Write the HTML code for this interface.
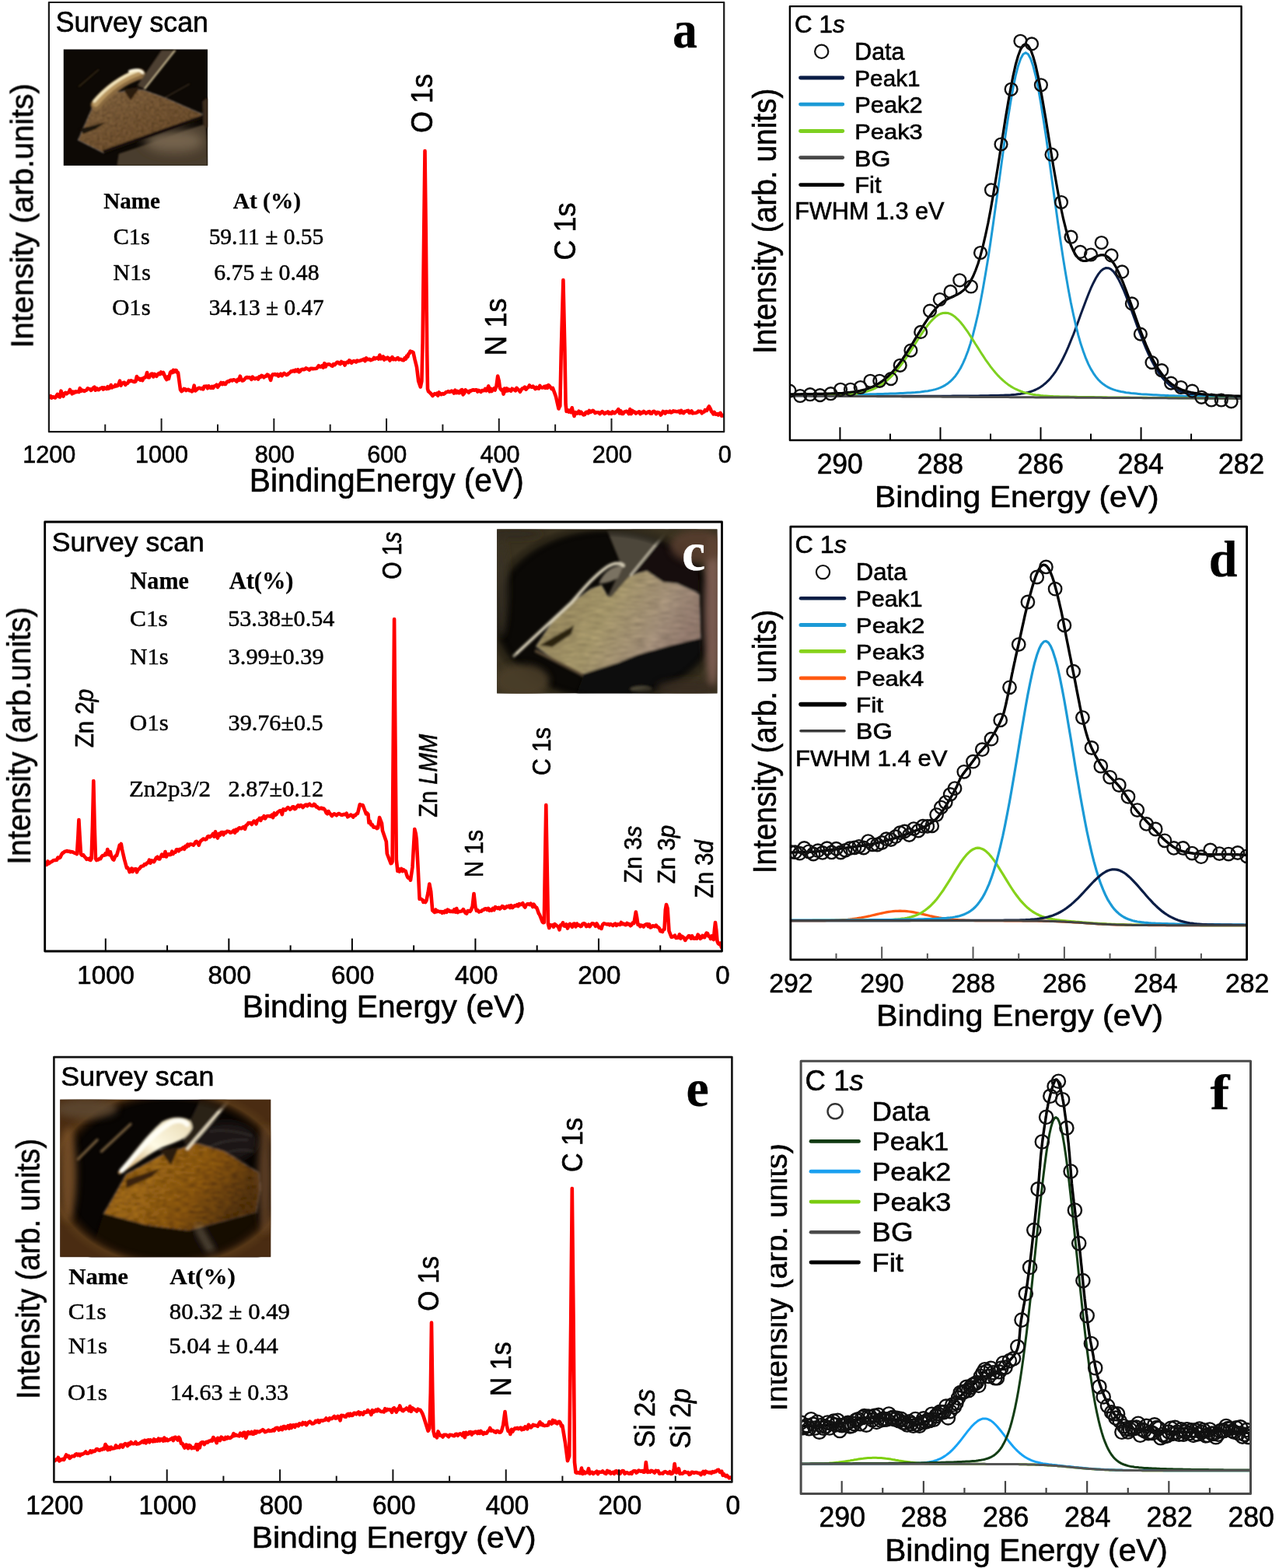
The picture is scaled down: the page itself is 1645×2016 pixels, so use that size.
<!DOCTYPE html>
<html><head><meta charset="utf-8"><title>XPS spectra</title>
<style>html,body{margin:0;padding:0;background:#fff;width:1645px;height:2016px;overflow:hidden;} svg{display:block;}</style></head>
<body><svg width="1645" height="2016" viewBox="0 0 1645 2016">
<rect width="1645" height="2016" fill="#fff"/>
<defs><clipPath id="clipf"><rect x="991.6" y="1400" width="60" height="500"/></clipPath>

<filter id="blA" x="-5%" y="-5%" width="110%" height="110%"><feGaussianBlur stdDeviation="9"/></filter>
<filter id="blA2" x="-20%" y="-20%" width="140%" height="140%"><feGaussianBlur stdDeviation="25"/></filter>
<filter id="blA3" x="-50%" y="-50%" width="200%" height="200%"><feGaussianBlur stdDeviation="60"/></filter>
<filter id="tex" x="0" y="0" width="100%" height="100%">
  <feTurbulence type="fractalNoise" baseFrequency="0.035" numOctaves="3" seed="4" result="n"/>
  <feColorMatrix in="n" type="matrix" values="1.0 0 0 0 0.3  1.0 0 0 0 0.28  1.0 0 0 0 0.25  0 0 0 0 1" result="g"/>
  <feBlend in="g" in2="SourceGraphic" mode="multiply" result="m"/>
  <feComposite in="m" in2="SourceGraphic" operator="in"/>
</filter>
<filter id="tex2" x="0" y="0" width="100%" height="100%">
  <feTurbulence type="fractalNoise" baseFrequency="0.01 0.07" numOctaves="3" seed="9" result="n"/>
  <feColorMatrix in="n" type="matrix" values="0.7 0 0 0 0.45  0.7 0 0 0 0.45  0.7 0 0 0 0.45  0 0 0 0 1" result="g"/>
  <feBlend in="g" in2="SourceGraphic" mode="multiply" result="m"/>
  <feComposite in="m" in2="SourceGraphic" operator="in"/>
</filter>
<filter id="tex3" x="0" y="0" width="100%" height="100%">
  <feTurbulence type="fractalNoise" baseFrequency="0.02 0.05" numOctaves="3" seed="5" result="n"/>
  <feColorMatrix in="n" type="matrix" values="1.1 0 0 0 0.25  1.1 0 0 0 0.2  1.1 0 0 0 0.15  0 0 0 0 1" result="g"/>
  <feBlend in="g" in2="SourceGraphic" mode="multiply" result="m"/>
  <feComposite in="m" in2="SourceGraphic" operator="in"/>
</filter>
<radialGradient id="vigC" cx="0.5" cy="0.52" r="0.56">
  <stop offset="0.84" stop-color="#000" stop-opacity="0"/>
  <stop offset="0.93" stop-color="#2c2618" stop-opacity="0.85"/>
  <stop offset="1" stop-color="#3a3220" stop-opacity="1"/>
</radialGradient>
<radialGradient id="vigE" cx="0.52" cy="0.5" r="0.6">
  <stop offset="0.80" stop-color="#1a0e04" stop-opacity="0"/>
  <stop offset="0.86" stop-color="#2a1808" stop-opacity="0.7"/>
  <stop offset="0.92" stop-color="#5a3a18" stop-opacity="0.95"/>
  <stop offset="1" stop-color="#4a2c12" stop-opacity="1"/>
</radialGradient>
<linearGradient id="sheetA" x1="0" y1="0" x2="1" y2="1">
  <stop offset="0" stop-color="#8d6e48"/><stop offset="0.5" stop-color="#7b5b37"/><stop offset="1" stop-color="#6a4c2c"/>
</linearGradient>
<linearGradient id="tubeA" x1="0" y1="0" x2="0.25" y2="1">
  <stop offset="0" stop-color="#f8e8b8"/><stop offset="0.35" stop-color="#c8a468"/><stop offset="0.7" stop-color="#8a6a40"/><stop offset="1" stop-color="#4a3520"/>
</linearGradient>
<linearGradient id="sheetC" x1="0" y1="0" x2="1" y2="0.3">
  <stop offset="0" stop-color="#98885c"/><stop offset="0.5" stop-color="#b4a474"/><stop offset="0.85" stop-color="#b09a84"/><stop offset="1" stop-color="#a08678"/>
</linearGradient>
<linearGradient id="sheetE" x1="0" y1="0" x2="1" y2="0.4">
  <stop offset="0" stop-color="#845210"/><stop offset="0.35" stop-color="#a8721a"/><stop offset="0.7" stop-color="#905c12"/><stop offset="1" stop-color="#5a380a"/>
</linearGradient>
<linearGradient id="toolE" x1="0" y1="1" x2="1" y2="0">
  <stop offset="0" stop-color="#c89850"/><stop offset="0.5" stop-color="#fffbe6"/><stop offset="1" stop-color="#e8d8b0"/>
</linearGradient>

</defs>
<svg x="81.5" y="63.3" width="185.6" height="149.6" viewBox="30 28 1590 1282" preserveAspectRatio="none" overflow="hidden">
<rect x="30" y="28" width="1590" height="1282" fill="#0d0905"/>
<g filter="url(#blA)">
<polygon points="620,1310 640,1180 1000,1060 1350,930 1600,850 1620,1310" fill="#4a3d2d"/>
<ellipse cx="1250" cy="1040" rx="330" ry="120" fill="#74644e" filter="url(#blA3)"/>
<polygon points="1560,600 1620,560 1620,900 1570,860" fill="#3a2a1c"/>
<polygon points="190,1030 360,640 600,500 900,470 1150,560 1560,740 1540,790 470,1170" fill="url(#sheetA)" filter="url(#tex)"/>
<polygon points="205,905 495,835 380,910 250,960" fill="#1a1208"/>
<polygon points="690,470 880,440 770,590" fill="#2c1c0e"/>
<line x1="470" y1="1160" x2="1560" y2="775" stroke="#130d07" stroke-width="40"/>
<path d="M390,640 C500,500 680,360 870,300" stroke="#8a6a40" stroke-width="120" fill="none" stroke-linecap="round"/>
<path d="M385,625 C500,490 670,350 860,285" stroke="#b89660" stroke-width="70" fill="none" stroke-linecap="round"/>
<path d="M370,600 C480,475 650,335 850,262" stroke="#f4e6bc" stroke-width="34" fill="none" stroke-linecap="round"/>
<path d="M760,270 C820,250 870,250 905,285" stroke="#fff8e0" stroke-width="30" fill="none" stroke-linecap="round"/>
<polygon points="1110,40 1270,40 930,470 845,425" fill="#4e4032"/>
<line x1="1262" y1="40" x2="925" y2="465" stroke="#e2d2a6" stroke-width="14"/>
<path d="M200,440 L420,250" stroke="#4a3a20" stroke-width="10" fill="none"/>
<path d="M1150,560 L1420,410" stroke="#5a4a35" stroke-width="8" fill="none"/>
</g>
</svg>
<svg x="639.2" y="680.4" width="283.3" height="211.0" viewBox="18 25 1607 1197" preserveAspectRatio="none" overflow="hidden">
<rect x="18" y="25" width="1607" height="1197" fill="#0b0906"/>
<g filter="url(#blA)">
<polygon points="1000,25 1480,25 1490,480 1000,400" fill="#15110c"/>
<polygon points="300,880 420,700 560,560 700,460 780,430 830,520 900,420 1000,360 1110,330 1230,410 1330,420 1460,480 1495,500 1505,820 1300,870 1050,940 900,1000 650,1080 500,1020" fill="url(#sheetC)" filter="url(#tex2)"/>
<polygon points="300,900 650,1080 640,1100 290,920" fill="#5a4a34"/>
<polygon points="330,870 580,725 560,790 420,885" fill="#2a2010"/>
<polygon points="650,1080 900,1000 1050,940 1300,870 1505,820 1510,1150 1200,1222 600,1222" fill="#0d0b08"/>
<ellipse cx="1070" cy="1190" rx="80" ry="22" fill="#4a4436"/>
<polygon points="820,30 1260,30 990,360 850,520 825,515 930,300" fill="#4e463a"/>
<path d="M760,420 C800,330 860,290 940,290 L900,380 C850,410 800,420 760,420 Z" fill="#7a7262"/>
<line x1="1262" y1="32" x2="990" y2="365" stroke="#d6ceb8" stroke-width="12"/>
<path d="M140,950 L560,560 C640,470 720,370 820,300 C870,270 910,265 940,290" stroke="#dcd4bc" stroke-width="22" fill="none" stroke-linecap="round"/>
</g>
<rect x="18" y="25" width="1607" height="1197" fill="url(#vigC)"/>
<g filter="url(#blA2)">
<ellipse cx="1590" cy="620" rx="60" ry="560" fill="#7e5e52" opacity="0.95"/>
<ellipse cx="1480" cy="150" rx="200" ry="120" fill="#5a4030" opacity="0.8"/>
<ellipse cx="50" cy="450" rx="50" ry="360" fill="#3a3424" opacity="0.85"/>
<ellipse cx="150" cy="60" rx="200" ry="40" fill="#2e2a1c" opacity="0.6"/>
<ellipse cx="200" cy="1130" rx="200" ry="120" fill="#4a3e28" opacity="0.9"/>
<ellipse cx="1400" cy="1180" rx="220" ry="60" fill="#3a2c20" opacity="0.8"/>
</g>
</svg>
<svg x="77.3" y="1413.7" width="270.9" height="202.4" viewBox="95 75 1485 1110" preserveAspectRatio="none" overflow="hidden">
<rect x="95" y="75" width="1485" height="1110" fill="#080503"/>
<g filter="url(#blA)">
<ellipse cx="1270" cy="370" rx="220" ry="140" fill="#1a1713" filter="url(#blA2)"/>
<path d="M1120,420 C1200,380 1300,350 1420,360 M1150,300 C1250,280 1350,300 1450,330 M1200,480 C1280,430 1380,420 1460,440" stroke="#4a4640" stroke-width="8" fill="none" opacity="0.7"/>
<polygon points="400,880 470,760 560,600 800,470 1050,380 1250,440 1500,590 1510,700 1480,870 1000,1000 700,960" fill="url(#sheetE)" filter="url(#tex3)"/>
<polygon points="560,640 800,560 740,620 560,700" fill="#3a2208"/>
<polygon points="400,880 700,960 1000,1000 1480,870 1500,1185 300,1185" fill="#120a04"/>
<path d="M1060,960 C1100,1050 1140,1100 1180,1180" stroke="#c8b898" stroke-width="46" opacity="0.45" fill="none" filter="url(#blA2)"/>
<polygon points="1080,80 1286,80 986,428 960,330" fill="#2a2016"/>
<line x1="1286" y1="82" x2="986" y2="428" stroke="#f4e8cc" stroke-width="20"/>
<path d="M502,588 C600,470 700,330 814,231 C870,195 960,190 1006,220 C1030,250 1030,280 1022,286 C990,340 950,357 951,357 C880,390 840,400 814,412 C740,450 680,494 677,494 C600,545 540,590 513,604 Z" fill="url(#toolE)"/>
<path d="M530,575 C640,450 760,300 880,235 C930,215 970,225 990,250" stroke="#fffef5" stroke-width="34" fill="none" stroke-linecap="round"/>
<polygon points="795,428 932,412 877,538" fill="#2a1a0c"/>
<path d="M220,496 L357,359 M386,441 L592,248" stroke="#7a6240" stroke-width="18" fill="none" stroke-linecap="round"/>
</g>
<rect x="95" y="75" width="1485" height="1110" fill="url(#vigE)"/>
<g filter="url(#blA2)">
<ellipse cx="150" cy="600" rx="60" ry="330" fill="#7a5228" opacity="0.9"/>
<ellipse cx="1540" cy="640" rx="50" ry="380" fill="#6e4a2a" opacity="0.8"/>
<ellipse cx="280" cy="140" rx="220" ry="70" fill="#5e4a34" opacity="0.8"/>
</g>
</svg>
<clipPath id="cpa"><rect x="63" y="3" width="868" height="552"/></clipPath>
<clipPath id="cpc"><rect x="58" y="671" width="870" height="552"/></clipPath>
<clipPath id="cpe"><rect x="69.5" y="1359" width="872" height="546"/></clipPath>
<clipPath id="cpb"><rect x="1016" y="8" width="580.5" height="558"/></clipPath>
<clipPath id="cpd"><rect x="1017" y="677" width="586.5" height="556.6"/></clipPath>
<clipPath id="cpf"><rect x="1030.5" y="1364" width="577.8" height="556.3"/></clipPath>
<path clip-path="url(#cpa)" d="M63.5,511.0 L65.0,509.1 L66.5,511.6 L68.0,510.2 L69.5,510.6 L71.0,511.4 L72.5,509.1 L74.0,506.9 L75.5,509.8 L77.0,510.5 L78.5,502.7 L80.0,508.0 L81.4,509.6 L82.8,506.0 L84.3,504.8 L85.7,506.3 L87.1,505.0 L88.5,504.6 L90.0,501.0 L91.4,503.7 L92.8,506.3 L94.2,503.7 L95.6,505.0 L97.1,503.3 L98.5,504.1 L99.9,503.3 L101.3,504.1 L102.8,499.1 L104.2,502.9 L105.6,501.5 L107.0,502.1 L108.5,502.9 L109.9,502.1 L111.3,501.6 L112.8,499.3 L114.2,500.0 L115.6,500.3 L117.1,501.9 L118.5,500.5 L120.0,498.6 L121.4,497.7 L122.8,501.6 L124.3,499.2 L125.7,501.0 L127.1,501.1 L128.6,499.6 L130.0,499.0 L131.4,498.3 L132.8,500.6 L134.2,498.5 L135.7,499.4 L137.1,500.0 L138.5,497.2 L139.9,499.5 L141.3,498.8 L142.7,495.0 L144.1,498.3 L145.5,497.2 L147.0,497.2 L148.4,495.0 L149.8,496.4 L151.2,496.0 L152.6,493.9 L154.1,489.7 L155.5,495.7 L157.0,493.1 L158.4,492.3 L159.9,491.8 L161.3,494.8 L162.8,493.0 L164.2,492.7 L165.7,489.7 L167.1,490.2 L168.6,489.4 L170.0,490.0 L171.5,490.5 L172.9,491.0 L174.4,490.6 L175.9,484.0 L177.4,487.3 L178.8,486.7 L180.3,488.6 L181.8,486.9 L183.3,489.1 L184.8,485.7 L186.2,485.5 L187.7,484.0 L189.1,479.0 L190.4,485.1 L191.8,485.3 L193.2,482.7 L194.5,480.7 L195.9,480.6 L197.3,484.5 L198.6,480.8 L200.0,482.0 L201.4,483.7 L202.9,481.2 L204.3,480.0 L205.7,481.1 L207.1,478.5 L208.6,480.2 L210.0,479.0 L211.5,482.5 L213.0,486.0 L214.3,488.0 L215.7,484.5 L217.0,487.0 L219.0,479.0 L220.3,477.6 L221.7,479.0 L223.0,475.9 L224.4,478.1 L225.7,476.0 L226.8,476.3 L227.9,478.8 L229.0,479.0 L230.5,490.0 L232.0,501.0 L233.5,503.2 L235.0,502.2 L236.5,499.9 L238.0,500.2 L239.4,502.0 L240.9,501.1 L242.4,500.9 L243.9,502.3 L245.4,502.0 L246.8,503.4 L248.3,501.7 L249.7,495.7 L251.2,502.4 L252.6,501.2 L254.1,499.9 L255.5,498.9 L256.9,498.9 L258.4,499.9 L259.8,499.2 L261.3,500.4 L262.7,496.7 L264.1,496.8 L265.6,496.5 L267.0,499.3 L268.5,496.3 L269.9,498.3 L271.4,498.8 L272.8,497.0 L274.2,498.7 L275.7,496.4 L277.1,496.1 L278.6,494.7 L280.0,497.8 L281.4,495.7 L282.9,493.9 L284.3,492.0 L285.7,494.0 L287.2,492.1 L288.6,494.0 L290.1,494.0 L291.5,491.4 L292.9,490.4 L294.4,490.7 L295.8,489.1 L297.2,488.7 L298.7,489.4 L300.1,488.3 L301.6,488.6 L303.0,489.0 L304.5,490.5 L305.9,487.9 L307.4,488.8 L308.8,483.6 L310.3,487.7 L311.7,489.5 L313.2,489.1 L314.6,487.5 L316.1,485.8 L317.5,485.0 L319.0,485.6 L320.5,485.2 L321.9,485.8 L323.4,487.9 L324.8,484.6 L326.3,486.3 L327.7,487.1 L329.2,486.3 L330.6,485.8 L332.1,487.5 L333.5,484.3 L335.0,485.0 L336.4,482.8 L337.9,483.5 L339.4,485.2 L340.8,483.9 L342.2,483.7 L343.7,481.6 L345.1,482.2 L346.6,484.7 L348.1,488.8 L349.5,483.4 L350.9,481.2 L352.4,481.6 L353.9,481.0 L355.3,482.1 L356.8,481.2 L358.2,483.6 L359.6,482.2 L361.1,480.6 L362.6,483.2 L364.0,481.0 L365.5,479.9 L367.0,481.3 L368.4,482.1 L369.9,481.5 L371.4,480.0 L372.9,479.1 L374.3,477.4 L375.8,477.5 L377.3,476.5 L378.8,477.5 L380.2,475.7 L381.7,477.1 L383.2,475.2 L384.7,478.3 L386.1,477.2 L387.6,475.2 L389.1,474.8 L390.6,475.2 L392.0,474.8 L393.5,473.3 L395.0,474.0 L396.5,474.8 L398.0,475.6 L399.5,473.8 L400.9,473.8 L402.4,474.3 L403.9,474.0 L405.4,474.0 L406.9,473.8 L408.4,472.3 L409.9,470.2 L411.3,471.4 L412.8,471.7 L414.3,470.2 L415.8,472.5 L417.3,467.1 L418.8,471.5 L420.2,468.8 L421.7,468.5 L423.2,468.2 L424.7,469.0 L426.1,470.0 L427.6,470.6 L429.0,468.2 L430.5,469.2 L431.9,467.3 L433.4,465.8 L434.8,465.7 L436.2,467.3 L437.7,468.0 L439.1,465.0 L440.6,466.7 L442.0,466.2 L443.5,469.5 L444.9,466.6 L446.3,465.6 L447.8,466.2 L449.2,463.3 L450.7,464.2 L452.1,466.7 L453.6,465.2 L455.0,464.0 L456.5,464.8 L457.9,465.5 L459.4,463.5 L460.8,464.2 L462.3,463.9 L463.7,463.6 L465.2,462.8 L466.6,462.8 L468.1,461.6 L469.5,464.2 L471.0,460.4 L472.4,462.3 L473.9,462.1 L475.3,461.9 L476.8,463.1 L478.2,462.5 L479.7,462.1 L481.1,459.9 L482.6,461.3 L484.0,460.4 L485.5,460.0 L486.9,461.6 L488.4,456.5 L489.9,461.4 L491.3,459.8 L492.8,458.4 L494.2,462.6 L495.6,460.3 L497.1,461.3 L498.6,459.6 L500.0,461.0 L501.5,463.5 L502.9,460.9 L504.4,459.1 L505.9,462.2 L507.3,461.4 L508.8,462.3 L510.3,460.8 L511.7,460.2 L513.2,462.3 L514.7,461.8 L516.1,462.1 L517.6,463.0 L519.1,463.3 L520.5,460.4 L522.0,461.5 L523.2,457.5 L524.3,458.8 L525.5,455.0 L526.5,454.4 L527.6,451.5 L528.6,452.0 L530.0,452.3 L531.5,453.0 L533.5,462.0 L536.0,472.0 L538.2,490.0 L540.8,497.5 L542.4,490.0 L543.6,440.0 L545.2,300.0 L546.5,194.0 L547.8,300.0 L549.2,450.0 L550.0,500.0 L551.0,503.2 L552.0,504.0 L553.5,505.4 L554.9,506.9 L556.4,509.0 L557.8,507.3 L559.1,506.2 L560.5,506.9 L561.9,505.8 L563.3,508.6 L564.6,504.4 L566.0,506.0 L567.5,507.1 L569.0,506.0 L570.5,506.7 L572.0,505.8 L573.5,504.3 L575.0,504.0 L576.5,503.1 L578.0,504.0 L579.5,503.8 L580.9,502.6 L582.4,503.1 L583.9,505.5 L585.3,501.7 L586.8,505.2 L588.3,503.0 L589.7,505.3 L591.2,505.1 L592.7,501.8 L594.1,501.1 L595.6,507.4 L597.1,505.6 L598.5,501.3 L600.0,503.0 L601.4,503.0 L602.9,504.8 L604.3,502.5 L605.7,502.7 L607.1,501.7 L608.6,501.2 L610.0,501.8 L611.4,501.4 L612.9,501.2 L614.3,503.6 L615.7,501.9 L617.1,502.8 L618.6,503.9 L620.0,502.0 L621.4,502.1 L622.8,502.1 L624.1,500.0 L625.5,502.3 L626.9,499.9 L628.3,496.5 L629.7,503.3 L631.1,499.7 L632.5,503.0 L633.8,501.0 L635.2,499.5 L636.6,501.5 L638.5,496.0 L640.2,483.5 L641.8,490.0 L643.0,499.0 L643.9,500.0 L644.8,501.5 L646.2,501.0 L647.6,506.6 L648.9,499.6 L650.3,503.0 L651.7,499.3 L653.1,502.3 L654.5,500.7 L655.9,501.9 L657.2,502.6 L658.6,499.7 L660.0,501.0 L661.5,500.9 L663.0,502.4 L664.5,498.9 L666.0,500.5 L667.5,501.8 L669.0,503.7 L670.5,501.0 L672.0,499.3 L673.5,499.3 L675.0,497.6 L676.5,500.7 L678.0,498.8 L679.5,498.0 L681.0,495.5 L682.5,497.2 L684.0,497.8 L685.5,496.6 L687.0,498.2 L688.5,500.0 L690.0,498.0 L691.4,499.2 L692.9,499.6 L694.3,496.0 L695.7,497.8 L697.1,498.5 L698.6,498.2 L700.0,497.0 L701.4,498.8 L702.7,496.4 L704.1,498.8 L705.4,495.1 L706.8,496.5 L708.2,498.2 L709.6,500.0 L711.0,499.0 L715.0,510.0 L718.5,525.5 L719.4,523.4 L720.3,522.0 L721.8,450.0 L724.4,360.0 L726.4,450.0 L727.6,520.0 L728.6,529.0 L730.0,527.1 L731.5,529.5 L732.9,527.6 L734.3,530.1 L735.7,524.3 L737.1,530.4 L738.6,535.0 L740.0,530.0 L741.5,531.8 L743.0,531.4 L744.5,528.7 L746.0,531.8 L747.5,529.8 L749.0,531.8 L750.5,533.4 L752.0,533.1 L753.5,530.1 L755.0,529.6 L756.5,531.3 L758.0,528.0 L759.5,529.8 L761.0,529.1 L762.5,527.8 L764.0,529.1 L765.5,531.1 L767.0,530.2 L768.5,530.2 L770.0,530.2 L771.5,532.0 L773.0,530.6 L774.4,529.1 L775.9,530.4 L777.4,532.1 L778.9,530.6 L780.4,531.0 L781.9,529.4 L783.4,531.9 L784.9,530.7 L786.4,531.9 L787.9,529.5 L789.4,531.3 L790.9,531.1 L792.4,529.3 L793.9,528.3 L795.4,526.1 L796.9,531.4 L798.4,528.4 L799.9,532.0 L801.4,531.9 L802.9,529.7 L804.4,529.3 L805.9,528.7 L807.4,530.0 L808.9,532.0 L810.3,526.2 L811.8,532.1 L813.2,527.9 L814.7,529.9 L816.2,529.6 L817.6,531.5 L819.1,530.5 L820.5,530.2 L822.0,529.3 L823.5,532.1 L824.9,530.2 L826.4,530.8 L827.9,529.0 L829.3,529.9 L830.8,531.6 L832.2,530.8 L833.7,529.5 L835.2,529.1 L836.6,531.8 L838.1,531.6 L839.5,529.5 L841.0,528.7 L842.5,529.6 L843.9,532.2 L845.4,530.0 L846.9,530.2 L848.3,531.1 L849.8,533.5 L851.2,531.9 L852.7,529.0 L854.2,529.7 L855.6,531.5 L857.1,529.0 L858.5,529.6 L860.0,530.0 L861.5,528.6 L862.9,530.4 L864.4,530.1 L865.9,528.4 L867.4,529.0 L868.8,528.9 L870.3,529.3 L871.8,529.2 L873.3,528.5 L874.7,530.7 L876.2,527.9 L877.7,530.6 L879.2,531.2 L880.6,529.0 L882.1,529.0 L883.6,528.2 L885.1,527.9 L886.5,530.6 L888.0,530.5 L889.5,528.4 L891.0,531.4 L892.4,531.0 L893.9,531.0 L895.4,530.7 L896.9,530.1 L898.3,528.6 L899.8,529.0 L901.3,528.9 L902.8,531.3 L904.2,529.8 L905.7,529.5 L906.8,527.2 L907.9,527.6 L909.0,528.0 L910.0,526.1 L911.0,524.0 L912.0,522.4 L913.0,524.5 L914.0,526.2 L915.0,529.0 L916.3,530.2 L917.5,532.4 L918.8,530.0 L920.0,532.4 L921.3,532.7 L922.5,532.2 L923.8,533.5 L925.0,532.0 L926.5,531.0 L928.0,534.5 L929.5,533.9 L931.0,535.0" fill="none" stroke="#ff0000" stroke-width="4.6" stroke-linejoin="round" stroke-linecap="round"/>
<path clip-path="url(#cpc)" d="M58.5,1110.5 L59.9,1111.9 L61.4,1107.4 L62.8,1110.3 L64.2,1109.0 L65.7,1108.2 L67.1,1107.5 L68.6,1106.3 L70.0,1106.0 L71.5,1105.9 L73.0,1105.8 L74.5,1102.5 L76.0,1103.1 L77.5,1102.4 L78.9,1099.1 L80.4,1096.9 L81.9,1096.1 L83.4,1094.7 L84.9,1094.5 L86.4,1094.0 L87.8,1094.7 L89.3,1094.6 L90.7,1095.4 L92.1,1095.1 L93.5,1095.5 L95.0,1096.3 L96.4,1097.0 L97.7,1097.1 L99.0,1098.0 L100.4,1075.0 L101.4,1054.0 L102.6,1075.0 L104.0,1098.0 L105.5,1099.7 L107.0,1099.0 L108.5,1101.1 L110.0,1102.7 L111.5,1104.8 L113.0,1104.0 L114.2,1105.0 L115.3,1103.8 L116.4,1105.9 L117.6,1104.0 L119.0,1060.0 L120.3,1004.0 L121.6,1060.0 L123.0,1104.0 L124.1,1106.0 L125.2,1105.5 L126.3,1105.5 L127.7,1104.0 L129.2,1104.1 L130.6,1101.6 L132.0,1100.0 L133.3,1099.8 L134.5,1099.5 L135.8,1097.2 L137.1,1098.7 L138.3,1092.0 L139.6,1095.5 L140.7,1099.2 L141.9,1095.3 L143.0,1100.0 L144.1,1102.6 L145.2,1104.8 L146.3,1105.5 L147.5,1102.6 L148.8,1100.3 L150.0,1100.0 L153.0,1090.0 L153.8,1086.6 L154.6,1087.2 L155.8,1085.0 L157.0,1092.0 L160.0,1105.0 L163.0,1116.0 L164.2,1115.6 L165.4,1117.6 L166.7,1121.2 L167.9,1120.4 L169.2,1116.5 L170.6,1120.7 L171.9,1117.5 L173.3,1117.5 L174.6,1117.1 L176.0,1121.4 L177.3,1118.1 L178.7,1117.4 L180.0,1116.0 L181.5,1114.0 L183.0,1113.6 L184.5,1113.3 L186.0,1111.1 L187.5,1111.5 L189.0,1109.6 L190.5,1109.3 L192.0,1105.7 L193.5,1109.5 L195.0,1106.3 L196.5,1106.9 L198.0,1108.1 L199.5,1105.5 L200.9,1102.9 L202.4,1101.8 L203.8,1104.2 L205.3,1104.5 L206.7,1101.5 L208.2,1098.6 L209.6,1100.9 L211.0,1100.9 L212.5,1095.0 L213.9,1101.5 L215.4,1098.9 L216.8,1098.0 L218.3,1099.1 L219.7,1098.8 L221.2,1094.7 L222.6,1097.9 L224.0,1096.0 L225.5,1095.8 L226.9,1092.4 L228.4,1092.3 L229.8,1094.2 L231.3,1091.9 L232.7,1092.2 L234.1,1091.2 L235.6,1089.7 L237.0,1091.8 L238.5,1087.9 L239.9,1089.0 L241.3,1085.6 L242.8,1087.4 L244.2,1085.5 L245.7,1085.4 L247.1,1085.7 L248.6,1086.7 L250.0,1085.0 L251.4,1082.6 L252.8,1081.8 L254.2,1083.6 L255.7,1086.6 L257.1,1082.8 L258.5,1080.9 L259.9,1080.0 L261.3,1078.5 L262.7,1078.7 L264.1,1079.5 L265.5,1078.9 L267.0,1075.6 L268.4,1075.0 L269.8,1076.2 L271.2,1075.1 L272.6,1074.0 L274.1,1071.9 L275.6,1075.6 L277.0,1069.3 L278.5,1074.7 L280.0,1077.5 L281.5,1071.9 L282.9,1073.8 L284.4,1070.3 L285.9,1070.0 L287.4,1073.3 L288.9,1070.2 L290.3,1070.7 L291.8,1068.9 L293.3,1068.9 L294.8,1069.2 L296.2,1070.6 L297.7,1070.2 L299.2,1069.0 L300.6,1067.8 L302.1,1070.7 L303.5,1066.6 L305.0,1068.3 L306.4,1065.6 L307.9,1064.3 L309.3,1065.1 L310.7,1065.3 L312.2,1063.7 L313.6,1063.2 L315.1,1065.9 L316.5,1061.3 L318.0,1060.4 L319.4,1058.1 L320.9,1058.0 L322.3,1058.1 L323.7,1060.0 L325.2,1057.5 L326.6,1055.6 L328.1,1056.3 L329.5,1059.3 L331.0,1054.6 L332.4,1054.0 L333.8,1052.0 L335.3,1054.9 L336.7,1051.6 L338.2,1051.8 L339.6,1049.2 L341.1,1052.4 L342.5,1049.8 L344.0,1049.2 L345.4,1049.3 L346.9,1049.4 L348.3,1049.8 L349.8,1047.6 L351.2,1051.0 L352.7,1045.4 L354.1,1047.9 L355.6,1046.8 L357.0,1044.3 L358.5,1043.3 L359.9,1042.2 L361.4,1042.4 L362.8,1047.2 L364.3,1040.4 L365.7,1040.7 L367.2,1041.7 L368.7,1039.7 L370.2,1038.1 L371.6,1039.1 L373.1,1040.8 L374.6,1039.6 L376.1,1037.5 L377.6,1037.2 L379.1,1040.2 L380.5,1039.3 L382.0,1037.0 L383.5,1035.4 L385.0,1037.0 L386.5,1035.3 L387.9,1035.6 L389.4,1038.2 L390.8,1036.7 L392.3,1035.1 L393.7,1034.5 L395.2,1036.2 L396.6,1034.5 L398.1,1033.7 L399.5,1035.3 L401.0,1035.9 L402.4,1035.9 L403.9,1034.0 L405.3,1034.8 L406.7,1037.5 L408.1,1037.4 L409.4,1038.9 L410.8,1039.9 L412.2,1039.0 L413.6,1038.7 L415.0,1040.0 L416.5,1039.6 L418.0,1041.4 L419.5,1044.9 L421.0,1046.2 L422.5,1043.1 L424.0,1045.6 L425.5,1047.3 L426.9,1049.1 L428.4,1047.2 L429.9,1046.4 L431.3,1047.1 L432.8,1048.3 L434.2,1046.9 L435.6,1046.0 L437.1,1046.6 L438.6,1047.6 L440.0,1048.0 L441.4,1047.3 L442.8,1046.9 L444.2,1047.4 L445.7,1045.8 L447.1,1050.3 L448.5,1049.5 L449.9,1048.4 L451.3,1047.6 L452.8,1048.9 L454.2,1050.6 L455.6,1048.3 L457.0,1048.5 L458.5,1046.4 L460.0,1046.0 L462.8,1034.3 L464.1,1035.1 L465.4,1035.1 L466.7,1035.3 L469.6,1043.0 L470.9,1046.5 L472.2,1045.5 L473.5,1047.0 L474.5,1058.0 L475.9,1056.0 L477.4,1060.5 L478.9,1060.4 L480.3,1063.5 L481.8,1063.8 L483.2,1063.5 L484.7,1065.2 L486.1,1064.5 L488.1,1051.0 L491.0,1058.6 L492.0,1068.0 L496.8,1082.0 L497.8,1097.5 L502.7,1110.2 L503.6,1109.8 L504.6,1108.0 L505.8,950.0 L507.1,796.0 L508.4,950.0 L509.8,1105.0 L511.4,1119.9 L512.6,1117.1 L513.8,1120.6 L515.1,1119.1 L516.3,1117.0 L517.7,1120.1 L519.0,1118.2 L520.4,1119.6 L521.7,1119.9 L523.1,1124.8 L524.3,1127.9 L525.5,1129.0 L526.8,1128.3 L528.0,1131.6 L530.5,1115.0 L531.9,1090.0 L533.3,1066.0 L534.8,1072.0 L535.8,1080.0 L537.7,1117.0 L539.6,1155.9 L540.8,1155.3 L542.0,1156.1 L543.3,1156.9 L544.5,1159.8 L545.8,1158.6 L547.1,1160.1 L548.4,1157.9 L550.5,1148.0 L552.3,1136.5 L554.2,1146.2 L556.2,1170.5 L557.6,1171.7 L559.0,1172.9 L560.4,1169.6 L561.7,1172.2 L563.1,1171.4 L564.5,1171.9 L565.9,1172.5 L567.3,1172.0 L568.7,1173.7 L570.1,1172.1 L571.5,1173.3 L573.0,1170.8 L574.4,1172.8 L575.8,1169.7 L577.2,1170.4 L578.6,1172.0 L580.0,1171.5 L581.4,1172.0 L582.9,1172.2 L584.3,1169.3 L585.8,1172.6 L587.2,1168.0 L588.7,1173.2 L590.1,1171.8 L591.6,1172.0 L593.0,1171.6 L594.4,1171.2 L595.9,1169.1 L597.3,1171.9 L598.8,1174.0 L600.2,1174.6 L601.7,1171.0 L603.1,1171.1 L604.6,1171.9 L606.0,1170.0 L606.8,1167.3 L607.6,1166.0 L609.5,1149.0 L611.4,1166.0 L613.0,1171.0 L614.5,1170.4 L616.0,1172.5 L617.5,1171.7 L619.0,1171.6 L620.5,1170.0 L622.0,1169.9 L623.5,1168.5 L625.0,1168.3 L626.5,1169.8 L628.0,1167.9 L629.5,1170.8 L631.0,1169.5 L632.5,1170.5 L634.0,1167.8 L635.5,1170.0 L637.0,1166.2 L638.5,1166.8 L640.0,1168.0 L641.5,1167.0 L642.9,1168.6 L644.4,1167.1 L645.9,1165.1 L647.3,1165.6 L648.8,1167.9 L650.3,1167.1 L651.8,1165.3 L653.2,1166.0 L654.7,1164.7 L656.2,1167.1 L657.6,1164.2 L659.1,1167.0 L660.6,1165.5 L662.0,1164.3 L663.5,1164.8 L665.0,1163.2 L666.4,1165.1 L667.9,1162.2 L669.4,1163.2 L670.8,1162.5 L672.3,1161.3 L673.8,1164.7 L675.3,1166.5 L676.7,1163.5 L678.2,1162.4 L679.7,1162.2 L681.1,1163.2 L682.6,1161.7 L683.9,1163.6 L685.2,1166.0 L686.4,1162.6 L687.7,1164.3 L689.0,1166.6 L690.2,1167.0 L691.5,1170.4 L692.8,1174.3 L694.0,1176.0 L697.5,1185.0 L698.6,1186.3 L699.8,1186.0 L701.0,1110.0 L702.3,1035.0 L703.6,1110.0 L705.0,1188.0 L706.3,1193.1 L707.7,1189.2 L709.0,1190.0 L710.5,1189.3 L712.0,1191.8 L713.5,1188.2 L715.0,1189.3 L716.5,1190.5 L718.0,1191.6 L719.5,1195.4 L721.0,1189.5 L722.5,1189.1 L724.0,1186.3 L725.5,1190.5 L727.0,1190.8 L728.5,1188.5 L730.0,1193.6 L731.5,1190.3 L733.0,1187.8 L734.5,1189.8 L736.0,1191.8 L737.5,1187.7 L739.0,1187.5 L740.5,1191.5 L742.0,1187.5 L743.5,1189.7 L745.0,1189.4 L746.5,1191.1 L748.0,1190.5 L749.5,1187.6 L751.0,1187.2 L752.5,1187.8 L754.0,1191.1 L755.5,1190.5 L757.0,1188.8 L758.5,1191.2 L760.0,1189.0 L761.5,1187.4 L763.0,1187.5 L764.5,1188.5 L766.0,1190.9 L767.5,1187.4 L769.0,1189.9 L770.5,1192.7 L772.0,1192.6 L773.5,1193.9 L775.0,1188.8 L776.5,1187.3 L778.0,1187.8 L779.5,1188.1 L781.0,1188.5 L782.5,1188.0 L784.0,1189.3 L785.5,1188.1 L787.0,1189.1 L788.4,1190.0 L789.9,1188.4 L791.4,1187.7 L792.9,1189.9 L794.4,1188.3 L795.9,1188.6 L797.4,1189.0 L798.9,1186.0 L800.4,1188.2 L801.9,1187.5 L803.4,1188.8 L804.9,1189.2 L806.4,1186.9 L807.9,1188.5 L809.4,1188.0 L810.9,1190.2 L812.4,1188.9 L813.9,1186.3 L815.4,1187.0 L816.6,1180.0 L817.8,1172.5 L819.2,1180.0 L820.5,1189.0 L822.0,1188.7 L823.4,1191.2 L824.9,1189.6 L826.3,1190.1 L827.8,1191.5 L829.3,1189.2 L830.7,1188.5 L832.2,1188.1 L833.6,1191.0 L835.1,1188.4 L836.5,1192.5 L838.0,1191.9 L839.5,1190.3 L840.9,1190.7 L842.4,1191.2 L843.8,1189.6 L845.3,1191.6 L846.6,1192.3 L848.0,1193.6 L849.3,1197.2 L850.7,1197.4 L852.0,1198.0 L853.2,1195.2 L854.5,1195.0 L855.8,1170.0 L857.0,1163.0 L858.6,1168.0 L860.5,1197.0 L863.6,1204.9 L865.1,1204.5 L866.6,1203.6 L868.0,1202.7 L869.5,1206.0 L871.0,1205.7 L872.5,1205.4 L874.0,1201.3 L875.4,1206.7 L876.9,1203.7 L878.4,1204.7 L879.9,1206.0 L881.3,1208.9 L882.8,1206.6 L884.3,1205.2 L885.8,1203.2 L887.3,1203.5 L888.7,1206.6 L890.2,1203.4 L891.7,1206.5 L893.2,1206.7 L894.6,1205.8 L896.1,1206.7 L897.6,1201.6 L899.1,1203.5 L900.6,1206.8 L902.0,1205.8 L903.5,1203.0 L905.0,1204.9 L906.2,1205.2 L907.5,1201.6 L908.8,1199.5 L910.0,1200.0 L911.3,1203.7 L912.7,1203.9 L914.0,1207.0 L915.3,1203.3 L916.5,1207.0 L917.8,1208.0 L919.0,1195.0 L920.0,1186.0 L921.2,1195.0 L922.5,1210.0 L923.8,1213.0 L925.0,1214.0 L926.5,1212.7 L928.0,1218.0" fill="none" stroke="#ff0000" stroke-width="4.6" stroke-linejoin="round" stroke-linecap="round"/>
<path clip-path="url(#cpe)" d="M70.5,1878.0 L72.0,1876.5 L73.5,1876.7 L74.9,1874.0 L76.4,1878.4 L77.9,1876.5 L79.3,1876.9 L80.8,1875.8 L82.3,1876.8 L83.8,1873.3 L85.2,1870.5 L86.7,1872.7 L88.2,1871.8 L89.7,1874.9 L91.2,1873.5 L92.6,1872.3 L94.1,1872.1 L95.6,1872.4 L97.0,1870.1 L98.5,1869.3 L100.0,1871.0 L101.5,1869.6 L103.0,1871.5 L104.4,1869.6 L105.9,1869.9 L107.4,1868.9 L108.9,1868.2 L110.3,1866.5 L111.8,1868.7 L113.3,1868.7 L114.8,1867.7 L116.3,1865.4 L117.7,1867.4 L119.2,1865.5 L120.7,1866.1 L122.2,1865.7 L123.7,1863.5 L125.1,1863.0 L126.6,1864.4 L128.1,1864.9 L129.6,1863.5 L131.0,1863.9 L132.5,1862.4 L134.0,1863.0 L135.5,1857.1 L137.0,1859.3 L138.5,1864.2 L140.0,1860.8 L141.5,1863.7 L143.0,1860.6 L144.5,1862.5 L146.0,1862.3 L147.5,1862.0 L149.0,1858.3 L150.5,1861.2 L152.0,1860.1 L153.5,1861.1 L155.0,1857.9 L156.5,1857.9 L158.0,1860.5 L159.5,1857.5 L161.0,1856.1 L162.5,1856.7 L164.0,1859.0 L165.5,1855.9 L167.0,1857.0 L168.5,1854.2 L170.0,1856.0 L171.5,1856.3 L173.0,1856.0 L174.4,1854.0 L175.9,1856.6 L177.4,1856.2 L178.9,1856.1 L180.3,1855.3 L181.8,1854.2 L183.3,1853.0 L184.8,1854.6 L186.2,1851.8 L187.7,1855.3 L189.2,1851.9 L190.7,1851.4 L192.1,1854.4 L193.6,1851.3 L195.1,1852.4 L196.6,1853.4 L198.0,1850.4 L199.5,1853.0 L201.0,1851.4 L202.5,1852.6 L203.9,1849.6 L205.4,1852.4 L206.8,1850.3 L208.3,1850.5 L209.8,1852.6 L211.2,1848.5 L212.7,1852.2 L214.2,1850.1 L215.6,1852.2 L217.1,1851.3 L218.5,1850.8 L220.0,1850.0 L221.4,1849.0 L222.8,1852.2 L224.3,1848.2 L225.7,1847.8 L227.1,1849.9 L228.6,1851.5 L230.0,1847.8 L231.4,1849.7 L233.0,1856.0 L234.5,1855.8 L236.0,1859.0 L237.5,1861.6 L239.0,1857.5 L240.5,1858.0 L242.0,1862.1 L243.5,1858.1 L245.0,1859.2 L246.5,1862.1 L248.0,1861.0 L249.5,1861.8 L250.9,1861.3 L252.4,1857.2 L253.9,1864.0 L255.3,1857.2 L256.8,1861.4 L258.3,1855.0 L259.7,1854.4 L261.2,1854.3 L262.7,1857.2 L264.1,1855.1 L265.6,1853.8 L267.1,1854.7 L268.5,1852.9 L270.0,1853.0 L271.4,1851.9 L272.9,1852.6 L274.3,1848.0 L275.8,1849.7 L277.2,1852.1 L278.7,1855.2 L280.1,1848.8 L281.6,1851.6 L283.0,1852.1 L284.5,1847.7 L285.9,1848.5 L287.3,1850.5 L288.8,1850.8 L290.2,1848.0 L291.7,1849.5 L293.1,1847.8 L294.6,1849.0 L296.0,1849.0 L297.5,1847.7 L298.9,1846.9 L300.4,1843.2 L301.8,1846.0 L303.2,1844.6 L304.7,1845.6 L306.1,1845.9 L307.6,1846.4 L309.0,1842.7 L310.5,1845.2 L311.9,1846.2 L313.3,1841.7 L314.8,1841.9 L316.2,1848.8 L317.7,1844.8 L319.1,1841.0 L320.6,1843.3 L322.0,1843.2 L323.5,1841.0 L324.9,1843.8 L326.3,1843.6 L327.8,1840.1 L329.2,1842.6 L330.7,1840.4 L332.1,1840.9 L333.6,1841.1 L335.0,1840.0 L336.5,1839.4 L337.9,1838.1 L339.4,1839.3 L340.9,1841.2 L342.4,1840.6 L343.8,1839.9 L345.3,1838.7 L346.8,1840.0 L348.3,1839.5 L349.7,1839.6 L351.2,1838.2 L352.7,1839.4 L354.2,1836.4 L355.6,1835.9 L357.1,1835.9 L358.6,1838.5 L360.1,1837.5 L361.5,1835.2 L363.0,1838.1 L364.5,1834.0 L366.0,1834.0 L367.4,1836.9 L368.9,1835.5 L370.4,1833.2 L371.9,1836.6 L373.3,1832.3 L374.8,1835.8 L376.3,1832.6 L377.8,1832.3 L379.3,1834.9 L380.7,1831.9 L382.2,1831.9 L383.7,1833.4 L385.2,1830.3 L386.7,1830.9 L388.2,1831.8 L389.6,1829.0 L391.1,1830.6 L392.6,1829.3 L394.1,1832.2 L395.6,1830.1 L397.0,1828.6 L398.5,1827.6 L400.0,1829.0 L401.5,1830.5 L403.0,1830.3 L404.5,1829.3 L406.0,1826.9 L407.5,1828.1 L409.0,1826.1 L410.5,1828.8 L412.0,1826.7 L413.5,1826.2 L415.0,1826.8 L416.5,1825.9 L418.0,1825.9 L419.5,1823.5 L421.0,1825.3 L422.5,1826.2 L424.0,1823.3 L425.5,1824.1 L427.0,1824.0 L428.5,1822.2 L430.0,1820.9 L431.5,1823.6 L433.0,1823.2 L434.5,1820.8 L436.0,1821.5 L437.5,1826.4 L439.0,1819.9 L440.4,1820.1 L441.9,1820.1 L443.4,1821.5 L444.9,1821.6 L446.3,1818.8 L447.8,1817.9 L449.3,1820.3 L450.8,1817.7 L452.3,1819.9 L453.7,1819.7 L455.2,1816.8 L456.7,1816.8 L458.2,1818.2 L459.7,1816.6 L461.1,1815.4 L462.6,1818.9 L464.1,1816.4 L465.6,1817.1 L467.0,1818.6 L468.5,1815.4 L470.0,1816.0 L471.5,1815.8 L473.0,1813.1 L474.5,1815.4 L475.9,1815.1 L477.4,1818.8 L478.9,1813.2 L480.4,1815.5 L481.9,1814.5 L483.4,1812.8 L484.9,1814.3 L486.3,1812.0 L487.8,1813.1 L489.3,1814.6 L490.8,1815.0 L492.3,1814.8 L493.8,1815.4 L495.2,1811.1 L496.7,1813.7 L498.2,1811.9 L499.7,1812.5 L501.1,1812.1 L502.6,1813.3 L504.1,1815.8 L505.5,1811.1 L506.9,1810.2 L508.4,1813.1 L509.9,1815.6 L511.3,1811.6 L512.8,1812.3 L514.2,1807.4 L515.6,1811.0 L517.1,1813.6 L518.5,1814.1 L520.0,1812.0 L521.5,1812.1 L522.9,1810.5 L524.4,1811.9 L525.9,1813.7 L527.3,1808.0 L528.8,1814.7 L530.2,1810.3 L531.7,1811.2 L533.2,1812.4 L534.6,1813.1 L536.1,1814.5 L537.6,1811.7 L539.0,1812.6 L540.5,1812.8 L542.0,1815.0 L543.5,1817.9 L545.0,1822.0 L550.6,1839.7 L551.5,1838.4 L552.5,1836.0 L553.8,1790.0 L555.0,1700.5 L556.3,1790.0 L557.4,1840.0 L559.0,1846.4 L560.5,1844.5 L562.0,1848.3 L563.5,1840.4 L565.0,1843.9 L566.5,1845.8 L568.0,1845.8 L569.5,1847.5 L571.0,1844.9 L572.5,1844.8 L574.0,1844.9 L575.5,1845.9 L577.0,1847.2 L578.5,1844.7 L580.0,1845.0 L581.5,1845.1 L583.0,1846.0 L584.4,1846.2 L585.9,1844.1 L587.4,1843.8 L588.9,1845.7 L590.4,1844.0 L591.9,1843.4 L593.3,1844.0 L594.8,1845.7 L596.3,1842.2 L597.8,1848.1 L599.3,1841.8 L600.7,1844.2 L602.2,1843.8 L603.7,1841.3 L605.2,1841.1 L606.7,1844.6 L608.1,1841.6 L609.6,1842.3 L611.1,1840.9 L612.6,1840.8 L614.1,1843.1 L615.6,1840.3 L617.0,1842.9 L618.5,1840.0 L620.0,1842.0 L621.5,1843.9 L622.9,1842.0 L624.4,1842.9 L625.9,1842.8 L627.4,1840.0 L628.8,1839.4 L630.3,1836.0 L631.8,1839.7 L633.2,1839.1 L634.7,1839.6 L636.2,1841.2 L637.6,1841.7 L639.1,1839.8 L640.6,1840.1 L642.1,1841.7 L643.5,1841.5 L645.0,1840.0 L647.2,1832.0 L649.5,1815.0 L651.6,1832.0 L653.5,1840.0 L655.0,1839.9 L656.4,1844.0 L657.9,1837.8 L659.3,1840.7 L660.8,1838.0 L662.3,1836.4 L663.7,1836.9 L665.2,1835.8 L666.6,1837.2 L668.1,1836.4 L669.6,1835.6 L671.0,1838.3 L672.5,1836.2 L673.9,1837.6 L675.4,1834.4 L676.9,1835.1 L678.3,1837.4 L679.8,1831.8 L681.2,1833.3 L682.7,1835.4 L684.2,1834.2 L685.6,1831.8 L687.1,1832.6 L688.5,1832.6 L690.0,1833.0 L691.5,1833.8 L693.0,1830.7 L694.5,1828.3 L696.0,1831.9 L697.4,1830.7 L698.9,1832.8 L700.4,1833.1 L701.9,1832.8 L703.4,1832.8 L704.9,1832.4 L706.4,1828.0 L707.9,1829.2 L709.4,1830.7 L710.9,1825.9 L712.3,1829.2 L713.8,1826.8 L715.3,1829.7 L716.8,1830.4 L718.3,1828.0 L719.5,1827.8 L720.8,1829.4 L722.0,1833.5 L723.3,1833.0 L727.0,1855.0 L730.0,1878.2 L732.2,1872.0 L734.2,1700.0 L735.8,1528.0 L737.6,1700.0 L739.0,1880.0 L740.5,1893.3 L742.0,1893.7 L743.5,1893.0 L745.0,1894.0 L746.5,1894.2 L748.0,1887.6 L749.5,1895.0 L751.0,1892.0 L752.5,1894.3 L754.0,1893.1 L755.5,1893.3 L757.0,1888.1 L758.5,1894.8 L760.0,1893.0 L761.5,1892.8 L763.0,1894.9 L764.5,1893.4 L766.0,1893.0 L767.5,1891.6 L769.0,1895.1 L770.5,1892.5 L772.0,1892.7 L773.5,1892.7 L775.0,1891.4 L776.5,1893.0 L778.0,1894.4 L779.5,1894.8 L781.0,1890.8 L782.5,1893.1 L784.0,1891.9 L785.5,1894.7 L787.0,1893.6 L788.5,1892.9 L790.0,1894.9 L791.5,1891.5 L793.0,1891.4 L794.5,1894.2 L796.0,1891.8 L797.5,1894.7 L799.0,1892.3 L800.5,1891.1 L802.0,1891.3 L803.5,1894.8 L805.0,1893.6 L806.5,1893.3 L808.0,1894.2 L809.5,1894.7 L811.0,1893.5 L812.5,1894.8 L814.0,1891.8 L815.5,1891.2 L817.0,1891.2 L818.5,1893.6 L820.0,1892.5 L821.5,1890.5 L823.0,1891.2 L824.5,1891.8 L826.0,1891.0 L827.5,1892.7 L829.0,1892.6 L830.0,1888.0 L830.8,1880.0 L831.8,1888.0 L833.0,1893.0 L834.5,1891.7 L836.0,1892.7 L837.5,1890.9 L839.0,1891.3 L840.5,1892.5 L842.0,1893.5 L843.5,1890.8 L845.0,1891.4 L846.5,1891.1 L848.0,1894.7 L849.5,1894.5 L851.0,1894.1 L852.5,1894.6 L854.0,1892.6 L855.5,1892.1 L857.0,1892.8 L858.5,1894.1 L860.0,1894.1 L861.5,1892.1 L863.0,1895.0 L864.5,1894.5 L866.0,1893.0 L866.8,1888.0 L867.6,1882.0 L868.6,1888.0 L870.0,1893.5 L871.5,1890.5 L873.0,1888.3 L874.5,1894.9 L876.0,1894.4 L877.5,1894.8 L879.0,1893.8 L880.5,1892.1 L882.0,1892.9 L883.5,1893.2 L885.0,1893.1 L886.5,1895.9 L888.0,1895.4 L889.5,1892.9 L891.0,1892.8 L892.5,1893.9 L894.0,1893.2 L895.5,1893.0 L897.0,1893.7 L898.5,1894.1 L900.0,1894.0 L901.5,1896.1 L903.0,1893.6 L904.5,1891.9 L906.0,1895.2 L907.5,1891.6 L909.0,1893.0 L910.5,1892.8 L912.0,1893.5 L913.5,1892.9 L915.0,1894.1 L916.5,1892.2 L918.0,1893.0 L919.2,1891.8 L920.4,1892.2 L921.6,1891.1 L922.8,1890.0 L924.2,1889.8 L925.6,1892.5 L927.0,1893.0 L928.3,1891.8 L929.7,1896.9 L931.0,1895.2 L932.3,1897.1 L933.7,1898.2 L935.0,1897.0 L936.5,1898.7 L938.0,1900.4 L939.5,1899.5 L941.0,1900.5" fill="none" stroke="#ff0000" stroke-width="4.6" stroke-linejoin="round" stroke-linecap="round"/>
<g clip-path="url(#cpb)" fill="none" stroke-linejoin="round">
<path d="M1015.9,508.7 L1019.1,508.7 L1022.4,508.8 L1025.6,508.8 L1028.8,508.8 L1032.0,508.8 L1035.3,508.8 L1038.5,508.8 L1041.7,508.8 L1044.9,508.9 L1048.2,508.9 L1051.4,508.9 L1054.6,508.9 L1057.8,508.9 L1061.1,508.9 L1064.3,508.9 L1067.5,509.0 L1070.7,509.0 L1074.0,509.0 L1077.2,509.0 L1080.4,509.0 L1083.6,509.0 L1086.9,509.0 L1090.1,509.0 L1093.3,509.0 L1096.6,509.1 L1099.8,509.1 L1103.0,509.1 L1106.2,509.1 L1109.5,509.1 L1112.7,509.1 L1115.9,509.1 L1119.1,509.1 L1122.4,509.1 L1125.6,509.1 L1128.8,509.2 L1132.0,509.2 L1135.3,509.2 L1138.5,509.2 L1141.7,509.2 L1144.9,509.2 L1148.2,509.2 L1151.4,509.2 L1154.6,509.2 L1157.8,509.2 L1161.1,509.2 L1164.3,509.2 L1167.5,509.2 L1170.8,509.2 L1174.0,509.2 L1177.2,509.2 L1180.4,509.2 L1183.7,509.2 L1186.9,509.2 L1190.1,509.2 L1193.3,509.2 L1196.6,509.2 L1199.8,509.2 L1203.0,509.2 L1206.2,509.2 L1209.5,509.2 L1212.7,509.2 L1215.9,509.2 L1219.1,509.2 L1222.4,509.2 L1225.6,509.1 L1228.8,509.1 L1232.0,509.1 L1235.3,509.1 L1238.5,509.1 L1241.7,509.0 L1245.0,509.0 L1248.2,509.0 L1251.4,509.0 L1254.6,508.9 L1257.9,508.9 L1261.1,508.8 L1264.3,508.8 L1267.5,508.8 L1270.8,508.7 L1274.0,508.6 L1277.2,508.6 L1280.4,508.5 L1283.7,508.4 L1286.9,508.3 L1290.1,508.2 L1293.3,508.0 L1296.6,507.9 L1299.8,507.7 L1303.0,507.4 L1306.2,507.2 L1309.5,506.8 L1312.7,506.4 L1315.9,505.8 L1319.2,505.2 L1322.4,504.4 L1325.6,503.5 L1328.8,502.4 L1332.1,501.0 L1335.3,499.4 L1338.5,497.4 L1341.7,495.2 L1345.0,492.5 L1348.2,489.4 L1351.4,485.9 L1354.6,481.8 L1357.9,477.3 L1361.1,472.1 L1364.3,466.5 L1367.5,460.2 L1370.8,453.4 L1374.0,446.1 L1377.2,438.3 L1380.5,430.2 L1383.7,421.7 L1386.9,412.9 L1390.1,404.1 L1393.4,395.3 L1396.6,386.7 L1399.8,378.5 L1403.0,370.7 L1406.3,363.7 L1409.5,357.5 L1412.7,352.4 L1415.9,348.4 L1419.2,345.8 L1422.4,344.5 L1425.6,344.7 L1428.8,346.2 L1432.1,349.2 L1435.3,353.5 L1438.5,358.9 L1441.7,365.3 L1445.0,372.5 L1448.2,380.4 L1451.4,388.8 L1454.7,397.4 L1457.9,406.3 L1461.1,415.1 L1464.3,423.9 L1467.6,432.3 L1470.8,440.5 L1474.0,448.2 L1477.2,455.4 L1480.5,462.2 L1483.7,468.3 L1486.9,473.9 L1490.1,479.0 L1493.4,483.5 L1496.6,487.5 L1499.8,491.0 L1503.0,494.0 L1506.3,496.6 L1509.5,498.9 L1512.7,500.8 L1515.9,502.4 L1519.2,503.7 L1522.4,504.9 L1525.6,505.8 L1528.9,506.6 L1532.1,507.2 L1535.3,507.8 L1538.5,508.2 L1541.8,508.6 L1545.0,508.9 L1548.2,509.2 L1551.4,509.4 L1554.7,509.6 L1557.9,509.8 L1561.1,509.9 L1564.3,510.1 L1567.6,510.2 L1570.8,510.3 L1574.0,510.4 L1577.2,510.5 L1580.5,510.6 L1583.7,510.7 L1586.9,510.8 L1590.1,510.8 L1593.4,510.9 L1596.6,511.0" stroke="#0b1d45" stroke-width="3"/>
<path d="M1015.9,507.8 L1019.1,507.7 L1022.4,507.7 L1025.6,507.7 L1028.8,507.7 L1032.0,507.7 L1035.3,507.7 L1038.5,507.7 L1041.7,507.7 L1044.9,507.7 L1048.2,507.6 L1051.4,507.6 L1054.6,507.6 L1057.8,507.6 L1061.1,507.6 L1064.3,507.5 L1067.5,507.5 L1070.7,507.5 L1074.0,507.5 L1077.2,507.4 L1080.4,507.4 L1083.6,507.4 L1086.9,507.3 L1090.1,507.3 L1093.3,507.2 L1096.6,507.2 L1099.8,507.1 L1103.0,507.1 L1106.2,507.0 L1109.5,507.0 L1112.7,506.9 L1115.9,506.9 L1119.1,506.8 L1122.4,506.7 L1125.6,506.7 L1128.8,506.6 L1132.0,506.5 L1135.3,506.4 L1138.5,506.3 L1141.7,506.2 L1144.9,506.1 L1148.2,506.0 L1151.4,505.9 L1154.6,505.7 L1157.8,505.6 L1161.1,505.5 L1164.3,505.3 L1167.5,505.1 L1170.8,504.9 L1174.0,504.7 L1177.2,504.5 L1180.4,504.2 L1183.7,503.9 L1186.9,503.5 L1190.1,503.1 L1193.3,502.7 L1196.6,502.1 L1199.8,501.4 L1203.0,500.6 L1206.2,499.6 L1209.5,498.4 L1212.7,496.9 L1215.9,495.1 L1219.1,492.9 L1222.4,490.3 L1225.6,487.1 L1228.8,483.4 L1232.0,478.8 L1235.3,473.5 L1238.5,467.1 L1241.7,459.8 L1245.0,451.2 L1248.2,441.4 L1251.4,430.3 L1254.6,417.7 L1257.9,403.6 L1261.1,388.0 L1264.3,370.8 L1267.5,352.3 L1270.8,332.4 L1274.0,311.2 L1277.2,289.0 L1280.4,266.1 L1283.7,242.6 L1286.9,219.0 L1290.1,195.6 L1293.3,172.8 L1296.6,151.1 L1299.8,131.0 L1303.0,112.9 L1306.2,97.4 L1309.5,84.7 L1312.7,75.4 L1315.9,69.7 L1319.2,67.8 L1322.4,69.7 L1325.6,75.5 L1328.8,84.8 L1332.1,97.5 L1335.3,113.1 L1338.5,131.2 L1341.7,151.4 L1345.0,173.1 L1348.2,195.9 L1351.4,219.4 L1354.6,243.0 L1357.9,266.5 L1361.1,289.5 L1364.3,311.7 L1367.5,332.9 L1370.8,352.9 L1374.0,371.5 L1377.2,388.6 L1380.5,404.3 L1383.7,418.4 L1386.9,431.1 L1390.1,442.3 L1393.4,452.1 L1396.6,460.7 L1399.8,468.1 L1403.0,474.4 L1406.3,479.8 L1409.5,484.4 L1412.7,488.2 L1415.9,491.4 L1419.2,494.1 L1422.4,496.3 L1425.6,498.1 L1428.8,499.7 L1432.1,500.9 L1435.3,501.9 L1438.5,502.8 L1441.7,503.5 L1445.0,504.1 L1448.2,504.7 L1451.4,505.1 L1454.7,505.5 L1457.9,505.8 L1461.1,506.1 L1464.3,506.4 L1467.6,506.7 L1470.8,506.9 L1474.0,507.1 L1477.2,507.3 L1480.5,507.5 L1483.7,507.7 L1486.9,507.8 L1490.1,508.0 L1493.4,508.2 L1496.6,508.3 L1499.8,508.4 L1503.0,508.6 L1506.3,508.7 L1509.5,508.8 L1512.7,508.9 L1515.9,509.0 L1519.2,509.1 L1522.4,509.3 L1525.6,509.4 L1528.9,509.4 L1532.1,509.5 L1535.3,509.6 L1538.5,509.7 L1541.8,509.8 L1545.0,509.9 L1548.2,510.0 L1551.4,510.0 L1554.7,510.1 L1557.9,510.2 L1561.1,510.3 L1564.3,510.3 L1567.6,510.4 L1570.8,510.5 L1574.0,510.5 L1577.2,510.6 L1580.5,510.6 L1583.7,510.7 L1586.9,510.8 L1590.1,510.8 L1593.4,510.9 L1596.6,510.9" stroke="#1b9ad6" stroke-width="3"/>
<path d="M1015.9,508.4 L1019.1,508.4 L1022.4,508.4 L1025.6,508.4 L1028.8,508.4 L1032.0,508.4 L1035.3,508.4 L1038.5,508.4 L1041.7,508.4 L1044.9,508.4 L1048.2,508.4 L1051.4,508.3 L1054.6,508.3 L1057.8,508.3 L1061.1,508.3 L1064.3,508.2 L1067.5,508.2 L1070.7,508.1 L1074.0,508.0 L1077.2,507.9 L1080.4,507.8 L1083.6,507.7 L1086.9,507.5 L1090.1,507.3 L1093.3,507.0 L1096.6,506.7 L1099.8,506.3 L1103.0,505.9 L1106.2,505.3 L1109.5,504.6 L1112.7,503.9 L1115.9,502.9 L1119.1,501.9 L1122.4,500.6 L1125.6,499.2 L1128.8,497.5 L1132.0,495.6 L1135.3,493.4 L1138.5,491.0 L1141.7,488.3 L1144.9,485.4 L1148.2,482.1 L1151.4,478.6 L1154.6,474.7 L1157.8,470.6 L1161.1,466.2 L1164.3,461.7 L1167.5,456.9 L1170.8,451.9 L1174.0,446.9 L1177.2,441.8 L1180.4,436.7 L1183.7,431.7 L1186.9,426.9 L1190.1,422.3 L1193.3,418.0 L1196.6,414.0 L1199.8,410.6 L1203.0,407.6 L1206.2,405.3 L1209.5,403.5 L1212.7,402.5 L1215.9,402.2 L1219.1,402.5 L1222.4,403.6 L1225.6,405.4 L1228.8,407.8 L1232.0,410.8 L1235.3,414.3 L1238.5,418.2 L1241.7,422.6 L1245.0,427.2 L1248.2,432.1 L1251.4,437.1 L1254.6,442.3 L1257.9,447.4 L1261.1,452.5 L1264.3,457.4 L1267.5,462.3 L1270.8,466.9 L1274.0,471.3 L1277.2,475.4 L1280.4,479.3 L1283.7,482.9 L1286.9,486.2 L1290.1,489.2 L1293.3,491.9 L1296.6,494.4 L1299.8,496.6 L1303.0,498.5 L1306.2,500.2 L1309.5,501.7 L1312.7,503.0 L1315.9,504.1 L1319.2,505.1 L1322.4,505.9 L1325.6,506.6 L1328.8,507.2 L1332.1,507.7 L1335.3,508.1 L1338.5,508.5 L1341.7,508.8 L1345.0,509.0 L1348.2,509.2 L1351.4,509.4 L1354.6,509.6 L1357.9,509.7 L1361.1,509.8 L1364.3,509.9 L1367.5,510.0 L1370.8,510.1 L1374.0,510.1 L1377.2,510.2 L1380.5,510.3 L1383.7,510.3 L1386.9,510.4 L1390.1,510.4 L1393.4,510.5 L1396.6,510.5 L1399.8,510.6 L1403.0,510.6 L1406.3,510.6 L1409.5,510.7 L1412.7,510.7 L1415.9,510.8 L1419.2,510.8 L1422.4,510.8 L1425.6,510.9 L1428.8,510.9 L1432.1,510.9 L1435.3,511.0 L1438.5,511.0 L1441.7,511.0 L1445.0,511.1 L1448.2,511.1 L1451.4,511.1 L1454.7,511.2 L1457.9,511.2 L1461.1,511.2 L1464.3,511.2 L1467.6,511.3 L1470.8,511.3 L1474.0,511.3 L1477.2,511.4 L1480.5,511.4 L1483.7,511.4 L1486.9,511.4 L1490.1,511.5 L1493.4,511.5 L1496.6,511.5 L1499.8,511.5 L1503.0,511.6 L1506.3,511.6 L1509.5,511.6 L1512.7,511.6 L1515.9,511.7 L1519.2,511.7 L1522.4,511.7 L1525.6,511.7 L1528.9,511.8 L1532.1,511.8 L1535.3,511.8 L1538.5,511.8 L1541.8,511.9 L1545.0,511.9 L1548.2,511.9 L1551.4,511.9 L1554.7,511.9 L1557.9,512.0 L1561.1,512.0 L1564.3,512.0 L1567.6,512.0 L1570.8,512.1 L1574.0,512.1 L1577.2,512.1 L1580.5,512.1 L1583.7,512.1 L1586.9,512.2 L1590.1,512.2 L1593.4,512.2 L1596.6,512.2" stroke="#7ed020" stroke-width="3"/>
<path d="M1015.9,509.0 L1019.1,509.0 L1022.4,509.0 L1025.6,509.1 L1028.8,509.1 L1032.0,509.1 L1035.3,509.1 L1038.5,509.1 L1041.7,509.2 L1044.9,509.2 L1048.2,509.2 L1051.4,509.2 L1054.6,509.2 L1057.8,509.2 L1061.1,509.3 L1064.3,509.3 L1067.5,509.3 L1070.7,509.3 L1074.0,509.3 L1077.2,509.4 L1080.4,509.4 L1083.6,509.4 L1086.9,509.4 L1090.1,509.4 L1093.3,509.5 L1096.6,509.5 L1099.8,509.5 L1103.0,509.5 L1106.2,509.5 L1109.5,509.5 L1112.7,509.6 L1115.9,509.6 L1119.1,509.6 L1122.4,509.6 L1125.6,509.6 L1128.8,509.7 L1132.0,509.7 L1135.3,509.7 L1138.5,509.7 L1141.7,509.7 L1144.9,509.8 L1148.2,509.8 L1151.4,509.8 L1154.6,509.8 L1157.8,509.8 L1161.1,509.9 L1164.3,509.9 L1167.5,509.9 L1170.8,509.9 L1174.0,509.9 L1177.2,509.9 L1180.4,510.0 L1183.7,510.0 L1186.9,510.0 L1190.1,510.0 L1193.3,510.0 L1196.6,510.1 L1199.8,510.1 L1203.0,510.1 L1206.2,510.1 L1209.5,510.1 L1212.7,510.2 L1215.9,510.2 L1219.1,510.2 L1222.4,510.2 L1225.6,510.2 L1228.8,510.2 L1232.0,510.3 L1235.3,510.3 L1238.5,510.3 L1241.7,510.3 L1245.0,510.3 L1248.2,510.4 L1251.4,510.4 L1254.6,510.4 L1257.9,510.4 L1261.1,510.4 L1264.3,510.5 L1267.5,510.5 L1270.8,510.5 L1274.0,510.5 L1277.2,510.5 L1280.4,510.5 L1283.7,510.6 L1286.9,510.6 L1290.1,510.6 L1293.3,510.6 L1296.6,510.6 L1299.8,510.7 L1303.0,510.7 L1306.2,510.7 L1309.5,510.7 L1312.7,510.7 L1315.9,510.8 L1319.2,510.8 L1322.4,510.8 L1325.6,510.8 L1328.8,510.8 L1332.1,510.9 L1335.3,510.9 L1338.5,510.9 L1341.7,510.9 L1345.0,510.9 L1348.2,510.9 L1351.4,511.0 L1354.6,511.0 L1357.9,511.0 L1361.1,511.0 L1364.3,511.0 L1367.5,511.1 L1370.8,511.1 L1374.0,511.1 L1377.2,511.1 L1380.5,511.1 L1383.7,511.2 L1386.9,511.2 L1390.1,511.2 L1393.4,511.2 L1396.6,511.2 L1399.8,511.2 L1403.0,511.3 L1406.3,511.3 L1409.5,511.3 L1412.7,511.3 L1415.9,511.3 L1419.2,511.4 L1422.4,511.4 L1425.6,511.4 L1428.8,511.4 L1432.1,511.4 L1435.3,511.5 L1438.5,511.5 L1441.7,511.5 L1445.0,511.5 L1448.2,511.5 L1451.4,511.6 L1454.7,511.6 L1457.9,511.6 L1461.1,511.6 L1464.3,511.6 L1467.6,511.6 L1470.8,511.7 L1474.0,511.7 L1477.2,511.7 L1480.5,511.7 L1483.7,511.7 L1486.9,511.8 L1490.1,511.8 L1493.4,511.8 L1496.6,511.8 L1499.8,511.8 L1503.0,511.9 L1506.3,511.9 L1509.5,511.9 L1512.7,511.9 L1515.9,511.9 L1519.2,511.9 L1522.4,512.0 L1525.6,512.0 L1528.9,512.0 L1532.1,512.0 L1535.3,512.0 L1538.5,512.1 L1541.8,512.1 L1545.0,512.1 L1548.2,512.1 L1551.4,512.1 L1554.7,512.2 L1557.9,512.2 L1561.1,512.2 L1564.3,512.2 L1567.6,512.2 L1570.8,512.2 L1574.0,512.3 L1577.2,512.3 L1580.5,512.3 L1583.7,512.3 L1586.9,512.3 L1590.1,512.4 L1593.4,512.4 L1596.6,512.4" stroke="#4d4d4d" stroke-width="3"/>
<path d="M1015.9,506.9 L1019.1,506.9 L1022.4,506.8 L1025.6,506.8 L1028.8,506.8 L1032.0,506.7 L1035.3,506.7 L1038.5,506.6 L1041.7,506.6 L1044.9,506.5 L1048.2,506.5 L1051.4,506.4 L1054.6,506.4 L1057.8,506.3 L1061.1,506.2 L1064.3,506.1 L1067.5,506.0 L1070.7,505.9 L1074.0,505.8 L1077.2,505.6 L1080.4,505.5 L1083.6,505.3 L1086.9,505.0 L1090.1,504.7 L1093.3,504.4 L1096.6,504.0 L1099.8,503.6 L1103.0,503.0 L1106.2,502.4 L1109.5,501.6 L1112.7,500.8 L1115.9,499.8 L1119.1,498.6 L1122.4,497.2 L1125.6,495.7 L1128.8,493.9 L1132.0,491.9 L1135.3,489.6 L1138.5,487.1 L1141.7,484.3 L1144.9,481.2 L1148.2,477.8 L1151.4,474.1 L1154.6,470.1 L1157.8,465.8 L1161.1,461.2 L1164.3,456.4 L1167.5,451.4 L1170.8,446.3 L1174.0,441.0 L1177.2,435.6 L1180.4,430.2 L1183.7,424.9 L1186.9,419.7 L1190.1,414.6 L1193.3,409.8 L1196.6,405.2 L1199.8,401.0 L1203.0,397.2 L1206.2,393.8 L1209.5,390.8 L1212.7,388.3 L1215.9,386.1 L1219.1,384.3 L1222.4,382.7 L1225.6,381.2 L1228.8,379.8 L1232.0,378.2 L1235.3,376.3 L1238.5,373.8 L1241.7,370.8 L1245.0,366.8 L1248.2,361.8 L1251.4,355.6 L1254.6,348.0 L1257.9,339.0 L1261.1,328.4 L1264.3,316.2 L1267.5,302.3 L1270.8,287.0 L1274.0,270.1 L1277.2,252.0 L1280.4,232.8 L1283.7,212.8 L1286.9,192.3 L1290.1,171.8 L1293.3,151.6 L1296.6,132.1 L1299.8,114.0 L1303.0,97.5 L1306.2,83.3 L1309.5,71.8 L1312.7,63.3 L1315.9,58.1 L1319.2,56.5 L1322.4,58.5 L1325.6,63.9 L1328.8,72.7 L1332.1,84.5 L1335.3,98.9 L1338.5,115.4 L1341.7,133.5 L1345.0,152.8 L1348.2,172.7 L1351.4,192.7 L1354.6,212.4 L1357.9,231.5 L1361.1,249.4 L1364.3,266.0 L1367.5,281.0 L1370.8,294.2 L1374.0,305.6 L1377.2,315.0 L1380.5,322.4 L1383.7,328.1 L1386.9,332.0 L1390.1,334.4 L1393.4,335.5 L1396.6,335.5 L1399.8,334.6 L1403.0,333.3 L1406.3,331.6 L1409.5,330.0 L1412.7,328.7 L1415.9,327.9 L1419.2,327.9 L1422.4,328.9 L1425.6,330.9 L1428.8,334.0 L1432.1,338.2 L1435.3,343.4 L1438.5,349.7 L1441.7,356.8 L1445.0,364.7 L1448.2,373.1 L1451.4,381.9 L1454.7,390.9 L1457.9,400.1 L1461.1,409.3 L1464.3,418.3 L1467.6,427.0 L1470.8,435.3 L1474.0,443.3 L1477.2,450.7 L1480.5,457.6 L1483.7,463.9 L1486.9,469.7 L1490.1,474.9 L1493.4,479.5 L1496.6,483.7 L1499.8,487.3 L1503.0,490.4 L1506.3,493.2 L1509.5,495.5 L1512.7,497.5 L1515.9,499.2 L1519.2,500.7 L1522.4,501.9 L1525.6,502.9 L1528.9,503.8 L1532.1,504.5 L1535.3,505.1 L1538.5,505.6 L1541.8,506.1 L1545.0,506.5 L1548.2,506.8 L1551.4,507.1 L1554.7,507.4 L1557.9,507.6 L1561.1,507.8 L1564.3,508.0 L1567.6,508.2 L1570.8,508.3 L1574.0,508.5 L1577.2,508.6 L1580.5,508.7 L1583.7,508.9 L1586.9,509.0 L1590.1,509.1 L1593.4,509.2 L1596.6,509.3" stroke="#000" stroke-width="3.2"/>
<g stroke="#111" stroke-width="2.4"><circle cx="1015.5" cy="502.6" r="7.9" /><circle cx="1029.1" cy="509.0" r="7.9" /><circle cx="1041.9" cy="507.2" r="7.9" /><circle cx="1054.7" cy="508.1" r="7.9" /><circle cx="1068.4" cy="506.2" r="7.9" /><circle cx="1081.1" cy="500.8" r="7.9" /><circle cx="1093.9" cy="500.8" r="7.9" /><circle cx="1106.7" cy="498.0" r="7.9" /><circle cx="1119.4" cy="489.8" r="7.9" /><circle cx="1131.3" cy="489.8" r="7.9" /><circle cx="1145.9" cy="487.1" r="7.9" /><circle cx="1157.7" cy="469.8" r="7.9" /><circle cx="1171.4" cy="450.6" r="7.9" /><circle cx="1184.2" cy="426.9" r="7.9" /><circle cx="1196.0" cy="399.6" r="7.9" /><circle cx="1208.8" cy="385.0" r="7.9" /><circle cx="1222.5" cy="374.9" r="7.9" /><circle cx="1234.3" cy="360.3" r="7.9" /><circle cx="1248.9" cy="368.5" r="7.9" /><circle cx="1261.0" cy="325.0" r="7.9" /><circle cx="1275.0" cy="244.3" r="7.9" /><circle cx="1287.5" cy="185.5" r="7.9" /><circle cx="1300.6" cy="114.8" r="7.9" /><circle cx="1312.4" cy="52.8" r="7.9" /><circle cx="1327.0" cy="56.4" r="7.9" /><circle cx="1338.9" cy="109.3" r="7.9" /><circle cx="1352.5" cy="198.7" r="7.9" /><circle cx="1365.0" cy="260.0" r="7.9" /><circle cx="1377.5" cy="304.7" r="7.9" /><circle cx="1389.4" cy="323.9" r="7.9" /><circle cx="1403.0" cy="327.5" r="7.9" /><circle cx="1416.7" cy="312.0" r="7.9" /><circle cx="1429.5" cy="328.4" r="7.9" /><circle cx="1443.2" cy="349.4" r="7.9" /><circle cx="1455.9" cy="390.4" r="7.9" /><circle cx="1466.9" cy="429.6" r="7.9" /><circle cx="1481.5" cy="466.1" r="7.9" /><circle cx="1494.2" cy="476.2" r="7.9" /><circle cx="1506.1" cy="492.6" r="7.9" /><circle cx="1518.9" cy="498.0" r="7.9" /><circle cx="1533.4" cy="502.6" r="7.9" /><circle cx="1545.3" cy="510.8" r="7.9" /><circle cx="1558.1" cy="514.5" r="7.9" /><circle cx="1570.8" cy="514.5" r="7.9" /><circle cx="1583.6" cy="516.3" r="7.9" /></g>
</g>
<g clip-path="url(#cpd)" fill="none" stroke-linejoin="round">
<path d="M1016.8,1183.7 L1019.7,1183.7 L1022.7,1183.7 L1025.6,1183.7 L1028.5,1183.7 L1031.5,1183.7 L1034.4,1183.7 L1037.3,1183.7 L1040.3,1183.7 L1043.2,1183.7 L1046.1,1183.7 L1049.1,1183.7 L1052.0,1183.6 L1054.9,1183.6 L1057.9,1183.6 L1060.8,1183.6 L1063.7,1183.5 L1066.7,1183.5 L1069.6,1183.4 L1072.5,1183.3 L1075.5,1183.2 L1078.4,1183.1 L1081.3,1182.9 L1084.3,1182.7 L1087.2,1182.5 L1090.1,1182.3 L1093.1,1182.0 L1096.0,1181.7 L1099.0,1181.3 L1101.9,1180.9 L1104.8,1180.4 L1107.8,1179.9 L1110.7,1179.3 L1113.6,1178.7 L1116.6,1178.1 L1119.5,1177.5 L1122.4,1176.8 L1125.4,1176.1 L1128.3,1175.4 L1131.2,1174.7 L1134.2,1174.1 L1137.1,1173.5 L1140.0,1172.9 L1143.0,1172.4 L1145.9,1172.0 L1148.8,1171.7 L1151.8,1171.4 L1154.7,1171.3 L1157.6,1171.2 L1160.6,1171.3 L1163.5,1171.4 L1166.4,1171.7 L1169.4,1172.0 L1172.3,1172.4 L1175.2,1172.9 L1178.2,1173.5 L1181.1,1174.1 L1184.0,1174.7 L1187.0,1175.4 L1189.9,1176.1 L1192.8,1176.8 L1195.8,1177.5 L1198.7,1178.1 L1201.6,1178.7 L1204.6,1179.3 L1207.5,1179.9 L1210.4,1180.4 L1213.4,1180.9 L1216.3,1181.3 L1219.2,1181.7 L1222.2,1182.0 L1225.1,1182.3 L1228.0,1182.5 L1231.0,1182.7 L1233.9,1182.9 L1236.8,1183.1 L1239.8,1183.2 L1242.7,1183.3 L1245.7,1183.4 L1248.6,1183.5 L1251.5,1183.5 L1254.5,1183.6 L1257.4,1183.6 L1260.3,1183.6 L1263.3,1183.7 L1266.2,1183.7 L1269.1,1183.7 L1272.1,1183.7 L1275.0,1183.7 L1277.9,1183.7 L1280.9,1183.7 L1283.8,1183.7 L1286.7,1183.7 L1289.7,1183.7 L1292.6,1183.8 L1295.5,1183.8 L1298.5,1183.8 L1301.4,1183.8 L1304.3,1183.8 L1307.3,1183.8 L1310.2,1183.8 L1313.1,1183.8 L1316.1,1183.9 L1319.0,1183.9 L1321.9,1183.9 L1324.9,1183.9 L1327.8,1184.0 L1330.7,1184.0 L1333.7,1184.0 L1336.6,1184.1 L1339.5,1184.1 L1342.5,1184.2 L1345.4,1184.3 L1348.3,1184.3 L1351.3,1184.4 L1354.2,1184.5 L1357.1,1184.6 L1360.1,1184.7 L1363.0,1184.8 L1365.9,1185.0 L1368.9,1185.1 L1371.8,1185.3 L1374.7,1185.4 L1377.7,1185.6 L1380.6,1185.8 L1383.5,1185.9 L1386.5,1186.1 L1389.4,1186.3 L1392.4,1186.5 L1395.3,1186.7 L1398.2,1186.9 L1401.2,1187.1 L1404.1,1187.3 L1407.0,1187.5 L1410.0,1187.7 L1412.9,1187.9 L1415.8,1188.0 L1418.8,1188.2 L1421.7,1188.3 L1424.6,1188.5 L1427.6,1188.6 L1430.5,1188.7 L1433.4,1188.8 L1436.4,1188.9 L1439.3,1189.0 L1442.2,1189.1 L1445.2,1189.1 L1448.1,1189.2 L1451.0,1189.3 L1454.0,1189.3 L1456.9,1189.4 L1459.8,1189.4 L1462.8,1189.4 L1465.7,1189.5 L1468.6,1189.5 L1471.6,1189.5 L1474.5,1189.5 L1477.4,1189.6 L1480.4,1189.6 L1483.3,1189.6 L1486.2,1189.6 L1489.2,1189.6 L1492.1,1189.6 L1495.0,1189.6 L1498.0,1189.6 L1500.9,1189.7 L1503.8,1189.7 L1506.8,1189.7 L1509.7,1189.7 L1512.6,1189.7 L1515.6,1189.7 L1518.5,1189.7 L1521.4,1189.7 L1524.4,1189.7 L1527.3,1189.7 L1530.2,1189.7 L1533.2,1189.7 L1536.1,1189.7 L1539.1,1189.7 L1542.0,1189.7 L1544.9,1189.7 L1547.9,1189.7 L1550.8,1189.7 L1553.7,1189.7 L1556.7,1189.7 L1559.6,1189.7 L1562.5,1189.7 L1565.5,1189.7 L1568.4,1189.7 L1571.3,1189.7 L1574.3,1189.7 L1577.2,1189.7 L1580.1,1189.7 L1583.1,1189.7 L1586.0,1189.7 L1588.9,1189.7 L1591.9,1189.7 L1594.8,1189.7 L1597.7,1189.7 L1600.7,1189.7 L1603.6,1189.7" stroke="#ff5a12" stroke-width="3.2"/>
<path d="M1016.8,1183.5 L1019.7,1183.5 L1022.7,1183.5 L1025.6,1183.5 L1028.5,1183.5 L1031.5,1183.5 L1034.4,1183.5 L1037.3,1183.5 L1040.3,1183.5 L1043.2,1183.5 L1046.1,1183.4 L1049.1,1183.4 L1052.0,1183.4 L1054.9,1183.4 L1057.9,1183.4 L1060.8,1183.4 L1063.7,1183.4 L1066.7,1183.4 L1069.6,1183.4 L1072.5,1183.4 L1075.5,1183.4 L1078.4,1183.3 L1081.3,1183.3 L1084.3,1183.3 L1087.2,1183.3 L1090.1,1183.3 L1093.1,1183.3 L1096.0,1183.3 L1099.0,1183.3 L1101.9,1183.2 L1104.8,1183.2 L1107.8,1183.2 L1110.7,1183.2 L1113.6,1183.2 L1116.6,1183.1 L1119.5,1183.1 L1122.4,1183.1 L1125.4,1183.0 L1128.3,1183.0 L1131.2,1182.9 L1134.2,1182.9 L1137.1,1182.8 L1140.0,1182.7 L1143.0,1182.6 L1145.9,1182.5 L1148.8,1182.3 L1151.8,1182.1 L1154.7,1181.9 L1157.6,1181.6 L1160.6,1181.2 L1163.5,1180.8 L1166.4,1180.3 L1169.4,1179.6 L1172.3,1178.8 L1175.2,1177.9 L1178.2,1176.8 L1181.1,1175.5 L1184.0,1174.1 L1187.0,1172.3 L1189.9,1170.3 L1192.8,1168.1 L1195.8,1165.6 L1198.7,1162.7 L1201.6,1159.6 L1204.6,1156.2 L1207.5,1152.4 L1210.4,1148.4 L1213.4,1144.2 L1216.3,1139.7 L1219.2,1135.1 L1222.2,1130.3 L1225.1,1125.5 L1228.0,1120.7 L1231.0,1115.9 L1233.9,1111.4 L1236.8,1107.0 L1239.8,1103.0 L1242.7,1099.4 L1245.7,1096.4 L1248.6,1093.8 L1251.5,1091.9 L1254.5,1090.7 L1257.4,1090.2 L1260.3,1090.4 L1263.3,1091.4 L1266.2,1093.0 L1269.1,1095.3 L1272.1,1098.2 L1275.0,1101.6 L1277.9,1105.4 L1280.9,1109.6 L1283.8,1114.1 L1286.7,1118.8 L1289.7,1123.6 L1292.6,1128.4 L1295.5,1133.2 L1298.5,1138.0 L1301.4,1142.5 L1304.3,1146.9 L1307.3,1151.0 L1310.2,1154.8 L1313.1,1158.4 L1316.1,1161.7 L1319.0,1164.6 L1321.9,1167.3 L1324.9,1169.7 L1327.8,1171.8 L1330.7,1173.7 L1333.7,1175.3 L1336.6,1176.7 L1339.5,1178.0 L1342.5,1179.0 L1345.4,1179.9 L1348.3,1180.7 L1351.3,1181.3 L1354.2,1181.9 L1357.1,1182.4 L1360.1,1182.8 L1363.0,1183.2 L1365.9,1183.5 L1368.9,1183.8 L1371.8,1184.1 L1374.7,1184.4 L1377.7,1184.7 L1380.6,1184.9 L1383.5,1185.2 L1386.5,1185.4 L1389.4,1185.6 L1392.4,1185.9 L1395.3,1186.1 L1398.2,1186.3 L1401.2,1186.6 L1404.1,1186.8 L1407.0,1187.0 L1410.0,1187.2 L1412.9,1187.4 L1415.8,1187.6 L1418.8,1187.7 L1421.7,1187.9 L1424.6,1188.1 L1427.6,1188.2 L1430.5,1188.3 L1433.4,1188.4 L1436.4,1188.5 L1439.3,1188.6 L1442.2,1188.7 L1445.2,1188.8 L1448.1,1188.9 L1451.0,1189.0 L1454.0,1189.0 L1456.9,1189.1 L1459.8,1189.1 L1462.8,1189.2 L1465.7,1189.2 L1468.6,1189.2 L1471.6,1189.3 L1474.5,1189.3 L1477.4,1189.3 L1480.4,1189.3 L1483.3,1189.4 L1486.2,1189.4 L1489.2,1189.4 L1492.1,1189.4 L1495.0,1189.4 L1498.0,1189.4 L1500.9,1189.5 L1503.8,1189.5 L1506.8,1189.5 L1509.7,1189.5 L1512.6,1189.5 L1515.6,1189.5 L1518.5,1189.5 L1521.4,1189.5 L1524.4,1189.5 L1527.3,1189.5 L1530.2,1189.5 L1533.2,1189.5 L1536.1,1189.5 L1539.1,1189.5 L1542.0,1189.5 L1544.9,1189.6 L1547.9,1189.6 L1550.8,1189.6 L1553.7,1189.6 L1556.7,1189.6 L1559.6,1189.6 L1562.5,1189.6 L1565.5,1189.6 L1568.4,1189.6 L1571.3,1189.6 L1574.3,1189.6 L1577.2,1189.6 L1580.1,1189.6 L1583.1,1189.6 L1586.0,1189.6 L1588.9,1189.6 L1591.9,1189.6 L1594.8,1189.6 L1597.7,1189.6 L1600.7,1189.6 L1603.6,1189.6" stroke="#86d21a" stroke-width="3.2"/>
<path d="M1016.8,1183.2 L1019.7,1183.2 L1022.7,1183.2 L1025.6,1183.2 L1028.5,1183.2 L1031.5,1183.2 L1034.4,1183.2 L1037.3,1183.2 L1040.3,1183.2 L1043.2,1183.2 L1046.1,1183.2 L1049.1,1183.1 L1052.0,1183.1 L1054.9,1183.1 L1057.9,1183.1 L1060.8,1183.1 L1063.7,1183.1 L1066.7,1183.1 L1069.6,1183.1 L1072.5,1183.0 L1075.5,1183.0 L1078.4,1183.0 L1081.3,1183.0 L1084.3,1183.0 L1087.2,1183.0 L1090.1,1182.9 L1093.1,1182.9 L1096.0,1182.9 L1099.0,1182.9 L1101.9,1182.9 L1104.8,1182.9 L1107.8,1182.8 L1110.7,1182.8 L1113.6,1182.8 L1116.6,1182.8 L1119.5,1182.7 L1122.4,1182.7 L1125.4,1182.7 L1128.3,1182.7 L1131.2,1182.6 L1134.2,1182.6 L1137.1,1182.6 L1140.0,1182.6 L1143.0,1182.5 L1145.9,1182.5 L1148.8,1182.5 L1151.8,1182.4 L1154.7,1182.4 L1157.6,1182.3 L1160.6,1182.3 L1163.5,1182.3 L1166.4,1182.2 L1169.4,1182.2 L1172.3,1182.1 L1175.2,1182.1 L1178.2,1182.0 L1181.1,1181.9 L1184.0,1181.9 L1187.0,1181.8 L1189.9,1181.7 L1192.8,1181.7 L1195.8,1181.6 L1198.7,1181.5 L1201.6,1181.4 L1204.6,1181.2 L1207.5,1181.1 L1210.4,1180.9 L1213.4,1180.7 L1216.3,1180.5 L1219.2,1180.2 L1222.2,1179.9 L1225.1,1179.5 L1228.0,1179.0 L1231.0,1178.4 L1233.9,1177.7 L1236.8,1176.8 L1239.8,1175.7 L1242.7,1174.4 L1245.7,1172.9 L1248.6,1171.0 L1251.5,1168.7 L1254.5,1166.0 L1257.4,1162.7 L1260.3,1158.9 L1263.3,1154.5 L1266.2,1149.4 L1269.1,1143.4 L1272.1,1136.6 L1275.0,1128.9 L1277.9,1120.2 L1280.9,1110.5 L1283.8,1099.7 L1286.7,1087.9 L1289.7,1075.0 L1292.6,1061.1 L1295.5,1046.2 L1298.5,1030.5 L1301.4,1014.0 L1304.3,996.9 L1307.3,979.3 L1310.2,961.6 L1313.1,943.8 L1316.1,926.3 L1319.0,909.3 L1321.9,893.1 L1324.9,878.0 L1327.8,864.3 L1330.7,852.2 L1333.7,842.0 L1336.6,834.0 L1339.5,828.3 L1342.5,825.0 L1345.4,824.3 L1348.3,826.2 L1351.3,830.6 L1354.2,837.4 L1357.1,846.4 L1360.1,857.5 L1363.0,870.4 L1365.9,884.9 L1368.9,900.7 L1371.8,917.4 L1374.7,934.8 L1377.7,952.6 L1380.6,970.6 L1383.5,988.5 L1386.5,1006.1 L1389.4,1023.2 L1392.4,1039.6 L1395.3,1055.3 L1398.2,1070.0 L1401.2,1083.7 L1404.1,1096.3 L1407.0,1107.9 L1410.0,1118.5 L1412.9,1127.9 L1415.8,1136.4 L1418.8,1143.9 L1421.7,1150.5 L1424.6,1156.3 L1427.6,1161.2 L1430.5,1165.5 L1433.4,1169.2 L1436.4,1172.3 L1439.3,1174.9 L1442.2,1177.1 L1445.2,1179.0 L1448.1,1180.5 L1451.0,1181.8 L1454.0,1182.8 L1456.9,1183.7 L1459.8,1184.4 L1462.8,1185.0 L1465.7,1185.4 L1468.6,1185.8 L1471.6,1186.2 L1474.5,1186.4 L1477.4,1186.7 L1480.4,1186.9 L1483.3,1187.0 L1486.2,1187.2 L1489.2,1187.3 L1492.1,1187.4 L1495.0,1187.5 L1498.0,1187.6 L1500.9,1187.7 L1503.8,1187.8 L1506.8,1187.9 L1509.7,1187.9 L1512.6,1188.0 L1515.6,1188.1 L1518.5,1188.1 L1521.4,1188.2 L1524.4,1188.2 L1527.3,1188.3 L1530.2,1188.3 L1533.2,1188.3 L1536.1,1188.4 L1539.1,1188.4 L1542.0,1188.5 L1544.9,1188.5 L1547.9,1188.5 L1550.8,1188.6 L1553.7,1188.6 L1556.7,1188.6 L1559.6,1188.7 L1562.5,1188.7 L1565.5,1188.7 L1568.4,1188.7 L1571.3,1188.8 L1574.3,1188.8 L1577.2,1188.8 L1580.1,1188.8 L1583.1,1188.8 L1586.0,1188.9 L1588.9,1188.9 L1591.9,1188.9 L1594.8,1188.9 L1597.7,1188.9 L1600.7,1189.0 L1603.6,1189.0" stroke="#1b9ad6" stroke-width="3.2"/>
<path d="M1016.8,1183.6 L1019.7,1183.6 L1022.7,1183.6 L1025.6,1183.6 L1028.5,1183.6 L1031.5,1183.6 L1034.4,1183.6 L1037.3,1183.6 L1040.3,1183.6 L1043.2,1183.6 L1046.1,1183.6 L1049.1,1183.6 L1052.0,1183.6 L1054.9,1183.6 L1057.9,1183.6 L1060.8,1183.6 L1063.7,1183.6 L1066.7,1183.6 L1069.6,1183.6 L1072.5,1183.6 L1075.5,1183.6 L1078.4,1183.6 L1081.3,1183.6 L1084.3,1183.6 L1087.2,1183.6 L1090.1,1183.6 L1093.1,1183.6 L1096.0,1183.6 L1099.0,1183.6 L1101.9,1183.6 L1104.8,1183.6 L1107.8,1183.6 L1110.7,1183.6 L1113.6,1183.6 L1116.6,1183.6 L1119.5,1183.6 L1122.4,1183.6 L1125.4,1183.6 L1128.3,1183.6 L1131.2,1183.6 L1134.2,1183.6 L1137.1,1183.6 L1140.0,1183.6 L1143.0,1183.6 L1145.9,1183.6 L1148.8,1183.6 L1151.8,1183.6 L1154.7,1183.6 L1157.6,1183.6 L1160.6,1183.6 L1163.5,1183.6 L1166.4,1183.6 L1169.4,1183.6 L1172.3,1183.5 L1175.2,1183.5 L1178.2,1183.5 L1181.1,1183.5 L1184.0,1183.5 L1187.0,1183.5 L1189.9,1183.5 L1192.8,1183.5 L1195.8,1183.5 L1198.7,1183.5 L1201.6,1183.5 L1204.6,1183.5 L1207.5,1183.5 L1210.4,1183.5 L1213.4,1183.5 L1216.3,1183.5 L1219.2,1183.5 L1222.2,1183.5 L1225.1,1183.5 L1228.0,1183.5 L1231.0,1183.5 L1233.9,1183.5 L1236.8,1183.4 L1239.8,1183.4 L1242.7,1183.4 L1245.7,1183.4 L1248.6,1183.4 L1251.5,1183.4 L1254.5,1183.4 L1257.4,1183.4 L1260.3,1183.4 L1263.3,1183.4 L1266.2,1183.4 L1269.1,1183.4 L1272.1,1183.3 L1275.0,1183.3 L1277.9,1183.3 L1280.9,1183.3 L1283.8,1183.3 L1286.7,1183.3 L1289.7,1183.3 L1292.6,1183.2 L1295.5,1183.2 L1298.5,1183.2 L1301.4,1183.1 L1304.3,1183.1 L1307.3,1183.0 L1310.2,1183.0 L1313.1,1182.9 L1316.1,1182.8 L1319.0,1182.7 L1321.9,1182.5 L1324.9,1182.4 L1327.8,1182.1 L1330.7,1181.9 L1333.7,1181.6 L1336.6,1181.2 L1339.5,1180.7 L1342.5,1180.2 L1345.4,1179.5 L1348.3,1178.8 L1351.3,1177.9 L1354.2,1176.9 L1357.1,1175.8 L1360.1,1174.5 L1363.0,1173.0 L1365.9,1171.3 L1368.9,1169.5 L1371.8,1167.5 L1374.7,1165.3 L1377.7,1162.9 L1380.6,1160.4 L1383.5,1157.7 L1386.5,1154.8 L1389.4,1151.8 L1392.4,1148.7 L1395.3,1145.5 L1398.2,1142.4 L1401.2,1139.2 L1404.1,1136.0 L1407.0,1133.0 L1410.0,1130.1 L1412.9,1127.4 L1415.8,1125.0 L1418.8,1122.8 L1421.7,1121.0 L1424.6,1119.5 L1427.6,1118.5 L1430.5,1117.9 L1433.4,1117.8 L1436.4,1118.1 L1439.3,1118.9 L1442.2,1120.2 L1445.2,1121.8 L1448.1,1123.8 L1451.0,1126.2 L1454.0,1128.9 L1456.9,1131.8 L1459.8,1134.9 L1462.8,1138.2 L1465.7,1141.5 L1468.6,1144.9 L1471.6,1148.3 L1474.5,1151.7 L1477.4,1155.0 L1480.4,1158.2 L1483.3,1161.3 L1486.2,1164.2 L1489.2,1167.0 L1492.1,1169.5 L1495.0,1171.9 L1498.0,1174.1 L1500.9,1176.0 L1503.8,1177.8 L1506.8,1179.4 L1509.7,1180.8 L1512.6,1182.1 L1515.6,1183.2 L1518.5,1184.1 L1521.4,1184.9 L1524.4,1185.6 L1527.3,1186.2 L1530.2,1186.8 L1533.2,1187.2 L1536.1,1187.6 L1539.1,1187.9 L1542.0,1188.1 L1544.9,1188.3 L1547.9,1188.5 L1550.8,1188.6 L1553.7,1188.8 L1556.7,1188.8 L1559.6,1188.9 L1562.5,1189.0 L1565.5,1189.1 L1568.4,1189.1 L1571.3,1189.1 L1574.3,1189.2 L1577.2,1189.2 L1580.1,1189.2 L1583.1,1189.2 L1586.0,1189.3 L1588.9,1189.3 L1591.9,1189.3 L1594.8,1189.3 L1597.7,1189.3 L1600.7,1189.3 L1603.6,1189.4" stroke="#0b1d45" stroke-width="3.2"/>
<path d="M1016.8,1183.7 L1019.7,1183.7 L1022.7,1183.7 L1025.6,1183.7 L1028.5,1183.7 L1031.5,1183.7 L1034.4,1183.7 L1037.3,1183.7 L1040.3,1183.7 L1043.2,1183.7 L1046.1,1183.7 L1049.1,1183.7 L1052.0,1183.7 L1054.9,1183.7 L1057.9,1183.7 L1060.8,1183.7 L1063.7,1183.7 L1066.7,1183.7 L1069.6,1183.7 L1072.5,1183.7 L1075.5,1183.7 L1078.4,1183.7 L1081.3,1183.7 L1084.3,1183.7 L1087.2,1183.7 L1090.1,1183.7 L1093.1,1183.7 L1096.0,1183.7 L1099.0,1183.7 L1101.9,1183.7 L1104.8,1183.7 L1107.8,1183.7 L1110.7,1183.7 L1113.6,1183.7 L1116.6,1183.7 L1119.5,1183.7 L1122.4,1183.7 L1125.4,1183.7 L1128.3,1183.7 L1131.2,1183.7 L1134.2,1183.7 L1137.1,1183.7 L1140.0,1183.7 L1143.0,1183.7 L1145.9,1183.7 L1148.8,1183.7 L1151.8,1183.7 L1154.7,1183.7 L1157.6,1183.7 L1160.6,1183.7 L1163.5,1183.7 L1166.4,1183.7 L1169.4,1183.7 L1172.3,1183.7 L1175.2,1183.7 L1178.2,1183.7 L1181.1,1183.7 L1184.0,1183.7 L1187.0,1183.7 L1189.9,1183.7 L1192.8,1183.7 L1195.8,1183.7 L1198.7,1183.7 L1201.6,1183.7 L1204.6,1183.7 L1207.5,1183.7 L1210.4,1183.7 L1213.4,1183.7 L1216.3,1183.7 L1219.2,1183.7 L1222.2,1183.7 L1225.1,1183.7 L1228.0,1183.7 L1231.0,1183.7 L1233.9,1183.7 L1236.8,1183.7 L1239.8,1183.7 L1242.7,1183.7 L1245.7,1183.7 L1248.6,1183.7 L1251.5,1183.7 L1254.5,1183.7 L1257.4,1183.7 L1260.3,1183.7 L1263.3,1183.7 L1266.2,1183.7 L1269.1,1183.7 L1272.1,1183.7 L1275.0,1183.7 L1277.9,1183.7 L1280.9,1183.7 L1283.8,1183.7 L1286.7,1183.7 L1289.7,1183.7 L1292.6,1183.8 L1295.5,1183.8 L1298.5,1183.8 L1301.4,1183.8 L1304.3,1183.8 L1307.3,1183.8 L1310.2,1183.8 L1313.1,1183.8 L1316.1,1183.9 L1319.0,1183.9 L1321.9,1183.9 L1324.9,1183.9 L1327.8,1184.0 L1330.7,1184.0 L1333.7,1184.0 L1336.6,1184.1 L1339.5,1184.1 L1342.5,1184.2 L1345.4,1184.3 L1348.3,1184.3 L1351.3,1184.4 L1354.2,1184.5 L1357.1,1184.6 L1360.1,1184.7 L1363.0,1184.8 L1365.9,1185.0 L1368.9,1185.1 L1371.8,1185.3 L1374.7,1185.4 L1377.7,1185.6 L1380.6,1185.8 L1383.5,1185.9 L1386.5,1186.1 L1389.4,1186.3 L1392.4,1186.5 L1395.3,1186.7 L1398.2,1186.9 L1401.2,1187.1 L1404.1,1187.3 L1407.0,1187.5 L1410.0,1187.7 L1412.9,1187.9 L1415.8,1188.0 L1418.8,1188.2 L1421.7,1188.3 L1424.6,1188.5 L1427.6,1188.6 L1430.5,1188.7 L1433.4,1188.8 L1436.4,1188.9 L1439.3,1189.0 L1442.2,1189.1 L1445.2,1189.1 L1448.1,1189.2 L1451.0,1189.3 L1454.0,1189.3 L1456.9,1189.4 L1459.8,1189.4 L1462.8,1189.4 L1465.7,1189.5 L1468.6,1189.5 L1471.6,1189.5 L1474.5,1189.5 L1477.4,1189.6 L1480.4,1189.6 L1483.3,1189.6 L1486.2,1189.6 L1489.2,1189.6 L1492.1,1189.6 L1495.0,1189.6 L1498.0,1189.6 L1500.9,1189.7 L1503.8,1189.7 L1506.8,1189.7 L1509.7,1189.7 L1512.6,1189.7 L1515.6,1189.7 L1518.5,1189.7 L1521.4,1189.7 L1524.4,1189.7 L1527.3,1189.7 L1530.2,1189.7 L1533.2,1189.7 L1536.1,1189.7 L1539.1,1189.7 L1542.0,1189.7 L1544.9,1189.7 L1547.9,1189.7 L1550.8,1189.7 L1553.7,1189.7 L1556.7,1189.7 L1559.6,1189.7 L1562.5,1189.7 L1565.5,1189.7 L1568.4,1189.7 L1571.3,1189.7 L1574.3,1189.7 L1577.2,1189.7 L1580.1,1189.7 L1583.1,1189.7 L1586.0,1189.7 L1588.9,1189.7 L1591.9,1189.7 L1594.8,1189.7 L1597.7,1189.7 L1600.7,1189.7 L1603.6,1189.7" stroke="#444" stroke-width="3"/>
<path d="M1016.8,1096.0 L1018.7,1096.0 L1021.1,1095.9 L1023.9,1095.9 L1027.0,1095.8 L1030.4,1095.8 L1034.0,1095.7 L1037.8,1095.5 L1041.5,1095.4 L1045.3,1095.2 L1048.9,1094.9 L1052.5,1094.6 L1056.2,1094.2 L1060.1,1093.8 L1064.0,1093.3 L1067.9,1092.8 L1071.9,1092.3 L1075.9,1091.7 L1079.9,1091.2 L1083.9,1090.6 L1087.8,1090.1 L1091.7,1089.6 L1095.6,1089.1 L1099.5,1088.6 L1103.4,1088.1 L1107.2,1087.6 L1111.1,1087.0 L1115.0,1086.4 L1118.9,1085.8 L1122.8,1085.0 L1126.7,1084.2 L1130.6,1083.3 L1134.6,1082.3 L1138.7,1081.2 L1142.7,1080.0 L1146.8,1078.8 L1150.7,1077.6 L1154.6,1076.3 L1158.4,1075.1 L1162.1,1073.8 L1165.6,1072.6 L1169.0,1071.4 L1172.3,1070.2 L1175.5,1068.9 L1178.6,1067.7 L1181.7,1066.4 L1184.6,1065.2 L1187.3,1063.9 L1190.0,1062.6 L1192.5,1061.3 L1194.8,1059.9 L1196.9,1058.6 L1198.8,1057.3 L1200.4,1056.1 L1201.9,1054.9 L1203.3,1053.6 L1204.7,1052.2 L1206.0,1050.8 L1207.4,1049.1 L1208.8,1047.3 L1210.4,1045.3 L1212.1,1043.0 L1213.9,1040.3 L1215.7,1037.4 L1217.6,1034.4 L1219.5,1031.2 L1221.3,1028.1 L1223.1,1025.0 L1224.8,1022.0 L1226.3,1019.2 L1227.7,1016.7 L1228.9,1014.4 L1230.0,1012.3 L1230.9,1010.4 L1231.7,1008.5 L1232.5,1006.7 L1233.2,1005.0 L1234.0,1003.4 L1234.7,1001.7 L1235.6,1000.1 L1236.5,998.5 L1237.5,996.9 L1238.5,995.3 L1239.6,993.9 L1240.7,992.4 L1241.8,991.0 L1242.9,989.6 L1244.1,988.2 L1245.2,986.8 L1246.3,985.3 L1247.4,983.9 L1248.5,982.4 L1249.6,980.9 L1250.7,979.5 L1251.8,978.0 L1252.9,976.5 L1254.0,975.0 L1255.1,973.5 L1256.2,972.1 L1257.3,970.7 L1258.4,969.3 L1259.5,968.0 L1260.6,966.7 L1261.7,965.6 L1262.8,964.4 L1263.9,963.2 L1264.9,962.1 L1266.0,960.9 L1267.1,959.6 L1268.2,958.3 L1269.3,956.9 L1270.4,955.4 L1271.5,953.9 L1272.6,952.3 L1273.7,950.6 L1274.8,949.0 L1275.9,947.2 L1277.0,945.5 L1278.1,943.7 L1279.2,941.9 L1280.2,940.1 L1281.2,938.3 L1282.2,936.4 L1283.3,934.6 L1284.3,932.7 L1285.2,930.8 L1286.2,928.8 L1287.1,926.8 L1288.0,924.8 L1288.9,922.6 L1289.7,920.4 L1290.5,918.1 L1291.2,915.8 L1291.8,913.5 L1292.4,911.1 L1293.0,908.7 L1293.6,906.1 L1294.2,903.5 L1294.7,900.8 L1295.4,898.0 L1296.0,895.0 L1296.7,891.9 L1297.3,888.6 L1298.0,885.3 L1298.7,881.8 L1299.4,878.2 L1300.1,874.6 L1300.8,870.9 L1301.5,867.2 L1302.3,863.6 L1303.0,860.0 L1303.8,856.5 L1304.5,853.0 L1305.3,849.6 L1306.0,846.1 L1306.8,842.6 L1307.6,839.1 L1308.4,835.4 L1309.3,831.6 L1310.2,827.7 L1311.1,823.5 L1312.1,819.1 L1313.1,814.3 L1314.2,809.4 L1315.3,804.3 L1316.5,799.1 L1317.6,793.9 L1318.8,788.7 L1320.0,783.7 L1321.1,778.9 L1322.3,774.4 L1323.5,770.0 L1324.7,765.6 L1325.9,761.2 L1327.1,756.9 L1328.3,752.7 L1329.6,748.8 L1330.8,745.1 L1331.9,741.7 L1333.1,738.6 L1334.2,736.0 L1335.3,733.8 L1336.3,731.9 L1337.3,730.2 L1338.2,728.9 L1339.2,727.9 L1340.1,727.1 L1341.1,726.6 L1342.0,726.3 L1342.9,726.3 L1343.9,726.5 L1344.9,726.9 L1345.8,727.6 L1346.8,728.5 L1347.7,729.7 L1348.7,731.2 L1349.6,732.8 L1350.6,734.8 L1351.5,736.9 L1352.5,739.3 L1353.5,742.0 L1354.5,745.0 L1355.6,748.3 L1356.6,752.0 L1357.7,756.0 L1358.8,760.1 L1359.9,764.4 L1360.9,768.8 L1362.0,773.2 L1363.0,777.6 L1364.0,781.9 L1365.0,786.2 L1365.9,790.5 L1366.8,794.9 L1367.7,799.4 L1368.5,803.9 L1369.4,808.4 L1370.3,813.0 L1371.1,817.5 L1372.0,822.0 L1372.9,826.5 L1373.8,830.9 L1374.7,835.3 L1375.5,839.7 L1376.4,844.0 L1377.3,848.4 L1378.1,852.8 L1379.0,857.2 L1379.9,861.8 L1380.8,866.4 L1381.8,871.2 L1382.8,876.2 L1383.8,881.4 L1384.8,886.8 L1385.9,892.3 L1387.0,897.9 L1388.1,903.4 L1389.1,908.7 L1390.2,913.9 L1391.3,918.8 L1392.3,923.3 L1393.3,927.5 L1394.2,931.4 L1395.1,935.1 L1396.0,938.6 L1396.9,941.9 L1397.8,945.1 L1398.8,948.3 L1399.9,951.5 L1401.1,954.7 L1402.4,958.0 L1403.9,961.4 L1405.5,964.7 L1407.2,968.1 L1408.9,971.5 L1410.8,974.8 L1412.7,978.1 L1414.6,981.3 L1416.5,984.4 L1418.5,987.3 L1420.4,990.1 L1422.3,992.7 L1424.3,995.1 L1426.3,997.3 L1428.3,999.4 L1430.3,1001.4 L1432.4,1003.4 L1434.4,1005.4 L1436.5,1007.6 L1438.5,1009.8 L1440.5,1012.2 L1442.5,1014.8 L1444.5,1017.5 L1446.5,1020.4 L1448.5,1023.3 L1450.5,1026.3 L1452.5,1029.2 L1454.5,1032.1 L1456.5,1035.0 L1458.5,1037.7 L1460.5,1040.3 L1462.5,1042.8 L1464.5,1045.1 L1466.5,1047.4 L1468.5,1049.6 L1470.5,1051.8 L1472.6,1053.9 L1474.6,1056.0 L1476.6,1058.1 L1478.6,1060.2 L1480.6,1062.3 L1482.6,1064.4 L1484.6,1066.6 L1486.6,1068.7 L1488.6,1070.9 L1490.7,1073.0 L1492.7,1075.0 L1494.7,1077.0 L1496.7,1078.9 L1498.7,1080.7 L1500.7,1082.4 L1502.7,1084.0 L1504.5,1085.4 L1506.4,1086.8 L1508.2,1088.2 L1510.1,1089.4 L1512.0,1090.6 L1514.0,1091.6 L1516.1,1092.6 L1518.3,1093.6 L1520.7,1094.4 L1523.3,1095.1 L1526.1,1095.8 L1529.0,1096.3 L1532.0,1096.8 L1535.1,1097.2 L1538.3,1097.5 L1541.5,1097.7 L1544.6,1098.0 L1547.7,1098.2 L1550.8,1098.4 L1553.8,1098.6 L1556.9,1098.6 L1560.1,1098.7 L1563.2,1098.6 L1566.3,1098.6 L1569.4,1098.5 L1572.4,1098.5 L1575.4,1098.4 L1578.2,1098.4 L1580.9,1098.4 L1583.6,1098.5 L1586.3,1098.6 L1588.9,1098.7 L1591.6,1098.8 L1594.1,1098.9 L1596.4,1099.0 L1598.6,1099.1 L1600.5,1099.2 L1602.2,1099.3 L1603.5,1099.4" stroke="#000" stroke-width="3.4"/>
<g stroke="#111" stroke-width="2.4"><circle cx="1016.8" cy="1095.3" r="8.2" /><circle cx="1028.5" cy="1097.2" r="8.2" /><circle cx="1040.3" cy="1094.8" r="8.2" /><circle cx="1052.0" cy="1093.7" r="8.2" /><circle cx="1063.7" cy="1090.7" r="8.2" /><circle cx="1075.5" cy="1091.2" r="8.2" /><circle cx="1087.2" cy="1093.3" r="8.2" /><circle cx="1099.0" cy="1089.8" r="8.2" /><circle cx="1110.7" cy="1090.0" r="8.2" /><circle cx="1122.4" cy="1085.8" r="8.2" /><circle cx="1134.2" cy="1083.5" r="8.2" /><circle cx="1145.9" cy="1079.6" r="8.2" /><circle cx="1157.6" cy="1070.7" r="8.2" /><circle cx="1169.4" cy="1073.6" r="8.2" /><circle cx="1181.1" cy="1068.1" r="8.2" /><circle cx="1192.8" cy="1062.4" r="8.2" /><circle cx="1204.6" cy="1047.6" r="8.2" /><circle cx="1216.3" cy="1031.6" r="8.2" /><circle cx="1228.0" cy="1013.6" r="8.2" /><circle cx="1239.8" cy="992.3" r="8.2" /><circle cx="1251.5" cy="979.2" r="8.2" /><circle cx="1263.3" cy="963.7" r="8.2" /><circle cx="1275.0" cy="950.2" r="8.2" /><circle cx="1286.7" cy="925.9" r="8.2" /><circle cx="1298.5" cy="883.8" r="8.2" /><circle cx="1310.2" cy="828.6" r="8.2" /><circle cx="1321.9" cy="774.0" r="8.2" /><circle cx="1333.7" cy="742.0" r="8.2" /><circle cx="1345.4" cy="728.9" r="8.2" /><circle cx="1357.1" cy="757.2" r="8.2" /><circle cx="1368.9" cy="803.9" r="8.2" /><circle cx="1380.6" cy="863.2" r="8.2" /><circle cx="1392.4" cy="922.6" r="8.2" /><circle cx="1404.1" cy="961.5" r="8.2" /><circle cx="1415.8" cy="985.0" r="8.2" /><circle cx="1427.6" cy="999.3" r="8.2" /><circle cx="1439.3" cy="1009.5" r="8.2" /><circle cx="1451.0" cy="1024.4" r="8.2" /><circle cx="1462.8" cy="1041.6" r="8.2" /><circle cx="1474.5" cy="1059.4" r="8.2" /><circle cx="1486.2" cy="1066.0" r="8.2" /><circle cx="1498.0" cy="1080.8" r="8.2" /><circle cx="1509.7" cy="1090.4" r="8.2" /><circle cx="1521.4" cy="1090.4" r="8.2" /><circle cx="1533.2" cy="1097.1" r="8.2" /><circle cx="1544.9" cy="1101.7" r="8.2" /><circle cx="1556.7" cy="1093.0" r="8.2" /><circle cx="1568.4" cy="1097.6" r="8.2" /><circle cx="1580.1" cy="1098.1" r="8.2" /><circle cx="1591.9" cy="1096.5" r="8.2" /><circle cx="1603.6" cy="1100.8" r="8.2" /><circle cx="1022.7" cy="1095.7" r="8.2" /><circle cx="1034.4" cy="1090.5" r="8.2" /><circle cx="1046.1" cy="1098.0" r="8.2" /><circle cx="1057.9" cy="1096.4" r="8.2" /><circle cx="1069.6" cy="1095.9" r="8.2" /><circle cx="1081.3" cy="1096.0" r="8.2" /><circle cx="1093.1" cy="1090.7" r="8.2" /><circle cx="1104.8" cy="1088.3" r="8.2" /><circle cx="1116.6" cy="1081.6" r="8.2" /><circle cx="1128.3" cy="1086.0" r="8.2" /><circle cx="1140.0" cy="1078.7" r="8.2" /><circle cx="1151.8" cy="1075.7" r="8.2" /><circle cx="1163.5" cy="1068.9" r="8.2" /><circle cx="1175.2" cy="1065.6" r="8.2" /><circle cx="1187.0" cy="1062.2" r="8.2" /><circle cx="1198.7" cy="1061.9" r="8.2" /><circle cx="1210.4" cy="1038.1" r="8.2" /><circle cx="1222.2" cy="1021.4" r="8.2" /></g>
</g>
<g clip-path="url(#cpf)" fill="none" stroke-linejoin="round">
<path d="M1030.1,1882.3 L1032.2,1882.3 L1034.3,1882.2 L1036.4,1882.2 L1038.5,1882.2 L1040.6,1882.2 L1042.7,1882.2 L1044.8,1882.1 L1046.9,1882.1 L1049.0,1882.0 L1051.1,1882.0 L1053.2,1881.9 L1055.3,1881.8 L1057.4,1881.8 L1059.5,1881.7 L1061.6,1881.5 L1063.8,1881.4 L1065.9,1881.3 L1068.0,1881.1 L1070.1,1880.9 L1072.2,1880.7 L1074.3,1880.5 L1076.4,1880.3 L1078.5,1880.1 L1080.6,1879.8 L1082.7,1879.5 L1084.8,1879.2 L1086.9,1878.9 L1089.0,1878.6 L1091.1,1878.2 L1093.2,1877.9 L1095.3,1877.5 L1097.4,1877.2 L1099.5,1876.8 L1101.6,1876.5 L1103.7,1876.1 L1105.8,1875.8 L1107.9,1875.5 L1110.0,1875.3 L1112.1,1875.0 L1114.2,1874.8 L1116.3,1874.6 L1118.4,1874.5 L1120.5,1874.4 L1122.6,1874.3 L1124.7,1874.3 L1126.9,1874.3 L1129.0,1874.4 L1131.1,1874.5 L1133.2,1874.6 L1135.3,1874.8 L1137.4,1875.0 L1139.5,1875.3 L1141.6,1875.5 L1143.7,1875.8 L1145.8,1876.1 L1147.9,1876.5 L1150.0,1876.8 L1152.1,1877.2 L1154.2,1877.5 L1156.3,1877.9 L1158.4,1878.2 L1160.5,1878.6 L1162.6,1878.9 L1164.7,1879.2 L1166.8,1879.5 L1168.9,1879.8 L1171.0,1880.1 L1173.1,1880.3 L1175.2,1880.5 L1177.3,1880.7 L1179.4,1880.9 L1181.5,1881.1 L1183.6,1881.3 L1185.7,1881.4 L1187.8,1881.5 L1189.9,1881.7 L1192.1,1881.8 L1194.2,1881.8 L1196.3,1881.9 L1198.4,1882.0 L1200.5,1882.0 L1202.6,1882.1 L1204.7,1882.1 L1206.8,1882.2 L1208.9,1882.2 L1211.0,1882.2 L1213.1,1882.2 L1215.2,1882.2 L1217.3,1882.3 L1219.4,1882.3 L1221.5,1882.3 L1223.6,1882.3 L1225.7,1882.3 L1227.8,1882.3 L1229.9,1882.3 L1232.0,1882.3 L1234.1,1882.3 L1236.2,1882.3 L1238.3,1882.3 L1240.4,1882.3 L1242.5,1882.3 L1244.6,1882.3 L1246.7,1882.3 L1248.8,1882.3 L1250.9,1882.3 L1253.0,1882.3 L1255.2,1882.3 L1257.3,1882.3 L1259.4,1882.3 L1261.5,1882.3 L1263.6,1882.3 L1265.7,1882.3 L1267.8,1882.4 L1269.9,1882.4 L1272.0,1882.4 L1274.1,1882.4 L1276.2,1882.4 L1278.3,1882.4 L1280.4,1882.4 L1282.5,1882.4 L1284.6,1882.4 L1286.7,1882.4 L1288.8,1882.4 L1290.9,1882.4 L1293.0,1882.5 L1295.1,1882.5 L1297.2,1882.5 L1299.3,1882.5 L1301.4,1882.5 L1303.5,1882.6 L1305.6,1882.6 L1307.7,1882.6 L1309.8,1882.6 L1311.9,1882.7 L1314.0,1882.7 L1316.1,1882.7 L1318.2,1882.8 L1320.4,1882.8 L1322.5,1882.9 L1324.6,1882.9 L1326.7,1883.0 L1328.8,1883.1 L1330.9,1883.1 L1333.0,1883.2 L1335.1,1883.3 L1337.2,1883.4 L1339.3,1883.5 L1341.4,1883.6 L1343.5,1883.7 L1345.6,1883.8 L1347.7,1883.9 L1349.8,1884.0 L1351.9,1884.2 L1354.0,1884.3 L1356.1,1884.4 L1358.2,1884.6 L1360.3,1884.8 L1362.4,1884.9 L1364.5,1885.1 L1366.6,1885.3 L1368.7,1885.5 L1370.8,1885.7 L1372.9,1885.9 L1375.0,1886.1 L1377.1,1886.3 L1379.2,1886.5 L1381.3,1886.7 L1383.4,1886.9 L1385.6,1887.1 L1387.7,1887.3 L1389.8,1887.5 L1391.9,1887.7 L1394.0,1887.9 L1396.1,1888.0 L1398.2,1888.2 L1400.3,1888.4 L1402.4,1888.5 L1404.5,1888.7 L1406.6,1888.8 L1408.7,1889.0 L1410.8,1889.1 L1412.9,1889.2 L1415.0,1889.4 L1417.1,1889.5 L1419.2,1889.6 L1421.3,1889.7 L1423.4,1889.8 L1425.5,1889.8 L1427.6,1889.9 L1429.7,1890.0 L1431.8,1890.1 L1433.9,1890.1 L1436.0,1890.2 L1438.1,1890.2 L1440.2,1890.3 L1442.3,1890.3 L1444.4,1890.4 L1446.5,1890.4 L1448.7,1890.4 L1450.8,1890.5 L1452.9,1890.5 L1455.0,1890.5 L1457.1,1890.6 L1459.2,1890.6 L1461.3,1890.6 L1463.4,1890.6 L1465.5,1890.6 L1467.6,1890.6 L1469.7,1890.7 L1471.8,1890.7 L1473.9,1890.7 L1476.0,1890.7 L1478.1,1890.7 L1480.2,1890.7 L1482.3,1890.7 L1484.4,1890.7 L1486.5,1890.7 L1488.6,1890.7 L1490.7,1890.7 L1492.8,1890.7 L1494.9,1890.8 L1497.0,1890.8 L1499.1,1890.8 L1501.2,1890.8 L1503.3,1890.8 L1505.4,1890.8 L1507.5,1890.8 L1509.6,1890.8 L1511.7,1890.8 L1513.9,1890.8 L1516.0,1890.8 L1518.1,1890.8 L1520.2,1890.8 L1522.3,1890.8 L1524.4,1890.8 L1526.5,1890.8 L1528.6,1890.8 L1530.7,1890.8 L1532.8,1890.8 L1534.9,1890.8 L1537.0,1890.8 L1539.1,1890.8 L1541.2,1890.8 L1543.3,1890.8 L1545.4,1890.8 L1547.5,1890.8 L1549.6,1890.8 L1551.7,1890.8 L1553.8,1890.8 L1555.9,1890.8 L1558.0,1890.8 L1560.1,1890.8 L1562.2,1890.8 L1564.3,1890.8 L1566.4,1890.8 L1568.5,1890.8 L1570.6,1890.8 L1572.7,1890.8 L1574.8,1890.8 L1577.0,1890.8 L1579.1,1890.8 L1581.2,1890.8 L1583.3,1890.8 L1585.4,1890.8 L1587.5,1890.8 L1589.6,1890.8 L1591.7,1890.8 L1593.8,1890.8 L1595.9,1890.8 L1598.0,1890.8 L1600.1,1890.8 L1602.2,1890.8 L1604.3,1890.8 L1606.4,1890.8 L1608.5,1890.8" stroke="#7fd010" stroke-width="3"/>
<path d="M1030.1,1882.2 L1032.2,1882.2 L1034.3,1882.2 L1036.4,1882.2 L1038.5,1882.2 L1040.6,1882.2 L1042.7,1882.2 L1044.8,1882.2 L1046.9,1882.2 L1049.0,1882.2 L1051.1,1882.2 L1053.2,1882.2 L1055.3,1882.2 L1057.4,1882.2 L1059.5,1882.2 L1061.6,1882.2 L1063.8,1882.2 L1065.9,1882.2 L1068.0,1882.2 L1070.1,1882.2 L1072.2,1882.1 L1074.3,1882.1 L1076.4,1882.1 L1078.5,1882.1 L1080.6,1882.1 L1082.7,1882.1 L1084.8,1882.1 L1086.9,1882.1 L1089.0,1882.1 L1091.1,1882.1 L1093.2,1882.1 L1095.3,1882.1 L1097.4,1882.1 L1099.5,1882.1 L1101.6,1882.1 L1103.7,1882.1 L1105.8,1882.1 L1107.9,1882.1 L1110.0,1882.1 L1112.1,1882.1 L1114.2,1882.1 L1116.3,1882.1 L1118.4,1882.0 L1120.5,1882.0 L1122.6,1882.0 L1124.7,1882.0 L1126.9,1882.0 L1129.0,1882.0 L1131.1,1882.0 L1133.2,1882.0 L1135.3,1882.0 L1137.4,1882.0 L1139.5,1882.0 L1141.6,1881.9 L1143.7,1881.9 L1145.8,1881.9 L1147.9,1881.9 L1150.0,1881.9 L1152.1,1881.9 L1154.2,1881.9 L1156.3,1881.8 L1158.4,1881.8 L1160.5,1881.8 L1162.6,1881.8 L1164.7,1881.7 L1166.8,1881.7 L1168.9,1881.7 L1171.0,1881.6 L1173.1,1881.6 L1175.2,1881.5 L1177.3,1881.4 L1179.4,1881.3 L1181.5,1881.2 L1183.6,1881.1 L1185.7,1880.9 L1187.8,1880.8 L1189.9,1880.5 L1192.1,1880.3 L1194.2,1879.9 L1196.3,1879.6 L1198.4,1879.1 L1200.5,1878.6 L1202.6,1878.0 L1204.7,1877.3 L1206.8,1876.5 L1208.9,1875.6 L1211.0,1874.6 L1213.1,1873.4 L1215.2,1872.1 L1217.3,1870.6 L1219.4,1869.0 L1221.5,1867.3 L1223.6,1865.3 L1225.7,1863.3 L1227.8,1861.1 L1229.9,1858.7 L1232.0,1856.3 L1234.1,1853.7 L1236.2,1851.1 L1238.3,1848.4 L1240.4,1845.6 L1242.5,1842.9 L1244.6,1840.2 L1246.7,1837.6 L1248.8,1835.1 L1250.9,1832.8 L1253.0,1830.7 L1255.2,1828.8 L1257.3,1827.1 L1259.4,1825.8 L1261.5,1824.8 L1263.6,1824.1 L1265.7,1823.9 L1267.8,1824.0 L1269.9,1824.4 L1272.0,1825.3 L1274.1,1826.4 L1276.2,1827.9 L1278.3,1829.7 L1280.4,1831.8 L1282.5,1834.0 L1284.6,1836.5 L1286.7,1839.0 L1288.8,1841.7 L1290.9,1844.4 L1293.0,1847.2 L1295.1,1849.9 L1297.2,1852.6 L1299.3,1855.2 L1301.4,1857.7 L1303.5,1860.2 L1305.6,1862.5 L1307.7,1864.6 L1309.8,1866.7 L1311.9,1868.5 L1314.0,1870.2 L1316.1,1871.8 L1318.2,1873.2 L1320.4,1874.5 L1322.5,1875.7 L1324.6,1876.7 L1326.7,1877.6 L1328.8,1878.4 L1330.9,1879.1 L1333.0,1879.8 L1335.1,1880.3 L1337.2,1880.8 L1339.3,1881.3 L1341.4,1881.7 L1343.5,1882.0 L1345.6,1882.3 L1347.7,1882.6 L1349.8,1882.9 L1351.9,1883.1 L1354.0,1883.4 L1356.1,1883.6 L1358.2,1883.8 L1360.3,1884.1 L1362.4,1884.3 L1364.5,1884.5 L1366.6,1884.7 L1368.7,1884.9 L1370.8,1885.2 L1372.9,1885.4 L1375.0,1885.6 L1377.1,1885.8 L1379.2,1886.0 L1381.3,1886.3 L1383.4,1886.5 L1385.6,1886.7 L1387.7,1886.9 L1389.8,1887.1 L1391.9,1887.3 L1394.0,1887.5 L1396.1,1887.7 L1398.2,1887.9 L1400.3,1888.1 L1402.4,1888.2 L1404.5,1888.4 L1406.6,1888.6 L1408.7,1888.7 L1410.8,1888.9 L1412.9,1889.0 L1415.0,1889.1 L1417.1,1889.2 L1419.2,1889.3 L1421.3,1889.4 L1423.4,1889.5 L1425.5,1889.6 L1427.6,1889.7 L1429.7,1889.8 L1431.8,1889.9 L1433.9,1889.9 L1436.0,1890.0 L1438.1,1890.0 L1440.2,1890.1 L1442.3,1890.1 L1444.4,1890.2 L1446.5,1890.2 L1448.7,1890.3 L1450.8,1890.3 L1452.9,1890.3 L1455.0,1890.4 L1457.1,1890.4 L1459.2,1890.4 L1461.3,1890.4 L1463.4,1890.5 L1465.5,1890.5 L1467.6,1890.5 L1469.7,1890.5 L1471.8,1890.5 L1473.9,1890.6 L1476.0,1890.6 L1478.1,1890.6 L1480.2,1890.6 L1482.3,1890.6 L1484.4,1890.6 L1486.5,1890.6 L1488.6,1890.6 L1490.7,1890.6 L1492.8,1890.6 L1494.9,1890.6 L1497.0,1890.7 L1499.1,1890.7 L1501.2,1890.7 L1503.3,1890.7 L1505.4,1890.7 L1507.5,1890.7 L1509.6,1890.7 L1511.7,1890.7 L1513.9,1890.7 L1516.0,1890.7 L1518.1,1890.7 L1520.2,1890.7 L1522.3,1890.7 L1524.4,1890.7 L1526.5,1890.7 L1528.6,1890.7 L1530.7,1890.7 L1532.8,1890.7 L1534.9,1890.7 L1537.0,1890.7 L1539.1,1890.7 L1541.2,1890.7 L1543.3,1890.7 L1545.4,1890.7 L1547.5,1890.7 L1549.6,1890.7 L1551.7,1890.7 L1553.8,1890.7 L1555.9,1890.7 L1558.0,1890.7 L1560.1,1890.7 L1562.2,1890.7 L1564.3,1890.7 L1566.4,1890.7 L1568.5,1890.7 L1570.6,1890.7 L1572.7,1890.7 L1574.8,1890.7 L1577.0,1890.7 L1579.1,1890.7 L1581.2,1890.7 L1583.3,1890.7 L1585.4,1890.7 L1587.5,1890.7 L1589.6,1890.7 L1591.7,1890.7 L1593.8,1890.7 L1595.9,1890.7 L1598.0,1890.7 L1600.1,1890.7 L1602.2,1890.7 L1604.3,1890.7 L1606.4,1890.7 L1608.5,1890.8" stroke="#18a3f5" stroke-width="3"/>
<path d="M1030.1,1881.9 L1032.2,1881.9 L1034.3,1881.9 L1036.4,1881.9 L1038.5,1881.9 L1040.6,1881.9 L1042.7,1881.8 L1044.8,1881.8 L1046.9,1881.8 L1049.0,1881.8 L1051.1,1881.8 L1053.2,1881.8 L1055.3,1881.8 L1057.4,1881.8 L1059.5,1881.8 L1061.6,1881.8 L1063.8,1881.8 L1065.9,1881.8 L1068.0,1881.8 L1070.1,1881.8 L1072.2,1881.8 L1074.3,1881.7 L1076.4,1881.7 L1078.5,1881.7 L1080.6,1881.7 L1082.7,1881.7 L1084.8,1881.7 L1086.9,1881.7 L1089.0,1881.7 L1091.1,1881.7 L1093.2,1881.7 L1095.3,1881.7 L1097.4,1881.6 L1099.5,1881.6 L1101.6,1881.6 L1103.7,1881.6 L1105.8,1881.6 L1107.9,1881.6 L1110.0,1881.6 L1112.1,1881.6 L1114.2,1881.6 L1116.3,1881.5 L1118.4,1881.5 L1120.5,1881.5 L1122.6,1881.5 L1124.7,1881.5 L1126.9,1881.5 L1129.0,1881.5 L1131.1,1881.4 L1133.2,1881.4 L1135.3,1881.4 L1137.4,1881.4 L1139.5,1881.4 L1141.6,1881.4 L1143.7,1881.3 L1145.8,1881.3 L1147.9,1881.3 L1150.0,1881.3 L1152.1,1881.3 L1154.2,1881.2 L1156.3,1881.2 L1158.4,1881.2 L1160.5,1881.2 L1162.6,1881.1 L1164.7,1881.1 L1166.8,1881.1 L1168.9,1881.1 L1171.0,1881.0 L1173.1,1881.0 L1175.2,1881.0 L1177.3,1881.0 L1179.4,1880.9 L1181.5,1880.9 L1183.6,1880.9 L1185.7,1880.8 L1187.8,1880.8 L1189.9,1880.8 L1192.1,1880.7 L1194.2,1880.7 L1196.3,1880.6 L1198.4,1880.6 L1200.5,1880.6 L1202.6,1880.5 L1204.7,1880.5 L1206.8,1880.4 L1208.9,1880.4 L1211.0,1880.3 L1213.1,1880.3 L1215.2,1880.2 L1217.3,1880.1 L1219.4,1880.1 L1221.5,1880.0 L1223.6,1879.9 L1225.7,1879.9 L1227.8,1879.8 L1229.9,1879.7 L1232.0,1879.6 L1234.1,1879.5 L1236.2,1879.4 L1238.3,1879.3 L1240.4,1879.2 L1242.5,1879.1 L1244.6,1879.0 L1246.7,1878.9 L1248.8,1878.7 L1250.9,1878.5 L1253.0,1878.4 L1255.2,1878.2 L1257.3,1877.9 L1259.4,1877.6 L1261.5,1877.3 L1263.6,1876.9 L1265.7,1876.5 L1267.8,1875.9 L1269.9,1875.3 L1272.0,1874.5 L1274.1,1873.6 L1276.2,1872.5 L1278.3,1871.2 L1280.4,1869.6 L1282.5,1867.7 L1284.6,1865.5 L1286.7,1862.9 L1288.8,1859.8 L1290.9,1856.1 L1293.0,1851.9 L1295.1,1847.0 L1297.2,1841.4 L1299.3,1834.9 L1301.4,1827.5 L1303.5,1819.2 L1305.6,1809.9 L1307.7,1799.5 L1309.8,1787.9 L1311.9,1775.3 L1314.0,1761.4 L1316.1,1746.4 L1318.2,1730.4 L1320.4,1713.2 L1322.5,1695.1 L1324.6,1676.2 L1326.7,1656.5 L1328.8,1636.3 L1330.9,1615.7 L1333.0,1595.1 L1335.1,1574.5 L1337.2,1554.4 L1339.3,1534.9 L1341.4,1516.4 L1343.5,1499.2 L1345.6,1483.5 L1347.7,1469.7 L1349.8,1458.0 L1351.9,1448.7 L1354.0,1441.9 L1356.1,1437.9 L1358.2,1436.6 L1360.3,1438.2 L1362.4,1442.6 L1364.5,1449.7 L1366.6,1459.3 L1368.7,1471.3 L1370.8,1485.4 L1372.9,1501.4 L1375.0,1518.9 L1377.1,1537.7 L1379.2,1557.5 L1381.3,1577.9 L1383.4,1598.8 L1385.6,1619.7 L1387.7,1640.5 L1389.8,1661.0 L1391.9,1680.9 L1394.0,1700.1 L1396.1,1718.4 L1398.2,1735.8 L1400.3,1752.1 L1402.4,1767.3 L1404.5,1781.3 L1406.6,1794.1 L1408.7,1805.9 L1410.8,1816.4 L1412.9,1825.9 L1415.0,1834.4 L1417.1,1841.9 L1419.2,1848.5 L1421.3,1854.2 L1423.4,1859.2 L1425.5,1863.6 L1427.6,1867.3 L1429.7,1870.5 L1431.8,1873.2 L1433.9,1875.5 L1436.0,1877.4 L1438.1,1879.0 L1440.2,1880.4 L1442.3,1881.6 L1444.4,1882.5 L1446.5,1883.3 L1448.7,1884.0 L1450.8,1884.6 L1452.9,1885.1 L1455.0,1885.5 L1457.1,1885.8 L1459.2,1886.2 L1461.3,1886.4 L1463.4,1886.6 L1465.5,1886.9 L1467.6,1887.0 L1469.7,1887.2 L1471.8,1887.4 L1473.9,1887.5 L1476.0,1887.6 L1478.1,1887.7 L1480.2,1887.8 L1482.3,1887.9 L1484.4,1888.0 L1486.5,1888.1 L1488.6,1888.2 L1490.7,1888.3 L1492.8,1888.4 L1494.9,1888.5 L1497.0,1888.5 L1499.1,1888.6 L1501.2,1888.7 L1503.3,1888.7 L1505.4,1888.8 L1507.5,1888.8 L1509.6,1888.9 L1511.7,1888.9 L1513.9,1889.0 L1516.0,1889.0 L1518.1,1889.1 L1520.2,1889.1 L1522.3,1889.2 L1524.4,1889.2 L1526.5,1889.2 L1528.6,1889.3 L1530.7,1889.3 L1532.8,1889.4 L1534.9,1889.4 L1537.0,1889.4 L1539.1,1889.4 L1541.2,1889.5 L1543.3,1889.5 L1545.4,1889.5 L1547.5,1889.6 L1549.6,1889.6 L1551.7,1889.6 L1553.8,1889.6 L1555.9,1889.7 L1558.0,1889.7 L1560.1,1889.7 L1562.2,1889.7 L1564.3,1889.8 L1566.4,1889.8 L1568.5,1889.8 L1570.6,1889.8 L1572.7,1889.8 L1574.8,1889.9 L1577.0,1889.9 L1579.1,1889.9 L1581.2,1889.9 L1583.3,1889.9 L1585.4,1889.9 L1587.5,1890.0 L1589.6,1890.0 L1591.7,1890.0 L1593.8,1890.0 L1595.9,1890.0 L1598.0,1890.0 L1600.1,1890.0 L1602.2,1890.1 L1604.3,1890.1 L1606.4,1890.1 L1608.5,1890.1" stroke="#123d14" stroke-width="3"/>
<path d="M1030.1,1882.3 L1032.7,1882.3 L1035.4,1882.3 L1038.0,1882.3 L1040.6,1882.3 L1043.2,1882.3 L1045.9,1882.3 L1048.5,1882.3 L1051.1,1882.3 L1053.8,1882.3 L1056.4,1882.3 L1059.0,1882.3 L1061.6,1882.3 L1064.3,1882.3 L1066.9,1882.3 L1069.5,1882.3 L1072.2,1882.3 L1074.8,1882.3 L1077.4,1882.3 L1080.1,1882.3 L1082.7,1882.3 L1085.3,1882.3 L1087.9,1882.3 L1090.6,1882.3 L1093.2,1882.3 L1095.8,1882.3 L1098.5,1882.3 L1101.1,1882.3 L1103.7,1882.3 L1106.3,1882.3 L1109.0,1882.3 L1111.6,1882.3 L1114.2,1882.3 L1116.9,1882.3 L1119.5,1882.3 L1122.1,1882.3 L1124.7,1882.3 L1127.4,1882.3 L1130.0,1882.3 L1132.6,1882.3 L1135.3,1882.3 L1137.9,1882.3 L1140.5,1882.3 L1143.2,1882.3 L1145.8,1882.3 L1148.4,1882.3 L1151.0,1882.3 L1153.7,1882.3 L1156.3,1882.3 L1158.9,1882.3 L1161.6,1882.3 L1164.2,1882.3 L1166.8,1882.3 L1169.4,1882.3 L1172.1,1882.3 L1174.7,1882.3 L1177.3,1882.3 L1180.0,1882.3 L1182.6,1882.3 L1185.2,1882.3 L1187.8,1882.3 L1190.5,1882.3 L1193.1,1882.3 L1195.7,1882.3 L1198.4,1882.3 L1201.0,1882.3 L1203.6,1882.3 L1206.2,1882.3 L1208.9,1882.3 L1211.5,1882.3 L1214.1,1882.3 L1216.8,1882.3 L1219.4,1882.3 L1222.0,1882.3 L1224.7,1882.3 L1227.3,1882.3 L1229.9,1882.3 L1232.5,1882.3 L1235.2,1882.3 L1237.8,1882.3 L1240.4,1882.3 L1243.1,1882.3 L1245.7,1882.3 L1248.3,1882.3 L1250.9,1882.3 L1253.6,1882.3 L1256.2,1882.3 L1258.8,1882.3 L1261.5,1882.3 L1264.1,1882.3 L1266.7,1882.3 L1269.3,1882.4 L1272.0,1882.4 L1274.6,1882.4 L1277.2,1882.4 L1279.9,1882.4 L1282.5,1882.4 L1285.1,1882.4 L1287.8,1882.4 L1290.4,1882.4 L1293.0,1882.5 L1295.6,1882.5 L1298.3,1882.5 L1300.9,1882.5 L1303.5,1882.6 L1306.2,1882.6 L1308.8,1882.6 L1311.4,1882.7 L1314.0,1882.7 L1316.7,1882.8 L1319.3,1882.8 L1321.9,1882.9 L1324.6,1882.9 L1327.2,1883.0 L1329.8,1883.1 L1332.4,1883.2 L1335.1,1883.3 L1337.7,1883.4 L1340.3,1883.5 L1343.0,1883.6 L1345.6,1883.8 L1348.2,1883.9 L1350.8,1884.1 L1353.5,1884.3 L1356.1,1884.4 L1358.7,1884.6 L1361.4,1884.9 L1364.0,1885.1 L1366.6,1885.3 L1369.3,1885.5 L1371.9,1885.8 L1374.5,1886.0 L1377.1,1886.3 L1379.8,1886.5 L1382.4,1886.8 L1385.0,1887.0 L1387.7,1887.3 L1390.3,1887.5 L1392.9,1887.8 L1395.5,1888.0 L1398.2,1888.2 L1400.8,1888.4 L1403.4,1888.6 L1406.1,1888.8 L1408.7,1889.0 L1411.3,1889.2 L1413.9,1889.3 L1416.6,1889.4 L1419.2,1889.6 L1421.8,1889.7 L1424.5,1889.8 L1427.1,1889.9 L1429.7,1890.0 L1432.4,1890.1 L1435.0,1890.2 L1437.6,1890.2 L1440.2,1890.3 L1442.9,1890.3 L1445.5,1890.4 L1448.1,1890.4 L1450.8,1890.5 L1453.4,1890.5 L1456.0,1890.5 L1458.6,1890.6 L1461.3,1890.6 L1463.9,1890.6 L1466.5,1890.6 L1469.2,1890.7 L1471.8,1890.7 L1474.4,1890.7 L1477.0,1890.7 L1479.7,1890.7 L1482.3,1890.7 L1484.9,1890.7 L1487.6,1890.7 L1490.2,1890.7 L1492.8,1890.7 L1495.4,1890.8 L1498.1,1890.8 L1500.7,1890.8 L1503.3,1890.8 L1506.0,1890.8 L1508.6,1890.8 L1511.2,1890.8 L1513.9,1890.8 L1516.5,1890.8 L1519.1,1890.8 L1521.7,1890.8 L1524.4,1890.8 L1527.0,1890.8 L1529.6,1890.8 L1532.3,1890.8 L1534.9,1890.8 L1537.5,1890.8 L1540.1,1890.8 L1542.8,1890.8 L1545.4,1890.8 L1548.0,1890.8 L1550.7,1890.8 L1553.3,1890.8 L1555.9,1890.8 L1558.5,1890.8 L1561.2,1890.8 L1563.8,1890.8 L1566.4,1890.8 L1569.1,1890.8 L1571.7,1890.8 L1574.3,1890.8 L1577.0,1890.8 L1579.6,1890.8 L1582.2,1890.8 L1584.8,1890.8 L1587.5,1890.8 L1590.1,1890.8 L1592.7,1890.8 L1595.4,1890.8 L1598.0,1890.8 L1600.6,1890.8 L1603.2,1890.8 L1605.9,1890.8 L1608.5,1890.8" stroke="#555" stroke-width="3"/>
<path d="M1030.5,1833.5 L1032.5,1833.4 L1035.1,1833.4 L1038.2,1833.3 L1041.7,1833.2 L1045.4,1833.1 L1049.2,1833.0 L1053.1,1832.9 L1057.0,1832.7 L1060.6,1832.5 L1063.9,1832.3 L1067.0,1832.0 L1070.2,1831.7 L1073.3,1831.4 L1076.4,1831.0 L1079.4,1830.6 L1082.3,1830.2 L1085.2,1829.8 L1088.0,1829.3 L1090.6,1828.9 L1093.1,1828.4 L1095.4,1827.9 L1097.5,1827.3 L1099.3,1826.7 L1101.1,1826.0 L1102.8,1825.4 L1104.5,1824.7 L1106.3,1824.2 L1108.1,1823.7 L1110.2,1823.3 L1112.5,1823.0 L1115.1,1822.9 L1117.9,1822.9 L1120.8,1822.9 L1123.9,1823.1 L1127.1,1823.3 L1130.2,1823.5 L1133.3,1823.8 L1136.3,1824.1 L1139.1,1824.3 L1141.7,1824.5 L1144.0,1824.7 L1146.2,1824.8 L1148.3,1825.0 L1150.2,1825.1 L1152.1,1825.3 L1153.9,1825.5 L1155.7,1825.7 L1157.5,1825.9 L1159.3,1826.2 L1161.2,1826.5 L1163.1,1826.9 L1165.1,1827.4 L1167.0,1828.1 L1169.0,1828.7 L1170.9,1829.4 L1172.8,1830.0 L1174.8,1830.5 L1176.7,1830.9 L1178.7,1831.1 L1180.6,1831.0 L1182.5,1830.7 L1184.5,1830.2 L1186.4,1829.5 L1188.4,1828.7 L1190.3,1827.8 L1192.3,1826.8 L1194.2,1825.8 L1196.2,1824.7 L1198.1,1823.6 L1200.1,1822.6 L1202.1,1821.6 L1204.0,1820.6 L1206.0,1819.6 L1207.9,1818.5 L1209.9,1817.4 L1211.8,1816.3 L1213.8,1815.1 L1215.7,1813.8 L1217.7,1812.4 L1219.6,1810.9 L1221.5,1809.3 L1223.5,1807.5 L1225.4,1805.6 L1227.4,1803.6 L1229.3,1801.5 L1231.2,1799.4 L1233.2,1797.3 L1235.1,1795.3 L1237.1,1793.3 L1239.0,1791.4 L1241.0,1789.5 L1243.1,1787.7 L1245.3,1785.8 L1247.5,1783.9 L1249.6,1782.1 L1251.7,1780.3 L1253.7,1778.5 L1255.5,1776.9 L1257.1,1775.3 L1258.5,1773.9 L1259.6,1772.5 L1260.5,1771.2 L1261.1,1769.9 L1261.6,1768.7 L1262.0,1767.6 L1262.4,1766.6 L1262.7,1765.7 L1263.1,1765.0 L1263.6,1764.4 L1264.3,1764.0 L1265.1,1763.9 L1266.0,1764.0 L1266.9,1764.4 L1267.9,1765.0 L1268.9,1765.6 L1269.9,1766.3 L1271.0,1766.9 L1272.0,1767.5 L1273.0,1767.9 L1274.0,1768.0 L1275.0,1768.0 L1275.9,1767.9 L1276.8,1767.7 L1277.7,1767.5 L1278.6,1767.2 L1279.5,1766.8 L1280.5,1766.3 L1281.5,1765.7 L1282.6,1765.0 L1283.7,1764.2 L1284.9,1763.3 L1286.2,1762.2 L1287.6,1761.0 L1289.0,1759.7 L1290.4,1758.3 L1291.9,1756.8 L1293.3,1755.3 L1294.7,1753.7 L1296.1,1752.2 L1297.4,1750.6 L1298.7,1749.1 L1300.0,1747.6 L1301.3,1746.1 L1302.6,1744.6 L1303.8,1743.0 L1305.0,1741.3 L1306.1,1739.5 L1307.2,1737.6 L1308.2,1735.4 L1309.0,1733.0 L1309.7,1730.3 L1310.3,1727.4 L1310.7,1724.3 L1311.0,1721.0 L1311.3,1717.6 L1311.6,1714.1 L1311.9,1710.5 L1312.2,1707.0 L1312.5,1703.4 L1313.0,1700.0 L1313.5,1696.6 L1314.1,1693.2 L1314.7,1689.8 L1315.3,1686.3 L1316.0,1682.9 L1316.6,1679.4 L1317.3,1675.9 L1317.9,1672.3 L1318.5,1668.7 L1319.1,1665.1 L1319.7,1661.5 L1320.2,1657.9 L1320.7,1654.3 L1321.2,1650.7 L1321.7,1647.1 L1322.2,1643.3 L1322.7,1639.5 L1323.2,1635.5 L1323.8,1631.3 L1324.3,1626.9 L1324.9,1622.3 L1325.5,1617.4 L1326.1,1612.3 L1326.7,1607.1 L1327.3,1601.8 L1327.9,1596.4 L1328.5,1590.9 L1329.1,1585.5 L1329.7,1580.2 L1330.3,1574.9 L1330.9,1569.6 L1331.4,1564.3 L1332.0,1558.9 L1332.6,1553.5 L1333.1,1548.1 L1333.7,1542.8 L1334.2,1537.5 L1334.7,1532.4 L1335.2,1527.5 L1335.6,1522.8 L1336.0,1518.3 L1336.4,1513.9 L1336.7,1509.7 L1337.0,1505.7 L1337.4,1501.7 L1337.7,1497.8 L1338.0,1494.0 L1338.3,1490.3 L1338.6,1486.5 L1339.0,1482.8 L1339.4,1479.1 L1339.8,1475.5 L1340.2,1472.0 L1340.6,1468.5 L1341.0,1465.1 L1341.5,1461.7 L1341.9,1458.3 L1342.4,1455.0 L1342.9,1451.5 L1343.4,1448.1 L1343.9,1444.6 L1344.5,1441.0 L1345.0,1437.4 L1345.6,1433.8 L1346.1,1430.2 L1346.7,1426.6 L1347.4,1423.1 L1348.0,1419.7 L1348.7,1416.5 L1349.4,1413.4 L1350.2,1410.3 L1351.0,1407.1 L1351.9,1403.8 L1352.8,1400.5 L1353.7,1397.5 L1354.6,1394.7 L1355.5,1392.2 L1356.4,1390.2 L1357.3,1388.8 L1358.1,1388.0 L1358.9,1387.9 L1359.6,1388.4 L1360.4,1389.5 L1361.1,1390.9 L1361.8,1392.8 L1362.5,1394.9 L1363.2,1397.3 L1363.8,1399.8 L1364.5,1402.2 L1365.1,1404.7 L1365.7,1407.2 L1366.3,1409.9 L1366.8,1412.8 L1367.4,1415.8 L1367.9,1419.0 L1368.4,1422.3 L1368.9,1425.6 L1369.3,1429.1 L1369.8,1432.5 L1370.3,1436.0 L1370.8,1439.5 L1371.2,1443.0 L1371.7,1446.5 L1372.1,1450.1 L1372.5,1453.8 L1372.9,1457.6 L1373.3,1461.5 L1373.7,1465.6 L1374.2,1469.8 L1374.6,1474.2 L1375.0,1478.9 L1375.5,1483.9 L1375.9,1489.1 L1376.3,1494.5 L1376.7,1499.9 L1377.2,1505.4 L1377.6,1510.9 L1378.1,1516.2 L1378.5,1521.4 L1379.0,1526.3 L1379.5,1531.0 L1380.0,1535.5 L1380.5,1540.0 L1381.0,1544.3 L1381.6,1548.5 L1382.1,1552.8 L1382.6,1557.0 L1383.1,1561.2 L1383.7,1565.4 L1384.2,1569.7 L1384.7,1574.0 L1385.2,1578.2 L1385.8,1582.4 L1386.3,1586.6 L1386.8,1590.9 L1387.3,1595.1 L1387.8,1599.4 L1388.4,1603.9 L1388.9,1608.4 L1389.4,1613.1 L1389.9,1618.0 L1390.4,1623.1 L1391.0,1628.3 L1391.5,1633.7 L1392.0,1639.1 L1392.5,1644.5 L1393.0,1649.9 L1393.5,1655.1 L1394.1,1660.2 L1394.6,1665.1 L1395.1,1669.9 L1395.7,1674.6 L1396.2,1679.2 L1396.8,1683.8 L1397.3,1688.3 L1397.9,1692.7 L1398.4,1696.9 L1398.9,1701.0 L1399.5,1704.9 L1400.0,1708.6 L1400.5,1712.0 L1401.0,1715.2 L1401.5,1718.2 L1402.0,1720.9 L1402.4,1723.6 L1402.9,1726.2 L1403.4,1728.8 L1403.9,1731.4 L1404.4,1734.2 L1405.0,1737.1 L1405.6,1740.2 L1406.2,1743.3 L1406.7,1746.5 L1407.4,1749.8 L1408.0,1753.0 L1408.6,1756.3 L1409.3,1759.5 L1410.0,1762.6 L1410.7,1765.7 L1411.4,1768.6 L1412.2,1771.4 L1412.9,1774.2 L1413.7,1776.9 L1414.5,1779.5 L1415.4,1782.1 L1416.3,1784.6 L1417.1,1787.1 L1418.1,1789.5 L1419.0,1791.9 L1420.0,1794.3 L1421.0,1796.6 L1422.1,1799.0 L1423.2,1801.3 L1424.3,1803.5 L1425.4,1805.7 L1426.6,1807.9 L1427.8,1809.9 L1429.0,1811.9 L1430.2,1813.9 L1431.4,1815.7 L1432.6,1817.4 L1433.9,1819.1 L1435.1,1820.7 L1436.4,1822.3 L1437.7,1823.7 L1439.0,1825.1 L1440.3,1826.5 L1441.6,1827.7 L1442.9,1828.9 L1444.3,1830.0 L1445.6,1831.0 L1446.7,1831.9 L1447.8,1832.8 L1448.9,1833.6 L1450.0,1834.3 L1451.3,1834.9 L1452.7,1835.5 L1454.3,1836.1 L1456.3,1836.6 L1458.6,1837.1 L1461.3,1837.6 L1464.3,1838.0 L1467.5,1838.3 L1471.0,1838.6 L1474.7,1838.9 L1478.5,1839.1 L1482.4,1839.4 L1486.4,1839.6 L1490.3,1839.8 L1494.3,1840.0 L1498.3,1840.2 L1502.4,1840.4 L1506.6,1840.6 L1510.9,1840.8 L1515.2,1841.0 L1519.6,1841.1 L1524.0,1841.2 L1528.4,1841.3 L1532.8,1841.4 L1537.1,1841.4 L1541.5,1841.4 L1545.9,1841.2 L1550.4,1841.1 L1554.9,1840.8 L1559.4,1840.6 L1563.9,1840.4 L1568.2,1840.2 L1572.3,1840.0 L1576.3,1840.0 L1580.0,1840.0 L1583.6,1840.1 L1587.1,1840.4 L1590.5,1840.6 L1593.8,1841.0 L1597.0,1841.4 L1599.9,1841.7 L1602.6,1842.1 L1604.9,1842.4 L1607.0,1842.7 L1608.6,1842.9" stroke="#000" stroke-width="3.4"/>
<g stroke="#111" stroke-width="2.4"><circle cx="1030.1" cy="1829.1" r="8.6" /><circle cx="1035.4" cy="1834.7" r="8.6" /><circle cx="1040.6" cy="1836.8" r="8.6" /><circle cx="1045.9" cy="1831.3" r="8.6" /><circle cx="1051.1" cy="1828.2" r="8.6" /><circle cx="1056.4" cy="1832.5" r="8.6" /><circle cx="1061.6" cy="1834.2" r="8.6" /><circle cx="1066.9" cy="1836.0" r="8.6" /><circle cx="1072.2" cy="1827.1" r="8.6" /><circle cx="1077.4" cy="1826.2" r="8.6" /><circle cx="1082.7" cy="1832.7" r="8.6" /><circle cx="1087.9" cy="1831.0" r="8.6" /><circle cx="1093.2" cy="1833.9" r="8.6" /><circle cx="1098.5" cy="1830.5" r="8.6" /><circle cx="1103.7" cy="1824.7" r="8.6" /><circle cx="1109.0" cy="1822.5" r="8.6" /><circle cx="1114.2" cy="1832.2" r="8.6" /><circle cx="1119.5" cy="1821.8" r="8.6" /><circle cx="1124.7" cy="1820.3" r="8.6" /><circle cx="1130.0" cy="1819.4" r="8.6" /><circle cx="1135.3" cy="1824.3" r="8.6" /><circle cx="1140.5" cy="1824.9" r="8.6" /><circle cx="1145.8" cy="1823.6" r="8.6" /><circle cx="1151.0" cy="1825.0" r="8.6" /><circle cx="1156.3" cy="1826.8" r="8.6" /><circle cx="1161.6" cy="1829.1" r="8.6" /><circle cx="1166.8" cy="1832.0" r="8.6" /><circle cx="1172.1" cy="1830.5" r="8.6" /><circle cx="1177.3" cy="1824.5" r="8.6" /><circle cx="1182.6" cy="1833.2" r="8.6" /><circle cx="1187.8" cy="1823.8" r="8.6" /><circle cx="1193.1" cy="1825.8" r="8.6" /><circle cx="1198.4" cy="1818.2" r="8.6" /><circle cx="1203.6" cy="1820.8" r="8.6" /><circle cx="1208.9" cy="1815.2" r="8.6" /><circle cx="1214.1" cy="1815.6" r="8.6" /><circle cx="1219.4" cy="1822.9" r="8.6" /><circle cx="1224.7" cy="1806.2" r="8.6" /><circle cx="1229.9" cy="1803.9" r="8.6" /><circle cx="1235.2" cy="1790.5" r="8.6" /><circle cx="1240.4" cy="1789.0" r="8.6" /><circle cx="1245.7" cy="1787.8" r="8.6" /><circle cx="1250.9" cy="1780.6" r="8.6" /><circle cx="1256.2" cy="1777.5" r="8.6" /><circle cx="1261.5" cy="1769.5" r="8.6" /><circle cx="1266.7" cy="1760.7" r="8.6" /><circle cx="1272.0" cy="1769.5" r="8.6" /><circle cx="1277.2" cy="1764.7" r="8.6" /><circle cx="1282.5" cy="1771.8" r="8.6" /><circle cx="1287.8" cy="1759.0" r="8.6" /><circle cx="1293.0" cy="1758.1" r="8.6" /><circle cx="1298.3" cy="1749.6" r="8.6" /><circle cx="1303.5" cy="1746.8" r="8.6" /><circle cx="1308.8" cy="1731.5" r="8.6" /><circle cx="1314.0" cy="1697.1" r="8.6" /><circle cx="1319.3" cy="1663.3" r="8.6" /><circle cx="1324.6" cy="1629.4" r="8.6" /><circle cx="1329.8" cy="1581.6" r="8.6" /><circle cx="1335.1" cy="1528.8" r="8.6" /><circle cx="1340.3" cy="1468.0" r="8.6" /><circle cx="1345.6" cy="1436.3" r="8.6" /><circle cx="1350.8" cy="1409.3" r="8.6" /><circle cx="1356.1" cy="1396.8" r="8.6" /><circle cx="1361.4" cy="1390.2" r="8.6" /><circle cx="1366.6" cy="1413.7" r="8.6" /><circle cx="1371.9" cy="1450.3" r="8.6" /><circle cx="1377.1" cy="1506.0" r="8.6" /><circle cx="1382.4" cy="1556.0" r="8.6" /><circle cx="1387.7" cy="1598.6" r="8.6" /><circle cx="1392.9" cy="1646.6" r="8.6" /><circle cx="1398.2" cy="1691.5" r="8.6" /><circle cx="1403.4" cy="1727.5" r="8.6" /><circle cx="1408.7" cy="1758.8" r="8.6" /><circle cx="1413.9" cy="1783.0" r="8.6" /><circle cx="1419.2" cy="1795.9" r="8.6" /><circle cx="1424.5" cy="1807.6" r="8.6" /><circle cx="1429.7" cy="1815.9" r="8.6" /><circle cx="1435.0" cy="1823.1" r="8.6" /><circle cx="1440.2" cy="1827.1" r="8.6" /><circle cx="1445.5" cy="1833.7" r="8.6" /><circle cx="1450.8" cy="1841.0" r="8.6" /><circle cx="1456.0" cy="1835.3" r="8.6" /><circle cx="1461.3" cy="1835.1" r="8.6" /><circle cx="1466.5" cy="1845.3" r="8.6" /><circle cx="1471.8" cy="1839.6" r="8.6" /><circle cx="1477.0" cy="1842.6" r="8.6" /><circle cx="1482.3" cy="1842.5" r="8.6" /><circle cx="1487.6" cy="1835.6" r="8.6" /><circle cx="1492.8" cy="1848.7" r="8.6" /><circle cx="1498.1" cy="1846.6" r="8.6" /><circle cx="1503.3" cy="1841.1" r="8.6" /><circle cx="1508.6" cy="1843.4" r="8.6" /><circle cx="1513.9" cy="1841.4" r="8.6" /><circle cx="1519.1" cy="1837.9" r="8.6" /><circle cx="1524.4" cy="1840.8" r="8.6" /><circle cx="1529.6" cy="1842.7" r="8.6" /><circle cx="1534.9" cy="1845.4" r="8.6" /><circle cx="1540.1" cy="1843.9" r="8.6" /><circle cx="1545.4" cy="1841.5" r="8.6" /><circle cx="1550.7" cy="1845.9" r="8.6" /><circle cx="1555.9" cy="1838.0" r="8.6" /><circle cx="1561.2" cy="1843.4" r="8.6" /><circle cx="1566.4" cy="1844.3" r="8.6" /><circle cx="1571.7" cy="1839.0" r="8.6" /><circle cx="1577.0" cy="1833.5" r="8.6" /><circle cx="1582.2" cy="1836.8" r="8.6" /><circle cx="1587.5" cy="1841.2" r="8.6" /><circle cx="1592.7" cy="1842.8" r="8.6" /><circle cx="1598.0" cy="1847.1" r="8.6" /><circle cx="1603.2" cy="1838.6" r="8.6" /><circle cx="1608.5" cy="1842.9" r="8.6" /><circle cx="1032.7" cy="1835.8" r="8.6" /><circle cx="1038.0" cy="1832.7" r="8.6" /><circle cx="1043.2" cy="1824.7" r="8.6" /><circle cx="1048.5" cy="1836.0" r="8.6" /><circle cx="1053.8" cy="1841.2" r="8.6" /><circle cx="1059.0" cy="1836.2" r="8.6" /><circle cx="1064.3" cy="1829.0" r="8.6" /><circle cx="1069.5" cy="1830.3" r="8.6" /><circle cx="1074.8" cy="1832.0" r="8.6" /><circle cx="1080.1" cy="1839.5" r="8.6" /><circle cx="1085.3" cy="1832.0" r="8.6" /><circle cx="1090.6" cy="1829.3" r="8.6" /><circle cx="1095.8" cy="1833.4" r="8.6" /><circle cx="1101.1" cy="1825.7" r="8.6" /><circle cx="1106.3" cy="1830.8" r="8.6" /><circle cx="1111.6" cy="1820.6" r="8.6" /><circle cx="1116.9" cy="1821.1" r="8.6" /><circle cx="1122.1" cy="1825.6" r="8.6" /><circle cx="1127.4" cy="1828.4" r="8.6" /><circle cx="1132.6" cy="1826.1" r="8.6" /><circle cx="1137.9" cy="1825.3" r="8.6" /><circle cx="1143.2" cy="1818.0" r="8.6" /><circle cx="1148.4" cy="1822.4" r="8.6" /><circle cx="1153.7" cy="1823.3" r="8.6" /><circle cx="1158.9" cy="1824.2" r="8.6" /><circle cx="1164.2" cy="1829.3" r="8.6" /><circle cx="1169.4" cy="1827.7" r="8.6" /><circle cx="1174.7" cy="1833.3" r="8.6" /><circle cx="1180.0" cy="1831.3" r="8.6" /><circle cx="1185.2" cy="1828.8" r="8.6" /><circle cx="1190.5" cy="1828.2" r="8.6" /><circle cx="1195.7" cy="1826.5" r="8.6" /><circle cx="1201.0" cy="1825.2" r="8.6" /><circle cx="1206.2" cy="1817.7" r="8.6" /><circle cx="1211.5" cy="1815.6" r="8.6" /><circle cx="1216.8" cy="1808.1" r="8.6" /><circle cx="1222.0" cy="1814.6" r="8.6" /><circle cx="1227.3" cy="1808.9" r="8.6" /><circle cx="1232.5" cy="1797.4" r="8.6" /><circle cx="1237.8" cy="1790.8" r="8.6" /><circle cx="1243.1" cy="1783.3" r="8.6" /><circle cx="1248.3" cy="1783.8" r="8.6" /><circle cx="1253.6" cy="1779.3" r="8.6" /><circle cx="1258.8" cy="1781.4" r="8.6" /><circle cx="1264.1" cy="1765.0" r="8.6" /><circle cx="1269.3" cy="1763.1" r="8.6" /><circle cx="1274.6" cy="1759.2" r="8.6" /><circle cx="1279.9" cy="1771.7" r="8.6" /><circle cx="1285.1" cy="1763.8" r="8.6" /><circle cx="1290.4" cy="1752.5" r="8.6" /><circle cx="1432.4" cy="1817.7" r="8.6" /><circle cx="1437.6" cy="1817.9" r="8.6" /><circle cx="1442.9" cy="1841.3" r="8.6" /><circle cx="1448.1" cy="1837.0" r="8.6" /><circle cx="1453.4" cy="1837.8" r="8.6" /><circle cx="1458.6" cy="1836.5" r="8.6" /><circle cx="1463.9" cy="1830.2" r="8.6" /><circle cx="1469.2" cy="1838.0" r="8.6" /><circle cx="1474.4" cy="1833.3" r="8.6" /><circle cx="1479.7" cy="1841.4" r="8.6" /><circle cx="1484.9" cy="1831.8" r="8.6" /><circle cx="1490.2" cy="1836.5" r="8.6" /><circle cx="1495.4" cy="1844.5" r="8.6" /><circle cx="1500.7" cy="1846.3" r="8.6" /><circle cx="1506.0" cy="1836.3" r="8.6" /><circle cx="1511.2" cy="1835.3" r="8.6" /><circle cx="1516.5" cy="1844.2" r="8.6" /><circle cx="1521.7" cy="1844.2" r="8.6" /><circle cx="1527.0" cy="1837.7" r="8.6" /><circle cx="1532.3" cy="1838.9" r="8.6" /><circle cx="1537.5" cy="1838.9" r="8.6" /><circle cx="1542.8" cy="1837.0" r="8.6" /><circle cx="1548.0" cy="1838.7" r="8.6" /><circle cx="1553.3" cy="1845.4" r="8.6" /><circle cx="1558.5" cy="1843.1" r="8.6" /><circle cx="1563.8" cy="1847.8" r="8.6" /><circle cx="1569.1" cy="1839.9" r="8.6" /><circle cx="1574.3" cy="1839.5" r="8.6" /><circle cx="1579.6" cy="1836.5" r="8.6" /><circle cx="1584.8" cy="1839.8" r="8.6" /><circle cx="1590.1" cy="1835.9" r="8.6" /><circle cx="1595.4" cy="1834.8" r="8.6" /><circle cx="1600.6" cy="1844.3" r="8.6" /><circle cx="1605.9" cy="1847.7" r="8.6" /></g>
</g>
<rect x="62.9" y="3.0" width="868.3000000000001" height="552.2" fill="none" stroke="#1a1a1a" stroke-width="2.2" stroke-linejoin="round"/>
<rect x="1015.9" y="8.1" width="580.6999999999999" height="557.9" fill="none" stroke="#000" stroke-width="2.4" stroke-linejoin="round"/>
<rect x="57.7" y="671.0" width="870.8" height="552.0" fill="none" stroke="#000" stroke-width="2.8" stroke-linejoin="round"/>
<rect x="1016.8" y="677.2" width="586.8" height="556.5999999999999" fill="none" stroke="#000" stroke-width="2.8" stroke-linejoin="round"/>
<rect x="69.4" y="1359.1" width="872.0" height="546.3000000000002" fill="none" stroke="#111" stroke-width="2.6" stroke-linejoin="round"/>
<rect x="1030.1" y="1364.2" width="578.4000000000001" height="556.3" fill="none" stroke="#4a4a4a" stroke-width="3.0" stroke-linejoin="round"/>
<line x1="207.62" y1="555.2" x2="207.62" y2="538.0" stroke="#1a1a1a" stroke-width="2.0"/><line x1="352.33" y1="555.2" x2="352.33" y2="538.0" stroke="#1a1a1a" stroke-width="2.0"/><line x1="497.05" y1="555.2" x2="497.05" y2="538.0" stroke="#1a1a1a" stroke-width="2.0"/><line x1="641.77" y1="555.2" x2="641.77" y2="538.0" stroke="#1a1a1a" stroke-width="2.0"/><line x1="786.48" y1="555.2" x2="786.48" y2="538.0" stroke="#1a1a1a" stroke-width="2.0"/><line x1="135.26" y1="555.2" x2="135.26" y2="545.6" stroke="#1a1a1a" stroke-width="2.0"/><line x1="279.98" y1="555.2" x2="279.98" y2="545.6" stroke="#1a1a1a" stroke-width="2.0"/><line x1="424.69" y1="555.2" x2="424.69" y2="545.6" stroke="#1a1a1a" stroke-width="2.0"/><line x1="569.41" y1="555.2" x2="569.41" y2="545.6" stroke="#1a1a1a" stroke-width="2.0"/><line x1="714.13" y1="555.2" x2="714.13" y2="545.6" stroke="#1a1a1a" stroke-width="2.0"/><line x1="858.84" y1="555.2" x2="858.84" y2="545.6" stroke="#1a1a1a" stroke-width="2.0"/>
<line x1="1080.42" y1="566.0" x2="1080.42" y2="549.3" stroke="#000" stroke-width="2.0"/><line x1="1209.47" y1="566.0" x2="1209.47" y2="549.3" stroke="#000" stroke-width="2.0"/><line x1="1338.51" y1="566.0" x2="1338.51" y2="549.3" stroke="#000" stroke-width="2.0"/><line x1="1467.56" y1="566.0" x2="1467.56" y2="549.3" stroke="#000" stroke-width="2.0"/><line x1="1144.94" y1="566.0" x2="1144.94" y2="557.6" stroke="#000" stroke-width="2.0"/><line x1="1273.99" y1="566.0" x2="1273.99" y2="557.6" stroke="#000" stroke-width="2.0"/><line x1="1403.03" y1="566.0" x2="1403.03" y2="557.6" stroke="#000" stroke-width="2.0"/><line x1="1532.08" y1="566.0" x2="1532.08" y2="557.6" stroke="#000" stroke-width="2.0"/>
<line x1="135.80" y1="1223.0" x2="135.80" y2="1206.6" stroke="#000" stroke-width="2.0"/><line x1="294.34" y1="1223.0" x2="294.34" y2="1206.6" stroke="#000" stroke-width="2.0"/><line x1="452.88" y1="1223.0" x2="452.88" y2="1206.6" stroke="#000" stroke-width="2.0"/><line x1="611.42" y1="1223.0" x2="611.42" y2="1206.6" stroke="#000" stroke-width="2.0"/><line x1="769.96" y1="1223.0" x2="769.96" y2="1206.6" stroke="#000" stroke-width="2.0"/><line x1="215.07" y1="1223.0" x2="215.07" y2="1215.4" stroke="#000" stroke-width="2.0"/><line x1="373.61" y1="1223.0" x2="373.61" y2="1215.4" stroke="#000" stroke-width="2.0"/><line x1="532.15" y1="1223.0" x2="532.15" y2="1215.4" stroke="#000" stroke-width="2.0"/><line x1="690.69" y1="1223.0" x2="690.69" y2="1215.4" stroke="#000" stroke-width="2.0"/><line x1="849.23" y1="1223.0" x2="849.23" y2="1215.4" stroke="#000" stroke-width="2.0"/>
<line x1="1134.16" y1="1233.8" x2="1134.16" y2="1217.2" stroke="#555" stroke-width="2.0"/><line x1="1251.52" y1="1233.8" x2="1251.52" y2="1217.2" stroke="#555" stroke-width="2.0"/><line x1="1368.88" y1="1233.8" x2="1368.88" y2="1217.2" stroke="#555" stroke-width="2.0"/><line x1="1486.24" y1="1233.8" x2="1486.24" y2="1217.2" stroke="#555" stroke-width="2.0"/><line x1="1075.48" y1="1233.8" x2="1075.48" y2="1225.8" stroke="#555" stroke-width="2.0"/><line x1="1192.84" y1="1233.8" x2="1192.84" y2="1225.8" stroke="#555" stroke-width="2.0"/><line x1="1310.20" y1="1233.8" x2="1310.20" y2="1225.8" stroke="#555" stroke-width="2.0"/><line x1="1427.56" y1="1233.8" x2="1427.56" y2="1225.8" stroke="#555" stroke-width="2.0"/><line x1="1544.92" y1="1233.8" x2="1544.92" y2="1225.8" stroke="#555" stroke-width="2.0"/>
<line x1="214.73" y1="1905.4" x2="214.73" y2="1889.3000000000002" stroke="#111" stroke-width="2.0"/><line x1="360.07" y1="1905.4" x2="360.07" y2="1889.3000000000002" stroke="#111" stroke-width="2.0"/><line x1="505.40" y1="1905.4" x2="505.40" y2="1889.3000000000002" stroke="#111" stroke-width="2.0"/><line x1="650.73" y1="1905.4" x2="650.73" y2="1889.3000000000002" stroke="#111" stroke-width="2.0"/><line x1="796.07" y1="1905.4" x2="796.07" y2="1889.3000000000002" stroke="#111" stroke-width="2.0"/><line x1="142.07" y1="1905.4" x2="142.07" y2="1897.6000000000001" stroke="#111" stroke-width="2.0"/><line x1="287.40" y1="1905.4" x2="287.40" y2="1897.6000000000001" stroke="#111" stroke-width="2.0"/><line x1="432.73" y1="1905.4" x2="432.73" y2="1897.6000000000001" stroke="#111" stroke-width="2.0"/><line x1="578.07" y1="1905.4" x2="578.07" y2="1897.6000000000001" stroke="#111" stroke-width="2.0"/><line x1="723.40" y1="1905.4" x2="723.40" y2="1897.6000000000001" stroke="#111" stroke-width="2.0"/><line x1="868.73" y1="1905.4" x2="868.73" y2="1897.6000000000001" stroke="#111" stroke-width="2.0"/>
<line x1="1082.68" y1="1920.5" x2="1082.68" y2="1904.1" stroke="#444" stroke-width="2.2"/><line x1="1187.85" y1="1920.5" x2="1187.85" y2="1904.1" stroke="#444" stroke-width="2.2"/><line x1="1293.01" y1="1920.5" x2="1293.01" y2="1904.1" stroke="#444" stroke-width="2.2"/><line x1="1398.17" y1="1920.5" x2="1398.17" y2="1904.1" stroke="#444" stroke-width="2.2"/><line x1="1503.34" y1="1920.5" x2="1503.34" y2="1904.1" stroke="#444" stroke-width="2.2"/><line x1="1135.26" y1="1920.5" x2="1135.26" y2="1912.9" stroke="#444" stroke-width="2.2"/><line x1="1240.43" y1="1920.5" x2="1240.43" y2="1912.9" stroke="#444" stroke-width="2.2"/><line x1="1345.59" y1="1920.5" x2="1345.59" y2="1912.9" stroke="#444" stroke-width="2.2"/><line x1="1450.75" y1="1920.5" x2="1450.75" y2="1912.9" stroke="#444" stroke-width="2.2"/><line x1="1555.92" y1="1920.5" x2="1555.92" y2="1912.9" stroke="#444" stroke-width="2.2"/>
<text x="29.25" y="595.10" font-family='"Liberation Sans", Arial, sans-serif' font-size="32.00" textLength="68.06" lengthAdjust="spacingAndGlyphs" fill="#000" stroke="#000" stroke-width="0.6">1200</text>
<text x="173.97" y="595.10" font-family='"Liberation Sans", Arial, sans-serif' font-size="32.00" textLength="68.06" lengthAdjust="spacingAndGlyphs" fill="#000" stroke="#000" stroke-width="0.6">1000</text>
<text x="327.71" y="595.10" font-family='"Liberation Sans", Arial, sans-serif' font-size="32.00" textLength="51.04" lengthAdjust="spacingAndGlyphs" fill="#000" stroke="#000" stroke-width="0.6">800</text>
<text x="472.35" y="595.10" font-family='"Liberation Sans", Arial, sans-serif' font-size="32.00" textLength="51.04" lengthAdjust="spacingAndGlyphs" fill="#000" stroke="#000" stroke-width="0.6">600</text>
<text x="617.53" y="595.10" font-family='"Liberation Sans", Arial, sans-serif' font-size="32.00" textLength="51.04" lengthAdjust="spacingAndGlyphs" fill="#000" stroke="#000" stroke-width="0.6">400</text>
<text x="761.79" y="595.10" font-family='"Liberation Sans", Arial, sans-serif' font-size="32.00" textLength="51.04" lengthAdjust="spacingAndGlyphs" fill="#000" stroke="#000" stroke-width="0.6">200</text>
<text x="923.63" y="595.10" font-family='"Liberation Sans", Arial, sans-serif' font-size="32.00" textLength="17.01" lengthAdjust="spacingAndGlyphs" fill="#000" stroke="#000" stroke-width="0.6">0</text>
<text x="1050.64" y="609.00" font-family='"Liberation Sans", Arial, sans-serif' font-size="36.00" textLength="59.17" lengthAdjust="spacingAndGlyphs" fill="#000" stroke="#000" stroke-width="0.6">290</text>
<text x="1179.77" y="609.00" font-family='"Liberation Sans", Arial, sans-serif' font-size="36.00" textLength="59.17" lengthAdjust="spacingAndGlyphs" fill="#000" stroke="#000" stroke-width="0.6">288</text>
<text x="1308.81" y="609.00" font-family='"Liberation Sans", Arial, sans-serif' font-size="36.00" textLength="59.17" lengthAdjust="spacingAndGlyphs" fill="#000" stroke="#000" stroke-width="0.6">286</text>
<text x="1437.68" y="609.00" font-family='"Liberation Sans", Arial, sans-serif' font-size="36.00" textLength="59.17" lengthAdjust="spacingAndGlyphs" fill="#000" stroke="#000" stroke-width="0.6">284</text>
<text x="1567.08" y="609.00" font-family='"Liberation Sans", Arial, sans-serif' font-size="36.00" textLength="59.17" lengthAdjust="spacingAndGlyphs" fill="#000" stroke="#000" stroke-width="0.6">282</text>
<text x="99.32" y="1264.60" font-family='"Liberation Sans", Arial, sans-serif' font-size="33.60" textLength="73.63" lengthAdjust="spacingAndGlyphs" fill="#000" stroke="#000" stroke-width="0.6">1000</text>
<text x="267.62" y="1264.60" font-family='"Liberation Sans", Arial, sans-serif' font-size="33.60" textLength="55.22" lengthAdjust="spacingAndGlyphs" fill="#000" stroke="#000" stroke-width="0.6">800</text>
<text x="426.08" y="1264.60" font-family='"Liberation Sans", Arial, sans-serif' font-size="33.60" textLength="55.22" lengthAdjust="spacingAndGlyphs" fill="#000" stroke="#000" stroke-width="0.6">600</text>
<text x="585.12" y="1264.60" font-family='"Liberation Sans", Arial, sans-serif' font-size="33.60" textLength="55.22" lengthAdjust="spacingAndGlyphs" fill="#000" stroke="#000" stroke-width="0.6">400</text>
<text x="743.16" y="1264.60" font-family='"Liberation Sans", Arial, sans-serif' font-size="33.60" textLength="55.22" lengthAdjust="spacingAndGlyphs" fill="#000" stroke="#000" stroke-width="0.6">200</text>
<text x="920.23" y="1264.60" font-family='"Liberation Sans", Arial, sans-serif' font-size="33.60" textLength="18.41" lengthAdjust="spacingAndGlyphs" fill="#000" stroke="#000" stroke-width="0.6">0</text>
<text x="989.17" y="1276.20" font-family='"Liberation Sans", Arial, sans-serif' font-size="35.20" textLength="56.38" lengthAdjust="spacingAndGlyphs" fill="#000" stroke="#000" stroke-width="0.6">292</text>
<text x="1106.27" y="1276.20" font-family='"Liberation Sans", Arial, sans-serif' font-size="35.20" textLength="56.38" lengthAdjust="spacingAndGlyphs" fill="#000" stroke="#000" stroke-width="0.6">290</text>
<text x="1223.72" y="1276.20" font-family='"Liberation Sans", Arial, sans-serif' font-size="35.20" textLength="56.38" lengthAdjust="spacingAndGlyphs" fill="#000" stroke="#000" stroke-width="0.6">288</text>
<text x="1341.08" y="1276.20" font-family='"Liberation Sans", Arial, sans-serif' font-size="35.20" textLength="56.38" lengthAdjust="spacingAndGlyphs" fill="#000" stroke="#000" stroke-width="0.6">286</text>
<text x="1458.27" y="1276.20" font-family='"Liberation Sans", Arial, sans-serif' font-size="35.20" textLength="56.38" lengthAdjust="spacingAndGlyphs" fill="#000" stroke="#000" stroke-width="0.6">284</text>
<text x="1575.97" y="1276.20" font-family='"Liberation Sans", Arial, sans-serif' font-size="35.20" textLength="56.38" lengthAdjust="spacingAndGlyphs" fill="#000" stroke="#000" stroke-width="0.6">282</text>
<text x="33.17" y="1947.40" font-family='"Liberation Sans", Arial, sans-serif' font-size="34.70" textLength="74.11" lengthAdjust="spacingAndGlyphs" fill="#000" stroke="#000" stroke-width="0.6">1200</text>
<text x="178.51" y="1947.40" font-family='"Liberation Sans", Arial, sans-serif' font-size="34.70" textLength="74.11" lengthAdjust="spacingAndGlyphs" fill="#000" stroke="#000" stroke-width="0.6">1000</text>
<text x="333.67" y="1947.40" font-family='"Liberation Sans", Arial, sans-serif' font-size="34.70" textLength="55.58" lengthAdjust="spacingAndGlyphs" fill="#000" stroke="#000" stroke-width="0.6">800</text>
<text x="478.92" y="1947.40" font-family='"Liberation Sans", Arial, sans-serif' font-size="34.70" textLength="55.58" lengthAdjust="spacingAndGlyphs" fill="#000" stroke="#000" stroke-width="0.6">600</text>
<text x="624.75" y="1947.40" font-family='"Liberation Sans", Arial, sans-serif' font-size="34.70" textLength="55.58" lengthAdjust="spacingAndGlyphs" fill="#000" stroke="#000" stroke-width="0.6">400</text>
<text x="769.58" y="1947.40" font-family='"Liberation Sans", Arial, sans-serif' font-size="34.70" textLength="55.58" lengthAdjust="spacingAndGlyphs" fill="#000" stroke="#000" stroke-width="0.6">200</text>
<text x="933.57" y="1947.40" font-family='"Liberation Sans", Arial, sans-serif' font-size="34.70" textLength="18.53" lengthAdjust="spacingAndGlyphs" fill="#000" stroke="#000" stroke-width="0.6">0</text>
<text x="1053.56" y="1963.30" font-family='"Liberation Sans", Arial, sans-serif' font-size="37.30" textLength="59.44" lengthAdjust="spacingAndGlyphs" fill="#000" stroke="#000" stroke-width="0.6">290</text>
<text x="1158.81" y="1963.30" font-family='"Liberation Sans", Arial, sans-serif' font-size="37.30" textLength="59.44" lengthAdjust="spacingAndGlyphs" fill="#000" stroke="#000" stroke-width="0.6">288</text>
<text x="1263.98" y="1963.30" font-family='"Liberation Sans", Arial, sans-serif' font-size="37.30" textLength="59.44" lengthAdjust="spacingAndGlyphs" fill="#000" stroke="#000" stroke-width="0.6">286</text>
<text x="1368.96" y="1963.30" font-family='"Liberation Sans", Arial, sans-serif' font-size="37.30" textLength="59.44" lengthAdjust="spacingAndGlyphs" fill="#000" stroke="#000" stroke-width="0.6">284</text>
<text x="1474.48" y="1963.30" font-family='"Liberation Sans", Arial, sans-serif' font-size="37.30" textLength="59.44" lengthAdjust="spacingAndGlyphs" fill="#000" stroke="#000" stroke-width="0.6">282</text>
<text x="1579.38" y="1963.30" font-family='"Liberation Sans", Arial, sans-serif' font-size="37.30" textLength="59.44" lengthAdjust="spacingAndGlyphs" fill="#000" stroke="#000" stroke-width="0.6">280</text>
<text x="320.84" y="631.60" font-family='"Liberation Sans", Arial, sans-serif' font-size="42.30" textLength="352.87" lengthAdjust="spacingAndGlyphs" fill="#000" stroke="#000" stroke-width="0.6">BindingEnergy (eV)</text>
<text x="1124.93" y="652.00" font-family='"Liberation Sans", Arial, sans-serif' font-size="39.68" textLength="365.81" lengthAdjust="spacingAndGlyphs" fill="#000" stroke="#000" stroke-width="0.6">Binding Energy (eV)</text>
<text x="311.85" y="1308.40" font-family='"Liberation Sans", Arial, sans-serif' font-size="39.83" textLength="364.08" lengthAdjust="spacingAndGlyphs" fill="#000" stroke="#000" stroke-width="0.6">Binding Energy (eV)</text>
<text x="1126.90" y="1319.00" font-family='"Liberation Sans", Arial, sans-serif' font-size="38.08" textLength="369.06" lengthAdjust="spacingAndGlyphs" fill="#000" stroke="#000" stroke-width="0.6">Binding Energy (eV)</text>
<text x="323.73" y="1990.30" font-family='"Liberation Sans", Arial, sans-serif' font-size="38.95" textLength="365.81" lengthAdjust="spacingAndGlyphs" fill="#000" stroke="#000" stroke-width="0.6">Binding Energy (eV)</text>
<text x="1138.15" y="2006.90" font-family='"Liberation Sans", Arial, sans-serif' font-size="39.97" textLength="363.78" lengthAdjust="spacingAndGlyphs" fill="#000" stroke="#000" stroke-width="0.6">Binding Energy (eV)</text>
<text transform="translate(42.50,447.40) rotate(-90)" x="0" y="0" font-family='"Liberation Sans", Arial, sans-serif' font-size="40.69" textLength="340.14" lengthAdjust="spacingAndGlyphs" fill="#000" stroke="#000" stroke-width="0.6">Intensity (arb.units)</text>
<text transform="translate(998.00,455.00) rotate(-90)" x="0" y="0" font-family='"Liberation Sans", Arial, sans-serif' font-size="42.48" textLength="341.49" lengthAdjust="spacingAndGlyphs" fill="#000" stroke="#000" stroke-width="0.6">Intensity (arb. units)</text>
<text transform="translate(39.00,1111.60) rotate(-90)" x="0" y="0" font-family='"Liberation Sans", Arial, sans-serif' font-size="41.79" textLength="331.08" lengthAdjust="spacingAndGlyphs" fill="#000" stroke="#000" stroke-width="0.6">Intensity (arb.units)</text>
<text transform="translate(997.60,1123.18) rotate(-90)" x="0" y="0" font-family='"Liberation Sans", Arial, sans-serif' font-size="41.93" textLength="339.35" lengthAdjust="spacingAndGlyphs" fill="#000" stroke="#000" stroke-width="0.6">Intensity (arb. units)</text>
<text transform="translate(50.80,1798.93) rotate(-90)" x="0" y="0" font-family='"Liberation Sans", Arial, sans-serif' font-size="41.66" textLength="334.87" lengthAdjust="spacingAndGlyphs" fill="#000" stroke="#000" stroke-width="0.6">Intensity (arb. units)</text>
<g clip-path="url(#clipf)"><text transform="translate(1012.20,1814.22) rotate(-90)" x="0" y="0" font-family='"Liberation Sans", Arial, sans-serif' font-size="41.00" textLength="343.93" lengthAdjust="spacingAndGlyphs" fill="#000" stroke="#000" stroke-width="0.6">Intensity (arb. units)</text></g>
<text x="71.70" y="40.90" font-family='"Liberation Sans", Arial, sans-serif' font-size="36.43" textLength="196.11" lengthAdjust="spacingAndGlyphs" fill="#000" stroke="#000" stroke-width="0.6">Survey scan</text>
<text x="66.70" y="708.80" font-family='"Liberation Sans", Arial, sans-serif' font-size="35.57" textLength="196.11" lengthAdjust="spacingAndGlyphs" fill="#000" stroke="#000" stroke-width="0.6">Survey scan</text>
<text x="78.39" y="1395.80" font-family='"Liberation Sans", Arial, sans-serif' font-size="34.57" textLength="197.03" lengthAdjust="spacingAndGlyphs" fill="#000" stroke="#000" stroke-width="0.6">Survey scan</text>
<text x="865.09" y="61.20" font-family='"Liberation Serif", "Times New Roman", serif' font-size="67.45" font-weight="bold" textLength="31.87" lengthAdjust="spacingAndGlyphs" fill="#000" stroke="#000" stroke-width="0.25">a</text>
<text x="1554.75" y="740.60" font-family='"Liberation Serif", "Times New Roman", serif' font-size="66.04" font-weight="bold" textLength="36.78" lengthAdjust="spacingAndGlyphs" fill="#000" stroke="#000" stroke-width="0.25">d</text>
<text x="882.59" y="1422.20" font-family='"Liberation Serif", "Times New Roman", serif' font-size="67.87" font-weight="bold" textLength="29.28" lengthAdjust="spacingAndGlyphs" fill="#000" stroke="#000" stroke-width="0.25">e</text>
<text x="1556.53" y="1425.60" font-family='"Liberation Serif", "Times New Roman", serif' font-size="62.41" font-weight="bold" textLength="24.98" lengthAdjust="spacingAndGlyphs" fill="#000" stroke="#000" stroke-width="0.25">f</text>
<text x="877.01" y="732.70" font-family='"Liberation Serif", "Times New Roman", serif' font-size="68.94" font-weight="bold" textLength="30.32" lengthAdjust="spacingAndGlyphs" fill="#fff" stroke="#fff" stroke-width="0.25">c</text>
<text x="133.22" y="268.10" font-family='"Liberation Serif", "Times New Roman", serif' font-size="29.01" font-weight="bold" textLength="72.68" lengthAdjust="spacingAndGlyphs" fill="#000" stroke="#000" stroke-width="0.25">Name</text>
<text x="299.81" y="268.10" font-family='"Liberation Serif", "Times New Roman", serif' font-size="29.01" font-weight="bold" textLength="87.21" lengthAdjust="spacingAndGlyphs" fill="#000" stroke="#000" stroke-width="0.25">At (%)</text>
<text x="145.69" y="313.70" font-family='"Liberation Serif", "Times New Roman", serif' font-size="29.46" textLength="47.00" lengthAdjust="spacingAndGlyphs" fill="#000" stroke="#000" stroke-width="0.45">C1s</text>
<text x="268.63" y="313.70" font-family='"Liberation Serif", "Times New Roman", serif' font-size="29.46" textLength="147.60" lengthAdjust="spacingAndGlyphs" fill="#000" stroke="#000" stroke-width="0.45">59.11 ± 0.55</text>
<text x="145.60" y="359.50" font-family='"Liberation Serif", "Times New Roman", serif' font-size="28.55" textLength="48.29" lengthAdjust="spacingAndGlyphs" fill="#000" stroke="#000" stroke-width="0.45">N1s</text>
<text x="275.21" y="359.50" font-family='"Liberation Serif", "Times New Roman", serif' font-size="28.55" textLength="135.45" lengthAdjust="spacingAndGlyphs" fill="#000" stroke="#000" stroke-width="0.45">6.75 ± 0.48</text>
<text x="144.17" y="405.10" font-family='"Liberation Serif", "Times New Roman", serif' font-size="29.00" textLength="49.55" lengthAdjust="spacingAndGlyphs" fill="#000" stroke="#000" stroke-width="0.45">O1s</text>
<text x="268.68" y="405.10" font-family='"Liberation Serif", "Times New Roman", serif' font-size="29.00" textLength="148.07" lengthAdjust="spacingAndGlyphs" fill="#000" stroke="#000" stroke-width="0.45">34.13 ± 0.47</text>
<text x="167.60" y="757.40" font-family='"Liberation Serif", "Times New Roman", serif' font-size="30.69" font-weight="bold" textLength="75.23" lengthAdjust="spacingAndGlyphs" fill="#000" stroke="#000" stroke-width="0.25">Name</text>
<text x="294.70" y="757.40" font-family='"Liberation Serif", "Times New Roman", serif' font-size="30.69" font-weight="bold" textLength="82.76" lengthAdjust="spacingAndGlyphs" fill="#000" stroke="#000" stroke-width="0.25">At(%)</text>
<text x="166.94" y="804.80" font-family='"Liberation Serif", "Times New Roman", serif' font-size="29.61" textLength="48.89" lengthAdjust="spacingAndGlyphs" fill="#000" stroke="#000" stroke-width="0.45">C1s</text>
<text x="293.19" y="804.80" font-family='"Liberation Serif", "Times New Roman", serif' font-size="29.61" textLength="137.23" lengthAdjust="spacingAndGlyphs" fill="#000" stroke="#000" stroke-width="0.45">53.38±0.54</text>
<text x="167.28" y="854.00" font-family='"Liberation Serif", "Times New Roman", serif' font-size="29.61" textLength="49.54" lengthAdjust="spacingAndGlyphs" fill="#000" stroke="#000" stroke-width="0.45">N1s</text>
<text x="293.63" y="854.00" font-family='"Liberation Serif", "Times New Roman", serif' font-size="29.61" textLength="122.95" lengthAdjust="spacingAndGlyphs" fill="#000" stroke="#000" stroke-width="0.45">3.99±0.39</text>
<text x="166.65" y="938.90" font-family='"Liberation Serif", "Times New Roman", serif' font-size="29.61" textLength="50.18" lengthAdjust="spacingAndGlyphs" fill="#000" stroke="#000" stroke-width="0.45">O1s</text>
<text x="293.64" y="938.90" font-family='"Liberation Serif", "Times New Roman", serif' font-size="29.61" textLength="122.03" lengthAdjust="spacingAndGlyphs" fill="#000" stroke="#000" stroke-width="0.45">39.76±0.5</text>
<text x="165.90" y="1023.70" font-family='"Liberation Serif", "Times New Roman", serif' font-size="29.61" textLength="105.27" lengthAdjust="spacingAndGlyphs" fill="#000" stroke="#000" stroke-width="0.45">Zn2p3/2</text>
<text x="293.64" y="1023.70" font-family='"Liberation Serif", "Times New Roman", serif' font-size="29.61" textLength="122.49" lengthAdjust="spacingAndGlyphs" fill="#000" stroke="#000" stroke-width="0.45">2.87±0.12</text>
<text x="88.18" y="1651.40" font-family='"Liberation Serif", "Times New Roman", serif' font-size="29.16" font-weight="bold" textLength="76.86" lengthAdjust="spacingAndGlyphs" fill="#000" stroke="#000" stroke-width="0.25">Name</text>
<text x="218.29" y="1651.40" font-family='"Liberation Serif", "Times New Roman", serif' font-size="29.16" font-weight="bold" textLength="84.60" lengthAdjust="spacingAndGlyphs" fill="#000" stroke="#000" stroke-width="0.25">At(%)</text>
<text x="87.84" y="1695.80" font-family='"Liberation Serif", "Times New Roman", serif' font-size="28.40" textLength="48.89" lengthAdjust="spacingAndGlyphs" fill="#000" stroke="#000" stroke-width="0.45">C1s</text>
<text x="217.77" y="1695.80" font-family='"Liberation Serif", "Times New Roman", serif' font-size="28.40" textLength="155.22" lengthAdjust="spacingAndGlyphs" fill="#000" stroke="#000" stroke-width="0.45">80.32 ± 0.49</text>
<text x="87.87" y="1739.50" font-family='"Liberation Serif", "Times New Roman", serif' font-size="28.55" textLength="50.16" lengthAdjust="spacingAndGlyphs" fill="#000" stroke="#000" stroke-width="0.45">N1s</text>
<text x="217.15" y="1739.50" font-family='"Liberation Serif", "Times New Roman", serif' font-size="28.55" textLength="140.48" lengthAdjust="spacingAndGlyphs" fill="#000" stroke="#000" stroke-width="0.45">5.04 ± 0.44</text>
<text x="86.93" y="1799.70" font-family='"Liberation Serif", "Times New Roman", serif' font-size="29.46" textLength="51.12" lengthAdjust="spacingAndGlyphs" fill="#000" stroke="#000" stroke-width="0.45">O1s</text>
<text x="218.73" y="1799.70" font-family='"Liberation Serif", "Times New Roman", serif' font-size="29.46" textLength="152.44" lengthAdjust="spacingAndGlyphs" fill="#000" stroke="#000" stroke-width="0.45">14.63 ± 0.33</text>
<text transform="translate(555.70,170.92) rotate(-90)" x="0" y="0" font-family='"Liberation Sans", Arial, sans-serif' font-size="38.86" textLength="75.94" lengthAdjust="spacingAndGlyphs" fill="#000" stroke="#000" stroke-width="0.6">O 1s</text>
<text transform="translate(650.70,457.58) rotate(-90)" x="0" y="0" font-family='"Liberation Sans", Arial, sans-serif' font-size="38.55" textLength="73.98" lengthAdjust="spacingAndGlyphs" fill="#000" stroke="#000" stroke-width="0.6">N 1s</text>
<text transform="translate(740.30,334.40) rotate(-90)" x="0" y="0" font-family='"Liberation Sans", Arial, sans-serif' font-size="38.86" textLength="74.00" lengthAdjust="spacingAndGlyphs" fill="#000" stroke="#000" stroke-width="0.6">C 1s</text>
<text transform="translate(120.30,961.29) rotate(-90)" x="0" y="0" font-family='"Liberation Sans", Arial, sans-serif' font-size="32.85" textLength="75.54" lengthAdjust="spacingAndGlyphs" fill="#000" stroke="#000" stroke-width="0.6">Zn 2<tspan font-style="italic">p</tspan></text>
<text transform="translate(515.80,744.80) rotate(-90)" x="0" y="0" font-family='"Liberation Sans", Arial, sans-serif' font-size="34.57" textLength="60.93" lengthAdjust="spacingAndGlyphs" fill="#000" stroke="#000" stroke-width="0.6">O 1<tspan font-style="italic">s</tspan></text>
<text transform="translate(562.20,1050.88) rotate(-90)" x="0" y="0" font-family='"Liberation Sans", Arial, sans-serif' font-size="33.72" textLength="107.09" lengthAdjust="spacingAndGlyphs" fill="#000" stroke="#000" stroke-width="0.6">Zn <tspan font-style="italic">LMM</tspan></text>
<text transform="translate(620.70,1128.18) rotate(-90)" x="0" y="0" font-family='"Liberation Sans", Arial, sans-serif' font-size="33.28" textLength="61.26" lengthAdjust="spacingAndGlyphs" fill="#000" stroke="#000" stroke-width="0.6">N 1s</text>
<text transform="translate(708.20,997.11) rotate(-90)" x="0" y="0" font-family='"Liberation Sans", Arial, sans-serif' font-size="34.14" textLength="61.89" lengthAdjust="spacingAndGlyphs" fill="#000" stroke="#000" stroke-width="0.6">C 1s</text>
<text transform="translate(825.40,1135.38) rotate(-90)" x="0" y="0" font-family='"Liberation Sans", Arial, sans-serif' font-size="31.14" textLength="73.70" lengthAdjust="spacingAndGlyphs" fill="#000" stroke="#000" stroke-width="0.6">Zn 3<tspan font-style="italic">s</tspan></text>
<text transform="translate(867.60,1136.28) rotate(-90)" x="0" y="0" font-family='"Liberation Sans", Arial, sans-serif' font-size="31.14" textLength="75.33" lengthAdjust="spacingAndGlyphs" fill="#000" stroke="#000" stroke-width="0.6">Zn 3<tspan font-style="italic">p</tspan></text>
<text transform="translate(917.30,1154.67) rotate(-90)" x="0" y="0" font-family='"Liberation Sans", Arial, sans-serif' font-size="32.29" textLength="74.36" lengthAdjust="spacingAndGlyphs" fill="#000" stroke="#000" stroke-width="0.6">Zn 3<tspan font-style="italic">d</tspan></text>
<text transform="translate(564.00,1685.71) rotate(-90)" x="0" y="0" font-family='"Liberation Sans", Arial, sans-serif' font-size="36.71" textLength="70.64" lengthAdjust="spacingAndGlyphs" fill="#000" stroke="#000" stroke-width="0.6">O 1s</text>
<text transform="translate(656.70,1795.23) rotate(-90)" x="0" y="0" font-family='"Liberation Sans", Arial, sans-serif' font-size="37.25" textLength="70.06" lengthAdjust="spacingAndGlyphs" fill="#000" stroke="#000" stroke-width="0.6">N 1s</text>
<text transform="translate(749.30,1507.00) rotate(-90)" x="0" y="0" font-family='"Liberation Sans", Arial, sans-serif' font-size="36.71" textLength="69.93" lengthAdjust="spacingAndGlyphs" fill="#000" stroke="#000" stroke-width="0.6">C 1s</text>
<text transform="translate(842.00,1861.43) rotate(-90)" x="0" y="0" font-family='"Liberation Sans", Arial, sans-serif' font-size="36.69" textLength="75.75" lengthAdjust="spacingAndGlyphs" fill="#000" stroke="#000" stroke-width="0.6">Si 2<tspan font-style="italic">s</tspan></text>
<text transform="translate(887.60,1862.53) rotate(-90)" x="0" y="0" font-family='"Liberation Sans", Arial, sans-serif' font-size="36.69" textLength="77.53" lengthAdjust="spacingAndGlyphs" fill="#000" stroke="#000" stroke-width="0.6">Si 2<tspan font-style="italic">p</tspan></text>
<text x="1022.13" y="42.10" font-family='"Liberation Sans", Arial, sans-serif' font-size="30.57" textLength="64.43" lengthAdjust="spacingAndGlyphs" fill="#000" stroke="#000" stroke-width="0.6">C 1<tspan font-style="italic">s</tspan></text>
<text x="1099.28" y="76.90" font-family='"Liberation Sans", Arial, sans-serif' font-size="31.01" textLength="63.99" lengthAdjust="spacingAndGlyphs" fill="#000" stroke="#000" stroke-width="0.6">Data</text>
<text x="1099.32" y="110.70" font-family='"Liberation Sans", Arial, sans-serif' font-size="29.52" textLength="84.23" lengthAdjust="spacingAndGlyphs" fill="#000" stroke="#000" stroke-width="0.6">Peak1</text>
<text x="1099.23" y="144.80" font-family='"Liberation Sans", Arial, sans-serif' font-size="29.10" textLength="87.42" lengthAdjust="spacingAndGlyphs" fill="#000" stroke="#000" stroke-width="0.6">Peak2</text>
<text x="1099.23" y="178.80" font-family='"Liberation Sans", Arial, sans-serif' font-size="27.72" textLength="87.52" lengthAdjust="spacingAndGlyphs" fill="#000" stroke="#000" stroke-width="0.6">Peak3</text>
<text x="1099.13" y="213.50" font-family='"Liberation Sans", Arial, sans-serif' font-size="30.00" textLength="46.37" lengthAdjust="spacingAndGlyphs" fill="#000" stroke="#000" stroke-width="0.6">BG</text>
<text x="1099.23" y="247.90" font-family='"Liberation Sans", Arial, sans-serif' font-size="28.97" textLength="34.36" lengthAdjust="spacingAndGlyphs" fill="#000" stroke="#000" stroke-width="0.6">Fit</text>
<text x="1022.15" y="282.40" font-family='"Liberation Sans", Arial, sans-serif' font-size="30.57" textLength="192.42" lengthAdjust="spacingAndGlyphs" fill="#000" stroke="#000" stroke-width="0.6">FWHM 1.3 eV</text>
<line x1="1029.5" y1="100.0" x2="1083.8" y2="100.0" stroke="#0b1d45" stroke-width="4.8" stroke-linecap="round"/>
<line x1="1029.5" y1="134.1" x2="1083.8" y2="134.1" stroke="#1b9ad6" stroke-width="4.8" stroke-linecap="round"/>
<line x1="1029.5" y1="168.5" x2="1083.8" y2="168.5" stroke="#7ed020" stroke-width="4.8" stroke-linecap="round"/>
<line x1="1029.5" y1="202.6" x2="1083.8" y2="202.6" stroke="#474747" stroke-width="4.6" stroke-linecap="round"/>
<line x1="1029.5" y1="237.6" x2="1083.8" y2="237.6" stroke="#000" stroke-width="4.6" stroke-linecap="round"/>
<circle cx="1056.7" cy="66.2" r="8.6" fill="none" stroke="#111" stroke-width="2.2"/>
<text x="1022.48" y="711.10" font-family='"Liberation Sans", Arial, sans-serif' font-size="30.57" textLength="66.50" lengthAdjust="spacingAndGlyphs" fill="#000" stroke="#000" stroke-width="0.6">C 1<tspan font-style="italic">s</tspan></text>
<text x="1100.81" y="745.90" font-family='"Liberation Sans", Arial, sans-serif' font-size="31.01" textLength="65.66" lengthAdjust="spacingAndGlyphs" fill="#000" stroke="#000" stroke-width="0.6">Data</text>
<text x="1100.89" y="780.20" font-family='"Liberation Sans", Arial, sans-serif' font-size="28.97" textLength="85.59" lengthAdjust="spacingAndGlyphs" fill="#000" stroke="#000" stroke-width="0.6">Peak1</text>
<text x="1100.80" y="814.10" font-family='"Liberation Sans", Arial, sans-serif' font-size="27.72" textLength="88.58" lengthAdjust="spacingAndGlyphs" fill="#000" stroke="#000" stroke-width="0.6">Peak2</text>
<text x="1100.80" y="848.10" font-family='"Liberation Sans", Arial, sans-serif' font-size="28.55" textLength="88.67" lengthAdjust="spacingAndGlyphs" fill="#000" stroke="#000" stroke-width="0.6">Peak3</text>
<text x="1100.83" y="882.20" font-family='"Liberation Sans", Arial, sans-serif' font-size="28.55" textLength="87.41" lengthAdjust="spacingAndGlyphs" fill="#000" stroke="#000" stroke-width="0.6">Peak4</text>
<text x="1100.75" y="915.60" font-family='"Liberation Sans", Arial, sans-serif' font-size="27.59" textLength="35.44" lengthAdjust="spacingAndGlyphs" fill="#000" stroke="#000" stroke-width="0.6">Fit</text>
<text x="1100.69" y="949.70" font-family='"Liberation Sans", Arial, sans-serif' font-size="29.57" textLength="47.15" lengthAdjust="spacingAndGlyphs" fill="#000" stroke="#000" stroke-width="0.6">BG</text>
<text x="1022.91" y="984.50" font-family='"Liberation Sans", Arial, sans-serif' font-size="30.00" textLength="195.67" lengthAdjust="spacingAndGlyphs" fill="#000" stroke="#000" stroke-width="0.6">FWHM 1.4 eV</text>
<line x1="1030.0" y1="769.3" x2="1086.0" y2="769.3" stroke="#0b1d45" stroke-width="4.6" stroke-linecap="round"/>
<line x1="1030.0" y1="803.4" x2="1086.0" y2="803.4" stroke="#1b9ad6" stroke-width="5.0" stroke-linecap="round"/>
<line x1="1030.0" y1="837.4" x2="1086.0" y2="837.4" stroke="#86d21a" stroke-width="4.6" stroke-linecap="round"/>
<line x1="1030.0" y1="871.9" x2="1086.0" y2="871.9" stroke="#ff5a12" stroke-width="4.6" stroke-linecap="round"/>
<line x1="1030.0" y1="905.6" x2="1086.0" y2="905.6" stroke="#000" stroke-width="5.6" stroke-linecap="round"/>
<line x1="1030.0" y1="939.7" x2="1086.0" y2="939.7" stroke="#3a3a3a" stroke-width="3.6" stroke-linecap="round"/>
<circle cx="1058.5" cy="735.6" r="8.6" fill="none" stroke="#111" stroke-width="2.2"/>
<text x="1035.57" y="1402.10" font-family='"Liberation Sans", Arial, sans-serif' font-size="36.29" textLength="75.20" lengthAdjust="spacingAndGlyphs" fill="#000" stroke="#000" stroke-width="0.6">C 1<tspan font-style="italic">s</tspan></text>
<text x="1121.48" y="1440.90" font-family='"Liberation Sans", Arial, sans-serif' font-size="35.94" textLength="74.40" lengthAdjust="spacingAndGlyphs" fill="#000" stroke="#000" stroke-width="0.6">Data</text>
<text x="1121.52" y="1479.00" font-family='"Liberation Sans", Arial, sans-serif' font-size="33.24" textLength="98.67" lengthAdjust="spacingAndGlyphs" fill="#000" stroke="#000" stroke-width="0.6">Peak1</text>
<text x="1121.43" y="1517.80" font-family='"Liberation Sans", Arial, sans-serif' font-size="33.24" textLength="101.68" lengthAdjust="spacingAndGlyphs" fill="#000" stroke="#000" stroke-width="0.6">Peak2</text>
<text x="1121.42" y="1557.40" font-family='"Liberation Sans", Arial, sans-serif' font-size="34.07" textLength="101.93" lengthAdjust="spacingAndGlyphs" fill="#000" stroke="#000" stroke-width="0.6">Peak3</text>
<text x="1121.35" y="1596.20" font-family='"Liberation Sans", Arial, sans-serif' font-size="34.29" textLength="53.20" lengthAdjust="spacingAndGlyphs" fill="#000" stroke="#000" stroke-width="0.6">BG</text>
<text x="1121.38" y="1635.00" font-family='"Liberation Sans", Arial, sans-serif' font-size="33.24" textLength="40.53" lengthAdjust="spacingAndGlyphs" fill="#000" stroke="#000" stroke-width="0.6">Fit</text>
<line x1="1043.0" y1="1467.4" x2="1104.5" y2="1467.4" stroke="#103a12" stroke-width="4.8" stroke-linecap="round"/>
<line x1="1043.0" y1="1506.2" x2="1104.5" y2="1506.2" stroke="#1aa0f0" stroke-width="4.8" stroke-linecap="round"/>
<line x1="1043.0" y1="1545.1" x2="1104.5" y2="1545.1" stroke="#7acc10" stroke-width="4.6" stroke-linecap="round"/>
<line x1="1043.0" y1="1584.2" x2="1104.5" y2="1584.2" stroke="#4a4a4a" stroke-width="4.6" stroke-linecap="round"/>
<line x1="1043.0" y1="1623.0" x2="1104.5" y2="1623.0" stroke="#000" stroke-width="4.8" stroke-linecap="round"/>
<circle cx="1074.1" cy="1428.8" r="9.6" fill="none" stroke="#333" stroke-width="2.4"/>
</svg></body></html>
